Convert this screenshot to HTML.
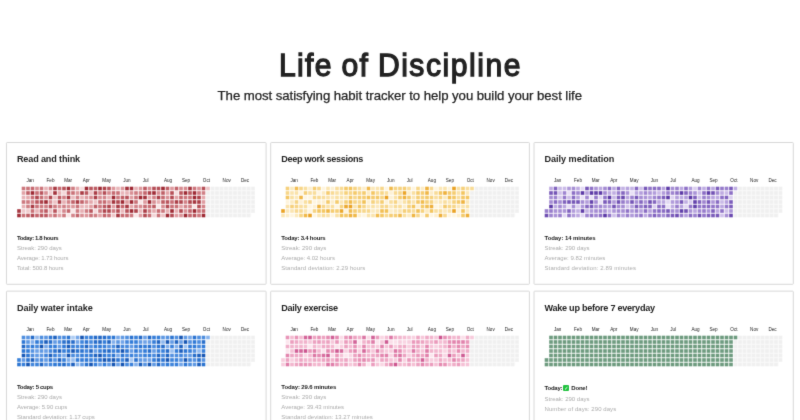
<!DOCTYPE html>
<html lang="en"><head><meta charset="utf-8"><title>Life of Discipline</title>
<style>
html,body{margin:0;padding:0;background:#fff;}
body{width:800px;height:420px;overflow:hidden;position:relative;font-family:"Liberation Sans",sans-serif;color:#222;}
h1{position:absolute;margin:0;left:278.9px;top:50.2px;transform:scaleX(0.94);transform-origin:0 0;font-weight:normal;font-size:32px;line-height:30px;color:#222;white-space:nowrap;-webkit-text-stroke:1.3px #222;}
.sub{position:absolute;margin:0;left:217.6px;top:89px;font-size:13.2px;line-height:14px;color:#222;white-space:nowrap;-webkit-text-stroke:0.25px #222;}
.card{position:absolute;}
.card svg{position:absolute;left:-4px;top:-4px;overflow:visible;}
.card h2{position:absolute;margin:0;font-size:9.1px;line-height:10px;font-weight:bold;white-space:nowrap;color:#222;}
.st{position:absolute;margin:0;font-size:6.0px;line-height:10px;white-space:nowrap;color:#acacac;}
.st.b{font-weight:bold;color:#222;}
.ck{display:inline-block;width:6px;height:6px;background:#22c240;border-radius:1px;vertical-align:0;color:#fff;font-size:5px;line-height:6px;text-align:center;font-family:"DejaVu Sans",sans-serif;letter-spacing:0;margin:0 2.1px 0 -0.5px;}
.m{font-size:4.6px;fill:#222;font-family:"Liberation Sans",sans-serif;text-anchor:middle;}
.fr{fill:#fff;stroke:#d8d8d8;stroke-width:1;}
#w{position:absolute;left:0;top:0;width:800px;height:420px;overflow:hidden;background:#fff;filter:url(#soft);}
</style></head><body>
<svg width="0" height="0" style="position:absolute"><defs><filter id="soft" x="0" y="0" width="100%" height="100%" color-interpolation-filters="sRGB"><feConvolveMatrix order="3" kernelMatrix="1 8 1 8 64 8 1 8 1" divisor="100" edgeMode="duplicate" preserveAlpha="true"/></filter></defs></svg>
<div id="w">
<h1 style="letter-spacing:1.417px;word-spacing:-1.1px">Life of <span style="letter-spacing:1.627px">Discipline</span></h1>
<p class="sub" style="letter-spacing:-0.054px">The most satisfying habit tracker to help you build your best life</p>
<div class="card" style="left:6px;top:142px;width:262px;height:144px">
<svg width="270" height="152"><g transform="translate(-2,-138)">
<rect class="fr" x="6.45" y="142.5" width="259.65" height="141.8" rx="0.7"/>
<g transform="translate(17.2,186.7)">
<text class="m" x="13" y="-4.53">Jan</text><text class="m" x="33.3" y="-4.53">Feb</text><text class="m" x="51" y="-4.53">Mar</text><text class="m" x="69.1" y="-4.53">Apr</text><text class="m" x="89.5" y="-4.53">May</text><text class="m" x="109.7" y="-4.53">Jun</text><text class="m" x="128.5" y="-4.53">Jul</text><text class="m" x="150.8" y="-4.53">Aug</text><text class="m" x="168.8" y="-4.53">Sep</text><text class="m" x="189.2" y="-4.53">Oct</text><text class="m" x="209.5" y="-4.53">Nov</text><text class="m" x="227.8" y="-4.53">Dec</text>
<rect x="4.5" y="0" width="183.6" height="30.6" fill="#fdfafa"/><rect x="0" y="22.5" width="4.5" height="8.1" fill="#fdfafa"/><rect x="188" y="0" width="4.6" height="3.6" fill="#fdfafa"/><rect x="193.5" y="0" width="40.5" height="30.6" fill="#fafafa"/><rect x="234" y="0" width="3.6" height="26.1" fill="#fafafa"/><rect x="189" y="4.5" width="4.5" height="26.1" fill="#fafafa"/>
<rect x="0" y="22.5" width="3.6" height="3.6" fill="#a73842"/><rect x="0" y="27" width="3.6" height="3.6" fill="#a2303a"/>
<rect x="4.5" y="0" width="3.6" height="3.6" fill="#cc777d"/><rect x="4.5" y="4.5" width="3.6" height="3.6" fill="#e2a3a7"/><rect x="4.5" y="9" width="3.6" height="3.6" fill="#e8b4b8"/><rect x="4.5" y="13.5" width="3.6" height="3.6" fill="#cd797f"/><rect x="4.5" y="18" width="3.6" height="3.6" fill="#e7b1b4"/><rect x="4.5" y="22.5" width="3.6" height="3.6" fill="#efc7ca"/><rect x="4.5" y="27" width="3.6" height="3.6" fill="#c97076"/>
<rect x="9" y="0" width="3.6" height="3.6" fill="#ca7379"/><rect x="9" y="4.5" width="3.6" height="3.6" fill="#bf5e65"/><rect x="9" y="9" width="3.6" height="3.6" fill="#e5abae"/><rect x="9" y="13.5" width="3.6" height="3.6" fill="#ce7a80"/><rect x="9" y="18" width="3.6" height="3.6" fill="#d07e83"/><rect x="9" y="22.5" width="3.6" height="3.6" fill="#f0cbcd"/><rect x="9" y="27" width="3.6" height="3.6" fill="#bf5e65"/>
<rect x="13.5" y="0" width="3.6" height="3.6" fill="#c66970"/><rect x="13.5" y="4.5" width="3.6" height="3.6" fill="#9e2a34"/><rect x="13.5" y="9" width="3.6" height="3.6" fill="#c96f76"/><rect x="13.5" y="13.5" width="3.6" height="3.6" fill="#d28287"/><rect x="13.5" y="18" width="3.6" height="3.6" fill="#a93b44"/><rect x="13.5" y="22.5" width="3.6" height="3.6" fill="#c97076"/><rect x="13.5" y="27" width="3.6" height="3.6" fill="#b34b54"/>
<rect x="18" y="0" width="3.6" height="3.6" fill="#d78e93"/><rect x="18" y="4.5" width="3.6" height="3.6" fill="#c86f75"/><rect x="18" y="9" width="3.6" height="3.6" fill="#af464e"/><rect x="18" y="13.5" width="3.6" height="3.6" fill="#ba565e"/><rect x="18" y="18" width="3.6" height="3.6" fill="#cb737a"/><rect x="18" y="22.5" width="3.6" height="3.6" fill="#e8b4b7"/><rect x="18" y="27" width="3.6" height="3.6" fill="#c2636a"/>
<rect x="22.5" y="0" width="3.6" height="3.6" fill="#cc767c"/><rect x="22.5" y="4.5" width="3.6" height="3.6" fill="#b9555d"/><rect x="22.5" y="9" width="3.6" height="3.6" fill="#c86f75"/><rect x="22.5" y="13.5" width="3.6" height="3.6" fill="#ad424b"/><rect x="22.5" y="18" width="3.6" height="3.6" fill="#cf7d83"/><rect x="22.5" y="22.5" width="3.6" height="3.6" fill="#c96f76"/><rect x="22.5" y="27" width="3.6" height="3.6" fill="#bb585f"/>
<rect x="27" y="0" width="3.6" height="3.6" fill="#e8b4b7"/><rect x="27" y="4.5" width="3.6" height="3.6" fill="#d88f94"/><rect x="27" y="9" width="3.6" height="3.6" fill="#db9599"/><rect x="27" y="13.5" width="3.6" height="3.6" fill="#9e2a34"/><rect x="27" y="18" width="3.6" height="3.6" fill="#d07f85"/><rect x="27" y="22.5" width="3.6" height="3.6" fill="#bb5860"/><rect x="27" y="27" width="3.6" height="3.6" fill="#bc5a62"/>
<rect x="31.5" y="0" width="3.6" height="3.6" fill="#d5898e"/><rect x="31.5" y="4.5" width="3.6" height="3.6" fill="#f1cdd0"/><rect x="31.5" y="9" width="3.6" height="3.6" fill="#b14951"/><rect x="31.5" y="13.5" width="3.6" height="3.6" fill="#d99095"/><rect x="31.5" y="18" width="3.6" height="3.6" fill="#b9555d"/><rect x="31.5" y="22.5" width="3.6" height="3.6" fill="#ecc0c3"/><rect x="31.5" y="27" width="3.6" height="3.6" fill="#d99196"/>
<rect x="36" y="0" width="3.6" height="3.6" fill="#a83a43"/><rect x="36" y="4.5" width="3.6" height="3.6" fill="#a2313b"/><rect x="36" y="9" width="3.6" height="3.6" fill="#ecc0c3"/><rect x="36" y="13.5" width="3.6" height="3.6" fill="#edc2c4"/><rect x="36" y="18" width="3.6" height="3.6" fill="#cf7d82"/><rect x="36" y="22.5" width="3.6" height="3.6" fill="#b9545c"/><rect x="36" y="27" width="3.6" height="3.6" fill="#ca7278"/>
<rect x="40.5" y="0" width="3.6" height="3.6" fill="#c66a71"/><rect x="40.5" y="4.5" width="3.6" height="3.6" fill="#e6afb2"/><rect x="40.5" y="9" width="3.6" height="3.6" fill="#bd5c63"/><rect x="40.5" y="13.5" width="3.6" height="3.6" fill="#ad414a"/><rect x="40.5" y="18" width="3.6" height="3.6" fill="#d99196"/><rect x="40.5" y="22.5" width="3.6" height="3.6" fill="#efc7c9"/><rect x="40.5" y="27" width="3.6" height="3.6" fill="#e2a2a6"/>
<rect x="45" y="0" width="3.6" height="3.6" fill="#b8535b"/><rect x="45" y="4.5" width="3.6" height="3.6" fill="#f4d7d9"/><rect x="45" y="9" width="3.6" height="3.6" fill="#d07f85"/><rect x="45" y="13.5" width="3.6" height="3.6" fill="#e6afb2"/><rect x="45" y="18" width="3.6" height="3.6" fill="#d18187"/><rect x="45" y="22.5" width="3.6" height="3.6" fill="#d4878d"/><rect x="45" y="27" width="3.6" height="3.6" fill="#ce797f"/>
<rect x="49.5" y="0" width="3.6" height="3.6" fill="#a02e37"/><rect x="49.5" y="4.5" width="3.6" height="3.6" fill="#c3646b"/><rect x="49.5" y="9" width="3.6" height="3.6" fill="#a6363f"/><rect x="49.5" y="13.5" width="3.6" height="3.6" fill="#d28287"/><rect x="49.5" y="18" width="3.6" height="3.6" fill="#da9498"/><rect x="49.5" y="22.5" width="3.6" height="3.6" fill="#c4666d"/><rect x="49.5" y="27" width="3.6" height="3.6" fill="#f9e6e7"/>
<rect x="54" y="0" width="3.6" height="3.6" fill="#cf7c82"/><rect x="54" y="4.5" width="3.6" height="3.6" fill="#ca7278"/><rect x="54" y="9" width="3.6" height="3.6" fill="#ebbcbf"/><rect x="54" y="13.5" width="3.6" height="3.6" fill="#c16269"/><rect x="54" y="18" width="3.6" height="3.6" fill="#dc989c"/><rect x="54" y="22.5" width="3.6" height="3.6" fill="#f9e6e7"/><rect x="54" y="27" width="3.6" height="3.6" fill="#d3858b"/>
<rect x="58.5" y="0" width="3.6" height="3.6" fill="#e6aeb2"/><rect x="58.5" y="4.5" width="3.6" height="3.6" fill="#db969a"/><rect x="58.5" y="9" width="3.6" height="3.6" fill="#d28288"/><rect x="58.5" y="13.5" width="3.6" height="3.6" fill="#a83a43"/><rect x="58.5" y="18" width="3.6" height="3.6" fill="#cb757b"/><rect x="58.5" y="22.5" width="3.6" height="3.6" fill="#cf7c82"/><rect x="58.5" y="27" width="3.6" height="3.6" fill="#c4666d"/>
<rect x="63" y="0" width="3.6" height="3.6" fill="#f6dcdd"/><rect x="63" y="4.5" width="3.6" height="3.6" fill="#a93b44"/><rect x="63" y="9" width="3.6" height="3.6" fill="#e8b4b7"/><rect x="63" y="13.5" width="3.6" height="3.6" fill="#c2636a"/><rect x="63" y="18" width="3.6" height="3.6" fill="#e9b6ba"/><rect x="63" y="22.5" width="3.6" height="3.6" fill="#e6aeb2"/><rect x="63" y="27" width="3.6" height="3.6" fill="#d88f94"/>
<rect x="67.5" y="0" width="3.6" height="3.6" fill="#9e2a34"/><rect x="67.5" y="4.5" width="3.6" height="3.6" fill="#ba565e"/><rect x="67.5" y="9" width="3.6" height="3.6" fill="#de9a9f"/><rect x="67.5" y="13.5" width="3.6" height="3.6" fill="#d5898f"/><rect x="67.5" y="18" width="3.6" height="3.6" fill="#e9b8bb"/><rect x="67.5" y="22.5" width="3.6" height="3.6" fill="#cf7c82"/><rect x="67.5" y="27" width="3.6" height="3.6" fill="#dd989d"/>
<rect x="72" y="0" width="3.6" height="3.6" fill="#b9555d"/><rect x="72" y="4.5" width="3.6" height="3.6" fill="#edc3c6"/><rect x="72" y="9" width="3.6" height="3.6" fill="#d78c91"/><rect x="72" y="13.5" width="3.6" height="3.6" fill="#e4a7ab"/><rect x="72" y="18" width="3.6" height="3.6" fill="#e1a0a4"/><rect x="72" y="22.5" width="3.6" height="3.6" fill="#b9555d"/><rect x="72" y="27" width="3.6" height="3.6" fill="#cb737a"/>
<rect x="76.5" y="0" width="3.6" height="3.6" fill="#bd5c63"/><rect x="76.5" y="4.5" width="3.6" height="3.6" fill="#aa3d46"/><rect x="76.5" y="9" width="3.6" height="3.6" fill="#ab3f48"/><rect x="76.5" y="13.5" width="3.6" height="3.6" fill="#edc4c6"/><rect x="76.5" y="18" width="3.6" height="3.6" fill="#bf5e66"/><rect x="76.5" y="22.5" width="3.6" height="3.6" fill="#f5d9db"/><rect x="76.5" y="27" width="3.6" height="3.6" fill="#d07e83"/>
<rect x="81" y="0" width="3.6" height="3.6" fill="#9e2a34"/><rect x="81" y="4.5" width="3.6" height="3.6" fill="#d3848a"/><rect x="81" y="9" width="3.6" height="3.6" fill="#d88e93"/><rect x="81" y="13.5" width="3.6" height="3.6" fill="#c97178"/><rect x="81" y="18" width="3.6" height="3.6" fill="#cd797f"/><rect x="81" y="22.5" width="3.6" height="3.6" fill="#cd797f"/><rect x="81" y="27" width="3.6" height="3.6" fill="#e2a2a6"/>
<rect x="85.5" y="0" width="3.6" height="3.6" fill="#ae434b"/><rect x="85.5" y="4.5" width="3.6" height="3.6" fill="#b44c55"/><rect x="85.5" y="9" width="3.6" height="3.6" fill="#d3858b"/><rect x="85.5" y="13.5" width="3.6" height="3.6" fill="#c66a70"/><rect x="85.5" y="18" width="3.6" height="3.6" fill="#bb5860"/><rect x="85.5" y="22.5" width="3.6" height="3.6" fill="#af454e"/><rect x="85.5" y="27" width="3.6" height="3.6" fill="#c4656c"/>
<rect x="90" y="0" width="3.6" height="3.6" fill="#ba565e"/><rect x="90" y="4.5" width="3.6" height="3.6" fill="#d5888d"/><rect x="90" y="9" width="3.6" height="3.6" fill="#e8b3b7"/><rect x="90" y="13.5" width="3.6" height="3.6" fill="#db9499"/><rect x="90" y="18" width="3.6" height="3.6" fill="#b0464e"/><rect x="90" y="22.5" width="3.6" height="3.6" fill="#b14850"/><rect x="90" y="27" width="3.6" height="3.6" fill="#ca7279"/>
<rect x="94.5" y="0" width="3.6" height="3.6" fill="#dd989d"/><rect x="94.5" y="4.5" width="3.6" height="3.6" fill="#c66a71"/><rect x="94.5" y="9" width="3.6" height="3.6" fill="#9e2a34"/><rect x="94.5" y="13.5" width="3.6" height="3.6" fill="#a5353e"/><rect x="94.5" y="18" width="3.6" height="3.6" fill="#e09ea3"/><rect x="94.5" y="22.5" width="3.6" height="3.6" fill="#cf7c82"/><rect x="94.5" y="27" width="3.6" height="3.6" fill="#efc8ca"/>
<rect x="99" y="0" width="3.6" height="3.6" fill="#e9b7ba"/><rect x="99" y="4.5" width="3.6" height="3.6" fill="#c97077"/><rect x="99" y="9" width="3.6" height="3.6" fill="#cd797f"/><rect x="99" y="13.5" width="3.6" height="3.6" fill="#b14951"/><rect x="99" y="18" width="3.6" height="3.6" fill="#a83943"/><rect x="99" y="22.5" width="3.6" height="3.6" fill="#b64f57"/><rect x="99" y="27" width="3.6" height="3.6" fill="#a63740"/>
<rect x="103.5" y="0" width="3.6" height="3.6" fill="#dc979c"/><rect x="103.5" y="4.5" width="3.6" height="3.6" fill="#e9b6ba"/><rect x="103.5" y="9" width="3.6" height="3.6" fill="#c06067"/><rect x="103.5" y="13.5" width="3.6" height="3.6" fill="#9e2a34"/><rect x="103.5" y="18" width="3.6" height="3.6" fill="#c5676e"/><rect x="103.5" y="22.5" width="3.6" height="3.6" fill="#e9b8bb"/><rect x="103.5" y="27" width="3.6" height="3.6" fill="#c86d74"/>
<rect x="108" y="0" width="3.6" height="3.6" fill="#a3313b"/><rect x="108" y="4.5" width="3.6" height="3.6" fill="#e7b1b5"/><rect x="108" y="9" width="3.6" height="3.6" fill="#b75159"/><rect x="108" y="13.5" width="3.6" height="3.6" fill="#de9b9f"/><rect x="108" y="18" width="3.6" height="3.6" fill="#a83942"/><rect x="108" y="22.5" width="3.6" height="3.6" fill="#b7525a"/><rect x="108" y="27" width="3.6" height="3.6" fill="#c66a71"/>
<rect x="112.5" y="0" width="3.6" height="3.6" fill="#9e2a34"/><rect x="112.5" y="4.5" width="3.6" height="3.6" fill="#d99095"/><rect x="112.5" y="9" width="3.6" height="3.6" fill="#e09ea3"/><rect x="112.5" y="13.5" width="3.6" height="3.6" fill="#9e2a34"/><rect x="112.5" y="18" width="3.6" height="3.6" fill="#e4a9ac"/><rect x="112.5" y="22.5" width="3.6" height="3.6" fill="#9e2a34"/><rect x="112.5" y="27" width="3.6" height="3.6" fill="#cf7c82"/>
<rect x="117" y="0" width="3.6" height="3.6" fill="#e7b1b5"/><rect x="117" y="4.5" width="3.6" height="3.6" fill="#ce7a80"/><rect x="117" y="9" width="3.6" height="3.6" fill="#cb737a"/><rect x="117" y="13.5" width="3.6" height="3.6" fill="#c97076"/><rect x="117" y="18" width="3.6" height="3.6" fill="#d3848a"/><rect x="117" y="22.5" width="3.6" height="3.6" fill="#ae434b"/><rect x="117" y="27" width="3.6" height="3.6" fill="#f9e6e7"/>
<rect x="121.5" y="0" width="3.6" height="3.6" fill="#dc989c"/><rect x="121.5" y="4.5" width="3.6" height="3.6" fill="#d5888d"/><rect x="121.5" y="9" width="3.6" height="3.6" fill="#9e2a34"/><rect x="121.5" y="13.5" width="3.6" height="3.6" fill="#f9e6e7"/><rect x="121.5" y="18" width="3.6" height="3.6" fill="#d78c91"/><rect x="121.5" y="22.5" width="3.6" height="3.6" fill="#e9b7ba"/><rect x="121.5" y="27" width="3.6" height="3.6" fill="#df9da2"/>
<rect x="126" y="0" width="3.6" height="3.6" fill="#bc5961"/><rect x="126" y="4.5" width="3.6" height="3.6" fill="#c3646c"/><rect x="126" y="9" width="3.6" height="3.6" fill="#a2313a"/><rect x="126" y="13.5" width="3.6" height="3.6" fill="#de9a9e"/><rect x="126" y="18" width="3.6" height="3.6" fill="#c76c73"/><rect x="126" y="22.5" width="3.6" height="3.6" fill="#ab3e47"/><rect x="126" y="27" width="3.6" height="3.6" fill="#b34c54"/>
<rect x="130.5" y="0" width="3.6" height="3.6" fill="#d78c91"/><rect x="130.5" y="4.5" width="3.6" height="3.6" fill="#ac4049"/><rect x="130.5" y="9" width="3.6" height="3.6" fill="#e5abaf"/><rect x="130.5" y="13.5" width="3.6" height="3.6" fill="#9e2a34"/><rect x="130.5" y="18" width="3.6" height="3.6" fill="#ca7278"/><rect x="130.5" y="22.5" width="3.6" height="3.6" fill="#d18086"/><rect x="130.5" y="27" width="3.6" height="3.6" fill="#c76c73"/>
<rect x="135" y="0" width="3.6" height="3.6" fill="#b54e57"/><rect x="135" y="4.5" width="3.6" height="3.6" fill="#9e2a34"/><rect x="135" y="9" width="3.6" height="3.6" fill="#d28287"/><rect x="135" y="13.5" width="3.6" height="3.6" fill="#d78e93"/><rect x="135" y="18" width="3.6" height="3.6" fill="#bd5c63"/><rect x="135" y="22.5" width="3.6" height="3.6" fill="#e4a8ac"/><rect x="135" y="27" width="3.6" height="3.6" fill="#f3d5d7"/>
<rect x="139.5" y="0" width="3.6" height="3.6" fill="#b54f57"/><rect x="139.5" y="4.5" width="3.6" height="3.6" fill="#d88e93"/><rect x="139.5" y="9" width="3.6" height="3.6" fill="#ac4049"/><rect x="139.5" y="13.5" width="3.6" height="3.6" fill="#e7b1b4"/><rect x="139.5" y="18" width="3.6" height="3.6" fill="#f9e6e7"/><rect x="139.5" y="22.5" width="3.6" height="3.6" fill="#c76b72"/><rect x="139.5" y="27" width="3.6" height="3.6" fill="#ca7278"/>
<rect x="144" y="0" width="3.6" height="3.6" fill="#9e2a34"/><rect x="144" y="4.5" width="3.6" height="3.6" fill="#bf5f66"/><rect x="144" y="9" width="3.6" height="3.6" fill="#c66a71"/><rect x="144" y="13.5" width="3.6" height="3.6" fill="#bd5c63"/><rect x="144" y="18" width="3.6" height="3.6" fill="#d78e93"/><rect x="144" y="22.5" width="3.6" height="3.6" fill="#cc767c"/><rect x="144" y="27" width="3.6" height="3.6" fill="#edc3c5"/>
<rect x="148.5" y="0" width="3.6" height="3.6" fill="#c05f66"/><rect x="148.5" y="4.5" width="3.6" height="3.6" fill="#e3a5a9"/><rect x="148.5" y="9" width="3.6" height="3.6" fill="#da9297"/><rect x="148.5" y="13.5" width="3.6" height="3.6" fill="#ba565e"/><rect x="148.5" y="18" width="3.6" height="3.6" fill="#b34b53"/><rect x="148.5" y="22.5" width="3.6" height="3.6" fill="#e7b0b3"/><rect x="148.5" y="27" width="3.6" height="3.6" fill="#9e2a34"/>
<rect x="153" y="0" width="3.6" height="3.6" fill="#dd999e"/><rect x="153" y="4.5" width="3.6" height="3.6" fill="#b64f57"/><rect x="153" y="9" width="3.6" height="3.6" fill="#b24952"/><rect x="153" y="13.5" width="3.6" height="3.6" fill="#c86e75"/><rect x="153" y="18" width="3.6" height="3.6" fill="#c97178"/><rect x="153" y="22.5" width="3.6" height="3.6" fill="#9e2a34"/><rect x="153" y="27" width="3.6" height="3.6" fill="#b44c55"/>
<rect x="157.5" y="0" width="3.6" height="3.6" fill="#c2636a"/><rect x="157.5" y="4.5" width="3.6" height="3.6" fill="#f6dcde"/><rect x="157.5" y="9" width="3.6" height="3.6" fill="#e1a2a6"/><rect x="157.5" y="13.5" width="3.6" height="3.6" fill="#ab3f48"/><rect x="157.5" y="18" width="3.6" height="3.6" fill="#c97076"/><rect x="157.5" y="22.5" width="3.6" height="3.6" fill="#e6adb1"/><rect x="157.5" y="27" width="3.6" height="3.6" fill="#df9ca1"/>
<rect x="162" y="0" width="3.6" height="3.6" fill="#d68a90"/><rect x="162" y="4.5" width="3.6" height="3.6" fill="#ba575e"/><rect x="162" y="9" width="3.6" height="3.6" fill="#c4666d"/><rect x="162" y="13.5" width="3.6" height="3.6" fill="#b0474f"/><rect x="162" y="18" width="3.6" height="3.6" fill="#e3a5a9"/><rect x="162" y="22.5" width="3.6" height="3.6" fill="#b14850"/><rect x="162" y="27" width="3.6" height="3.6" fill="#db9599"/>
<rect x="166.5" y="0" width="3.6" height="3.6" fill="#d68a8f"/><rect x="166.5" y="4.5" width="3.6" height="3.6" fill="#9e2a34"/><rect x="166.5" y="9" width="3.6" height="3.6" fill="#cc767c"/><rect x="166.5" y="13.5" width="3.6" height="3.6" fill="#d28287"/><rect x="166.5" y="18" width="3.6" height="3.6" fill="#d3858b"/><rect x="166.5" y="22.5" width="3.6" height="3.6" fill="#d88f94"/><rect x="166.5" y="27" width="3.6" height="3.6" fill="#9e2b35"/>
<rect x="171" y="0" width="3.6" height="3.6" fill="#a4343d"/><rect x="171" y="4.5" width="3.6" height="3.6" fill="#b9555d"/><rect x="171" y="9" width="3.6" height="3.6" fill="#c97077"/><rect x="171" y="13.5" width="3.6" height="3.6" fill="#af454d"/><rect x="171" y="18" width="3.6" height="3.6" fill="#d07e84"/><rect x="171" y="22.5" width="3.6" height="3.6" fill="#c2626a"/><rect x="171" y="27" width="3.6" height="3.6" fill="#c3656c"/>
<rect x="175.5" y="0" width="3.6" height="3.6" fill="#cc757c"/><rect x="175.5" y="4.5" width="3.6" height="3.6" fill="#9e2a34"/><rect x="175.5" y="9" width="3.6" height="3.6" fill="#9e2a34"/><rect x="175.5" y="13.5" width="3.6" height="3.6" fill="#a63640"/><rect x="175.5" y="18" width="3.6" height="3.6" fill="#f7e1e2"/><rect x="175.5" y="22.5" width="3.6" height="3.6" fill="#9e2a34"/><rect x="175.5" y="27" width="3.6" height="3.6" fill="#ba565e"/>
<rect x="180" y="0" width="3.6" height="3.6" fill="#da9297"/><rect x="180" y="4.5" width="3.6" height="3.6" fill="#cf7b81"/><rect x="180" y="9" width="3.6" height="3.6" fill="#ac4049"/><rect x="180" y="13.5" width="3.6" height="3.6" fill="#ab3e47"/><rect x="180" y="18" width="3.6" height="3.6" fill="#b54e56"/><rect x="180" y="22.5" width="3.6" height="3.6" fill="#ca7379"/><rect x="180" y="27" width="3.6" height="3.6" fill="#cd787e"/>
<rect x="184.5" y="0" width="3.6" height="3.6" fill="#b64f57"/><rect x="184.5" y="4.5" width="3.6" height="3.6" fill="#d07f85"/><rect x="184.5" y="9" width="3.6" height="3.6" fill="#e5aaae"/><rect x="184.5" y="13.5" width="3.6" height="3.6" fill="#de9ba0"/><rect x="184.5" y="18" width="3.6" height="3.6" fill="#d28287"/><rect x="184.5" y="22.5" width="3.6" height="3.6" fill="#c5696f"/><rect x="184.5" y="27" width="3.6" height="3.6" fill="#9e2a34"/>
<rect x="189" y="0" width="3.6" height="3.6" fill="#edc4c6"/><rect x="189" y="4.5" width="3.6" height="3.6" fill="#f0f0f0"/><rect x="189" y="9" width="3.6" height="3.6" fill="#f0f0f0"/><rect x="189" y="13.5" width="3.6" height="3.6" fill="#f0f0f0"/><rect x="189" y="18" width="3.6" height="3.6" fill="#f0f0f0"/><rect x="189" y="22.5" width="3.6" height="3.6" fill="#f0f0f0"/><rect x="189" y="27" width="3.6" height="3.6" fill="#f0f0f0"/>
<rect x="193.5" y="0" width="3.6" height="3.6" fill="#f0f0f0"/><rect x="193.5" y="4.5" width="3.6" height="3.6" fill="#f0f0f0"/><rect x="193.5" y="9" width="3.6" height="3.6" fill="#f0f0f0"/><rect x="193.5" y="13.5" width="3.6" height="3.6" fill="#f0f0f0"/><rect x="193.5" y="18" width="3.6" height="3.6" fill="#f0f0f0"/><rect x="193.5" y="22.5" width="3.6" height="3.6" fill="#f0f0f0"/><rect x="193.5" y="27" width="3.6" height="3.6" fill="#f0f0f0"/>
<rect x="198" y="0" width="3.6" height="3.6" fill="#f0f0f0"/><rect x="198" y="4.5" width="3.6" height="3.6" fill="#f0f0f0"/><rect x="198" y="9" width="3.6" height="3.6" fill="#f0f0f0"/><rect x="198" y="13.5" width="3.6" height="3.6" fill="#f0f0f0"/><rect x="198" y="18" width="3.6" height="3.6" fill="#f0f0f0"/><rect x="198" y="22.5" width="3.6" height="3.6" fill="#f0f0f0"/><rect x="198" y="27" width="3.6" height="3.6" fill="#f0f0f0"/>
<rect x="202.5" y="0" width="3.6" height="3.6" fill="#f0f0f0"/><rect x="202.5" y="4.5" width="3.6" height="3.6" fill="#f0f0f0"/><rect x="202.5" y="9" width="3.6" height="3.6" fill="#f0f0f0"/><rect x="202.5" y="13.5" width="3.6" height="3.6" fill="#f0f0f0"/><rect x="202.5" y="18" width="3.6" height="3.6" fill="#f0f0f0"/><rect x="202.5" y="22.5" width="3.6" height="3.6" fill="#f0f0f0"/><rect x="202.5" y="27" width="3.6" height="3.6" fill="#f0f0f0"/>
<rect x="207" y="0" width="3.6" height="3.6" fill="#f0f0f0"/><rect x="207" y="4.5" width="3.6" height="3.6" fill="#f0f0f0"/><rect x="207" y="9" width="3.6" height="3.6" fill="#f0f0f0"/><rect x="207" y="13.5" width="3.6" height="3.6" fill="#f0f0f0"/><rect x="207" y="18" width="3.6" height="3.6" fill="#f0f0f0"/><rect x="207" y="22.5" width="3.6" height="3.6" fill="#f0f0f0"/><rect x="207" y="27" width="3.6" height="3.6" fill="#f0f0f0"/>
<rect x="211.5" y="0" width="3.6" height="3.6" fill="#f0f0f0"/><rect x="211.5" y="4.5" width="3.6" height="3.6" fill="#f0f0f0"/><rect x="211.5" y="9" width="3.6" height="3.6" fill="#f0f0f0"/><rect x="211.5" y="13.5" width="3.6" height="3.6" fill="#f0f0f0"/><rect x="211.5" y="18" width="3.6" height="3.6" fill="#f0f0f0"/><rect x="211.5" y="22.5" width="3.6" height="3.6" fill="#f0f0f0"/><rect x="211.5" y="27" width="3.6" height="3.6" fill="#f0f0f0"/>
<rect x="216" y="0" width="3.6" height="3.6" fill="#f0f0f0"/><rect x="216" y="4.5" width="3.6" height="3.6" fill="#f0f0f0"/><rect x="216" y="9" width="3.6" height="3.6" fill="#f0f0f0"/><rect x="216" y="13.5" width="3.6" height="3.6" fill="#f0f0f0"/><rect x="216" y="18" width="3.6" height="3.6" fill="#f0f0f0"/><rect x="216" y="22.5" width="3.6" height="3.6" fill="#f0f0f0"/><rect x="216" y="27" width="3.6" height="3.6" fill="#f0f0f0"/>
<rect x="220.5" y="0" width="3.6" height="3.6" fill="#f0f0f0"/><rect x="220.5" y="4.5" width="3.6" height="3.6" fill="#f0f0f0"/><rect x="220.5" y="9" width="3.6" height="3.6" fill="#f0f0f0"/><rect x="220.5" y="13.5" width="3.6" height="3.6" fill="#f0f0f0"/><rect x="220.5" y="18" width="3.6" height="3.6" fill="#f0f0f0"/><rect x="220.5" y="22.5" width="3.6" height="3.6" fill="#f0f0f0"/><rect x="220.5" y="27" width="3.6" height="3.6" fill="#f0f0f0"/>
<rect x="225" y="0" width="3.6" height="3.6" fill="#f0f0f0"/><rect x="225" y="4.5" width="3.6" height="3.6" fill="#f0f0f0"/><rect x="225" y="9" width="3.6" height="3.6" fill="#f0f0f0"/><rect x="225" y="13.5" width="3.6" height="3.6" fill="#f0f0f0"/><rect x="225" y="18" width="3.6" height="3.6" fill="#f0f0f0"/><rect x="225" y="22.5" width="3.6" height="3.6" fill="#f0f0f0"/><rect x="225" y="27" width="3.6" height="3.6" fill="#f0f0f0"/>
<rect x="229.5" y="0" width="3.6" height="3.6" fill="#f0f0f0"/><rect x="229.5" y="4.5" width="3.6" height="3.6" fill="#f0f0f0"/><rect x="229.5" y="9" width="3.6" height="3.6" fill="#f0f0f0"/><rect x="229.5" y="13.5" width="3.6" height="3.6" fill="#f0f0f0"/><rect x="229.5" y="18" width="3.6" height="3.6" fill="#f0f0f0"/><rect x="229.5" y="22.5" width="3.6" height="3.6" fill="#f0f0f0"/><rect x="229.5" y="27" width="3.6" height="3.6" fill="#f0f0f0"/>
<rect x="234" y="0" width="3.6" height="3.6" fill="#f0f0f0"/><rect x="234" y="4.5" width="3.6" height="3.6" fill="#f0f0f0"/><rect x="234" y="9" width="3.6" height="3.6" fill="#f0f0f0"/><rect x="234" y="13.5" width="3.6" height="3.6" fill="#f0f0f0"/><rect x="234" y="18" width="3.6" height="3.6" fill="#f0f0f0"/><rect x="234" y="22.5" width="3.6" height="3.6" fill="#f0f0f0"/>
</g></g></svg>
<h2 style="left:10.90px;top:11.70px;letter-spacing:-0.149px">Read and think</h2>
<p class="st b" style="left:10.90px;top:91.32px;letter-spacing:-0.385px">Today: 1.8 hours</p>
<p class="st" style="left:10.90px;top:101.37px;letter-spacing:-0.008px">Streak: 290 days</p>
<p class="st" style="left:10.90px;top:111.42px;letter-spacing:-0.133px">Average: 1.73 hours</p>
<p class="st" style="left:10.90px;top:121.47px;letter-spacing:-0.061px">Total: 500.8 hours</p>
</div>
<div class="card" style="left:270px;top:142px;width:261px;height:144px">
<svg width="269" height="152"><g transform="translate(-266,-138)">
<rect class="fr" x="270.7" y="142.5" width="258.7" height="141.8" rx="0.7"/>
<g transform="translate(281.2,186.7)">
<text class="m" x="12.9" y="-4.53">Jan</text><text class="m" x="33.2" y="-4.53">Feb</text><text class="m" x="50.9" y="-4.53">Mar</text><text class="m" x="69" y="-4.53">Apr</text><text class="m" x="89.4" y="-4.53">May</text><text class="m" x="109.6" y="-4.53">Jun</text><text class="m" x="128.4" y="-4.53">Jul</text><text class="m" x="150.7" y="-4.53">Aug</text><text class="m" x="168.7" y="-4.53">Sep</text><text class="m" x="189.1" y="-4.53">Oct</text><text class="m" x="209.4" y="-4.53">Nov</text><text class="m" x="227.7" y="-4.53">Dec</text>
<rect x="4.5" y="0" width="183.6" height="30.6" fill="#fffefb"/><rect x="0" y="22.5" width="4.5" height="8.1" fill="#fffefb"/><rect x="188" y="0" width="4.6" height="3.6" fill="#fffefb"/><rect x="193.5" y="0" width="40.5" height="30.6" fill="#fafafa"/><rect x="234" y="0" width="3.6" height="26.1" fill="#fafafa"/><rect x="189" y="4.5" width="4.5" height="26.1" fill="#fafafa"/>
<rect x="0" y="22.5" width="3.6" height="3.6" fill="#eaa224"/><rect x="0" y="27" width="3.6" height="3.6" fill="#fbe6b6"/>
<rect x="4.5" y="0" width="3.6" height="3.6" fill="#f6d17d"/><rect x="4.5" y="4.5" width="3.6" height="3.6" fill="#f7d68a"/><rect x="4.5" y="9" width="3.6" height="3.6" fill="#f4c764"/><rect x="4.5" y="13.5" width="3.6" height="3.6" fill="#fef4dc"/><rect x="4.5" y="18" width="3.6" height="3.6" fill="#fae2a9"/><rect x="4.5" y="22.5" width="3.6" height="3.6" fill="#fbe8ba"/><rect x="4.5" y="27" width="3.6" height="3.6" fill="#fceecb"/>
<rect x="9" y="0" width="3.6" height="3.6" fill="#fbeabf"/><rect x="9" y="4.5" width="3.6" height="3.6" fill="#fae4ae"/><rect x="9" y="9" width="3.6" height="3.6" fill="#f9e0a2"/><rect x="9" y="13.5" width="3.6" height="3.6" fill="#fcebc2"/><rect x="9" y="18" width="3.6" height="3.6" fill="#f6d07b"/><rect x="9" y="22.5" width="3.6" height="3.6" fill="#fae4b0"/><rect x="9" y="27" width="3.6" height="3.6" fill="#fef5e0"/>
<rect x="13.5" y="0" width="3.6" height="3.6" fill="#f2be53"/><rect x="13.5" y="4.5" width="3.6" height="3.6" fill="#fae2a8"/><rect x="13.5" y="9" width="3.6" height="3.6" fill="#fbe8ba"/><rect x="13.5" y="13.5" width="3.6" height="3.6" fill="#f6d484"/><rect x="13.5" y="18" width="3.6" height="3.6" fill="#f7d586"/><rect x="13.5" y="22.5" width="3.6" height="3.6" fill="#f8d88f"/><rect x="13.5" y="27" width="3.6" height="3.6" fill="#fbeabf"/>
<rect x="18" y="0" width="3.6" height="3.6" fill="#f7d588"/><rect x="18" y="4.5" width="3.6" height="3.6" fill="#fef5e0"/><rect x="18" y="9" width="3.6" height="3.6" fill="#f0b747"/><rect x="18" y="13.5" width="3.6" height="3.6" fill="#fdf1d5"/><rect x="18" y="18" width="3.6" height="3.6" fill="#f9de9e"/><rect x="18" y="22.5" width="3.6" height="3.6" fill="#f8d991"/><rect x="18" y="27" width="3.6" height="3.6" fill="#f7d586"/>
<rect x="22.5" y="0" width="3.6" height="3.6" fill="#f9dfa0"/><rect x="22.5" y="4.5" width="3.6" height="3.6" fill="#f5cf78"/><rect x="22.5" y="9" width="3.6" height="3.6" fill="#fef5e0"/><rect x="22.5" y="13.5" width="3.6" height="3.6" fill="#f9df9f"/><rect x="22.5" y="18" width="3.6" height="3.6" fill="#f9e0a2"/><rect x="22.5" y="22.5" width="3.6" height="3.6" fill="#fae5b0"/><rect x="22.5" y="27" width="3.6" height="3.6" fill="#f0b949"/>
<rect x="27" y="0" width="3.6" height="3.6" fill="#fceecd"/><rect x="27" y="4.5" width="3.6" height="3.6" fill="#f9de9e"/><rect x="27" y="9" width="3.6" height="3.6" fill="#fef5e0"/><rect x="27" y="13.5" width="3.6" height="3.6" fill="#f7d68b"/><rect x="27" y="18" width="3.6" height="3.6" fill="#fef5e0"/><rect x="27" y="22.5" width="3.6" height="3.6" fill="#fef5e0"/><rect x="27" y="27" width="3.6" height="3.6" fill="#eaa224"/>
<rect x="31.5" y="0" width="3.6" height="3.6" fill="#f5cd73"/><rect x="31.5" y="4.5" width="3.6" height="3.6" fill="#f8dd9a"/><rect x="31.5" y="9" width="3.6" height="3.6" fill="#f8d990"/><rect x="31.5" y="13.5" width="3.6" height="3.6" fill="#fef5e0"/><rect x="31.5" y="18" width="3.6" height="3.6" fill="#fdf0d1"/><rect x="31.5" y="22.5" width="3.6" height="3.6" fill="#f6d382"/><rect x="31.5" y="27" width="3.6" height="3.6" fill="#fef5e0"/>
<rect x="36" y="0" width="3.6" height="3.6" fill="#f7d68b"/><rect x="36" y="4.5" width="3.6" height="3.6" fill="#fef5e0"/><rect x="36" y="9" width="3.6" height="3.6" fill="#f8da93"/><rect x="36" y="13.5" width="3.6" height="3.6" fill="#fdf1d4"/><rect x="36" y="18" width="3.6" height="3.6" fill="#eeb23e"/><rect x="36" y="22.5" width="3.6" height="3.6" fill="#f3c661"/><rect x="36" y="27" width="3.6" height="3.6" fill="#fbe6b5"/>
<rect x="40.5" y="0" width="3.6" height="3.6" fill="#fef5e0"/><rect x="40.5" y="4.5" width="3.6" height="3.6" fill="#fcebc3"/><rect x="40.5" y="9" width="3.6" height="3.6" fill="#f9de9d"/><rect x="40.5" y="13.5" width="3.6" height="3.6" fill="#fdefce"/><rect x="40.5" y="18" width="3.6" height="3.6" fill="#f7d68a"/><rect x="40.5" y="22.5" width="3.6" height="3.6" fill="#f4c762"/><rect x="40.5" y="27" width="3.6" height="3.6" fill="#f9de9d"/>
<rect x="45" y="0" width="3.6" height="3.6" fill="#fae5b1"/><rect x="45" y="4.5" width="3.6" height="3.6" fill="#f5cb6e"/><rect x="45" y="9" width="3.6" height="3.6" fill="#fae2aa"/><rect x="45" y="13.5" width="3.6" height="3.6" fill="#f4ca6a"/><rect x="45" y="18" width="3.6" height="3.6" fill="#fae3ab"/><rect x="45" y="22.5" width="3.6" height="3.6" fill="#efb644"/><rect x="45" y="27" width="3.6" height="3.6" fill="#fae2a9"/>
<rect x="49.5" y="0" width="3.6" height="3.6" fill="#fdf0d2"/><rect x="49.5" y="4.5" width="3.6" height="3.6" fill="#f8da94"/><rect x="49.5" y="9" width="3.6" height="3.6" fill="#fbe8bb"/><rect x="49.5" y="13.5" width="3.6" height="3.6" fill="#fceecb"/><rect x="49.5" y="18" width="3.6" height="3.6" fill="#f9dfa1"/><rect x="49.5" y="22.5" width="3.6" height="3.6" fill="#f5cc70"/><rect x="49.5" y="27" width="3.6" height="3.6" fill="#fef5e0"/>
<rect x="54" y="0" width="3.6" height="3.6" fill="#f9dd9c"/><rect x="54" y="4.5" width="3.6" height="3.6" fill="#f9e0a2"/><rect x="54" y="9" width="3.6" height="3.6" fill="#f9e0a2"/><rect x="54" y="13.5" width="3.6" height="3.6" fill="#f4cb6c"/><rect x="54" y="18" width="3.6" height="3.6" fill="#fef5df"/><rect x="54" y="22.5" width="3.6" height="3.6" fill="#f5ce74"/><rect x="54" y="27" width="3.6" height="3.6" fill="#f9e1a6"/>
<rect x="58.5" y="0" width="3.6" height="3.6" fill="#f8da93"/><rect x="58.5" y="4.5" width="3.6" height="3.6" fill="#f9e1a5"/><rect x="58.5" y="9" width="3.6" height="3.6" fill="#fae3ab"/><rect x="58.5" y="13.5" width="3.6" height="3.6" fill="#fbe6b5"/><rect x="58.5" y="18" width="3.6" height="3.6" fill="#f6d382"/><rect x="58.5" y="22.5" width="3.6" height="3.6" fill="#eba82d"/><rect x="58.5" y="27" width="3.6" height="3.6" fill="#f3c55e"/>
<rect x="63" y="0" width="3.6" height="3.6" fill="#f4c969"/><rect x="63" y="4.5" width="3.6" height="3.6" fill="#f6d079"/><rect x="63" y="9" width="3.6" height="3.6" fill="#fae5b2"/><rect x="63" y="13.5" width="3.6" height="3.6" fill="#f5cf76"/><rect x="63" y="18" width="3.6" height="3.6" fill="#eca82e"/><rect x="63" y="22.5" width="3.6" height="3.6" fill="#fef4dc"/><rect x="63" y="27" width="3.6" height="3.6" fill="#f4c96a"/>
<rect x="67.5" y="0" width="3.6" height="3.6" fill="#f3c55f"/><rect x="67.5" y="4.5" width="3.6" height="3.6" fill="#f7d588"/><rect x="67.5" y="9" width="3.6" height="3.6" fill="#f4ca6c"/><rect x="67.5" y="13.5" width="3.6" height="3.6" fill="#f1bb4d"/><rect x="67.5" y="18" width="3.6" height="3.6" fill="#eaa427"/><rect x="67.5" y="22.5" width="3.6" height="3.6" fill="#f1bd51"/><rect x="67.5" y="27" width="3.6" height="3.6" fill="#efb340"/>
<rect x="72" y="0" width="3.6" height="3.6" fill="#f7d484"/><rect x="72" y="4.5" width="3.6" height="3.6" fill="#f4c968"/><rect x="72" y="9" width="3.6" height="3.6" fill="#f7d78d"/><rect x="72" y="13.5" width="3.6" height="3.6" fill="#f7d586"/><rect x="72" y="18" width="3.6" height="3.6" fill="#fae4af"/><rect x="72" y="22.5" width="3.6" height="3.6" fill="#f5cc70"/><rect x="72" y="27" width="3.6" height="3.6" fill="#f0b949"/>
<rect x="76.5" y="0" width="3.6" height="3.6" fill="#f9de9f"/><rect x="76.5" y="4.5" width="3.6" height="3.6" fill="#f7d588"/><rect x="76.5" y="9" width="3.6" height="3.6" fill="#f5cd73"/><rect x="76.5" y="13.5" width="3.6" height="3.6" fill="#f8da94"/><rect x="76.5" y="18" width="3.6" height="3.6" fill="#f3c661"/><rect x="76.5" y="22.5" width="3.6" height="3.6" fill="#f7d587"/><rect x="76.5" y="27" width="3.6" height="3.6" fill="#fdf1d3"/>
<rect x="81" y="0" width="3.6" height="3.6" fill="#fceecc"/><rect x="81" y="4.5" width="3.6" height="3.6" fill="#f4cb6d"/><rect x="81" y="9" width="3.6" height="3.6" fill="#f5cd72"/><rect x="81" y="13.5" width="3.6" height="3.6" fill="#f2c258"/><rect x="81" y="18" width="3.6" height="3.6" fill="#f7d587"/><rect x="81" y="22.5" width="3.6" height="3.6" fill="#f7d689"/><rect x="81" y="27" width="3.6" height="3.6" fill="#fef5e0"/>
<rect x="85.5" y="0" width="3.6" height="3.6" fill="#f0b94b"/><rect x="85.5" y="4.5" width="3.6" height="3.6" fill="#fcecc5"/><rect x="85.5" y="9" width="3.6" height="3.6" fill="#f3c35b"/><rect x="85.5" y="13.5" width="3.6" height="3.6" fill="#fdf0d1"/><rect x="85.5" y="18" width="3.6" height="3.6" fill="#fbe7b8"/><rect x="85.5" y="22.5" width="3.6" height="3.6" fill="#f7d78c"/><rect x="85.5" y="27" width="3.6" height="3.6" fill="#fae3ab"/>
<rect x="90" y="0" width="3.6" height="3.6" fill="#fbe8b9"/><rect x="90" y="4.5" width="3.6" height="3.6" fill="#f4c662"/><rect x="90" y="9" width="3.6" height="3.6" fill="#f5cb6e"/><rect x="90" y="13.5" width="3.6" height="3.6" fill="#f6d27e"/><rect x="90" y="18" width="3.6" height="3.6" fill="#f9e1a6"/><rect x="90" y="22.5" width="3.6" height="3.6" fill="#fbeac0"/><rect x="90" y="27" width="3.6" height="3.6" fill="#fae4ae"/>
<rect x="94.5" y="0" width="3.6" height="3.6" fill="#fae4b0"/><rect x="94.5" y="4.5" width="3.6" height="3.6" fill="#f8db95"/><rect x="94.5" y="9" width="3.6" height="3.6" fill="#f4c969"/><rect x="94.5" y="13.5" width="3.6" height="3.6" fill="#f9de9d"/><rect x="94.5" y="18" width="3.6" height="3.6" fill="#fbe9be"/><rect x="94.5" y="22.5" width="3.6" height="3.6" fill="#fbe6b5"/><rect x="94.5" y="27" width="3.6" height="3.6" fill="#f1bc4f"/>
<rect x="99" y="0" width="3.6" height="3.6" fill="#f7d68a"/><rect x="99" y="4.5" width="3.6" height="3.6" fill="#f7d586"/><rect x="99" y="9" width="3.6" height="3.6" fill="#f7d484"/><rect x="99" y="13.5" width="3.6" height="3.6" fill="#f5cd72"/><rect x="99" y="18" width="3.6" height="3.6" fill="#f7d78c"/><rect x="99" y="22.5" width="3.6" height="3.6" fill="#f2bf54"/><rect x="99" y="27" width="3.6" height="3.6" fill="#f4c866"/>
<rect x="103.5" y="0" width="3.6" height="3.6" fill="#fef5e0"/><rect x="103.5" y="4.5" width="3.6" height="3.6" fill="#f9dd9b"/><rect x="103.5" y="9" width="3.6" height="3.6" fill="#eaa224"/><rect x="103.5" y="13.5" width="3.6" height="3.6" fill="#fdf2d6"/><rect x="103.5" y="18" width="3.6" height="3.6" fill="#f7d78c"/><rect x="103.5" y="22.5" width="3.6" height="3.6" fill="#f2c258"/><rect x="103.5" y="27" width="3.6" height="3.6" fill="#f8da93"/>
<rect x="108" y="0" width="3.6" height="3.6" fill="#f0ba4c"/><rect x="108" y="4.5" width="3.6" height="3.6" fill="#fdf1d5"/><rect x="108" y="9" width="3.6" height="3.6" fill="#fdf1d5"/><rect x="108" y="13.5" width="3.6" height="3.6" fill="#f9de9d"/><rect x="108" y="18" width="3.6" height="3.6" fill="#fbe8ba"/><rect x="108" y="22.5" width="3.6" height="3.6" fill="#fceecb"/><rect x="108" y="27" width="3.6" height="3.6" fill="#f5cd73"/>
<rect x="112.5" y="0" width="3.6" height="3.6" fill="#f6d484"/><rect x="112.5" y="4.5" width="3.6" height="3.6" fill="#f8d992"/><rect x="112.5" y="9" width="3.6" height="3.6" fill="#fae2a8"/><rect x="112.5" y="13.5" width="3.6" height="3.6" fill="#f7d484"/><rect x="112.5" y="18" width="3.6" height="3.6" fill="#f8dc99"/><rect x="112.5" y="22.5" width="3.6" height="3.6" fill="#fbe8b9"/><rect x="112.5" y="27" width="3.6" height="3.6" fill="#f5ce76"/>
<rect x="117" y="0" width="3.6" height="3.6" fill="#f6d17e"/><rect x="117" y="4.5" width="3.6" height="3.6" fill="#f7d88e"/><rect x="117" y="9" width="3.6" height="3.6" fill="#f4ca6c"/><rect x="117" y="13.5" width="3.6" height="3.6" fill="#fceecd"/><rect x="117" y="18" width="3.6" height="3.6" fill="#f9dd9a"/><rect x="117" y="22.5" width="3.6" height="3.6" fill="#fae4ae"/><rect x="117" y="27" width="3.6" height="3.6" fill="#f0ba4c"/>
<rect x="121.5" y="0" width="3.6" height="3.6" fill="#f5ce76"/><rect x="121.5" y="4.5" width="3.6" height="3.6" fill="#eba529"/><rect x="121.5" y="9" width="3.6" height="3.6" fill="#efb441"/><rect x="121.5" y="13.5" width="3.6" height="3.6" fill="#fae1a6"/><rect x="121.5" y="18" width="3.6" height="3.6" fill="#fceecc"/><rect x="121.5" y="22.5" width="3.6" height="3.6" fill="#f5cf78"/><rect x="121.5" y="27" width="3.6" height="3.6" fill="#f9e0a2"/>
<rect x="126" y="0" width="3.6" height="3.6" fill="#f9dd9b"/><rect x="126" y="4.5" width="3.6" height="3.6" fill="#fceeca"/><rect x="126" y="9" width="3.6" height="3.6" fill="#f5cc71"/><rect x="126" y="13.5" width="3.6" height="3.6" fill="#f7d688"/><rect x="126" y="18" width="3.6" height="3.6" fill="#f6d17c"/><rect x="126" y="22.5" width="3.6" height="3.6" fill="#f6d381"/><rect x="126" y="27" width="3.6" height="3.6" fill="#fcebc2"/>
<rect x="130.5" y="0" width="3.6" height="3.6" fill="#fef5e0"/><rect x="130.5" y="4.5" width="3.6" height="3.6" fill="#f9dfa1"/><rect x="130.5" y="9" width="3.6" height="3.6" fill="#fbe6b4"/><rect x="130.5" y="13.5" width="3.6" height="3.6" fill="#fae4af"/><rect x="130.5" y="18" width="3.6" height="3.6" fill="#f3c55e"/><rect x="130.5" y="22.5" width="3.6" height="3.6" fill="#f8dc98"/><rect x="130.5" y="27" width="3.6" height="3.6" fill="#efb644"/>
<rect x="135" y="0" width="3.6" height="3.6" fill="#f7d688"/><rect x="135" y="4.5" width="3.6" height="3.6" fill="#f4cb6d"/><rect x="135" y="9" width="3.6" height="3.6" fill="#f5cf76"/><rect x="135" y="13.5" width="3.6" height="3.6" fill="#f4c866"/><rect x="135" y="18" width="3.6" height="3.6" fill="#fdf1d4"/><rect x="135" y="22.5" width="3.6" height="3.6" fill="#f2c157"/><rect x="135" y="27" width="3.6" height="3.6" fill="#f7d78c"/>
<rect x="139.5" y="0" width="3.6" height="3.6" fill="#fcecc6"/><rect x="139.5" y="4.5" width="3.6" height="3.6" fill="#f5cc71"/><rect x="139.5" y="9" width="3.6" height="3.6" fill="#f6d27f"/><rect x="139.5" y="13.5" width="3.6" height="3.6" fill="#f1bc4e"/><rect x="139.5" y="18" width="3.6" height="3.6" fill="#f4ca6a"/><rect x="139.5" y="22.5" width="3.6" height="3.6" fill="#f6d27e"/><rect x="139.5" y="27" width="3.6" height="3.6" fill="#fef5e0"/>
<rect x="144" y="0" width="3.6" height="3.6" fill="#eeb13d"/><rect x="144" y="4.5" width="3.6" height="3.6" fill="#efb645"/><rect x="144" y="9" width="3.6" height="3.6" fill="#f4c968"/><rect x="144" y="13.5" width="3.6" height="3.6" fill="#f6d079"/><rect x="144" y="18" width="3.6" height="3.6" fill="#f1be52"/><rect x="144" y="22.5" width="3.6" height="3.6" fill="#fceac0"/><rect x="144" y="27" width="3.6" height="3.6" fill="#f4ca6c"/>
<rect x="148.5" y="0" width="3.6" height="3.6" fill="#f8d991"/><rect x="148.5" y="4.5" width="3.6" height="3.6" fill="#fcecc7"/><rect x="148.5" y="9" width="3.6" height="3.6" fill="#f6d27e"/><rect x="148.5" y="13.5" width="3.6" height="3.6" fill="#f6d27f"/><rect x="148.5" y="18" width="3.6" height="3.6" fill="#eeb03c"/><rect x="148.5" y="22.5" width="3.6" height="3.6" fill="#f3c55e"/><rect x="148.5" y="27" width="3.6" height="3.6" fill="#fef5e0"/>
<rect x="153" y="0" width="3.6" height="3.6" fill="#fef5e0"/><rect x="153" y="4.5" width="3.6" height="3.6" fill="#f8db97"/><rect x="153" y="9" width="3.6" height="3.6" fill="#f9de9e"/><rect x="153" y="13.5" width="3.6" height="3.6" fill="#fcebc4"/><rect x="153" y="18" width="3.6" height="3.6" fill="#fef5df"/><rect x="153" y="22.5" width="3.6" height="3.6" fill="#f9de9d"/><rect x="153" y="27" width="3.6" height="3.6" fill="#fdefcf"/>
<rect x="157.5" y="0" width="3.6" height="3.6" fill="#fbe7b7"/><rect x="157.5" y="4.5" width="3.6" height="3.6" fill="#f4c763"/><rect x="157.5" y="9" width="3.6" height="3.6" fill="#f7d485"/><rect x="157.5" y="13.5" width="3.6" height="3.6" fill="#fbe8ba"/><rect x="157.5" y="18" width="3.6" height="3.6" fill="#fdefcd"/><rect x="157.5" y="22.5" width="3.6" height="3.6" fill="#f9de9d"/><rect x="157.5" y="27" width="3.6" height="3.6" fill="#eeaf3a"/>
<rect x="162" y="0" width="3.6" height="3.6" fill="#fae4ad"/><rect x="162" y="4.5" width="3.6" height="3.6" fill="#eeb03a"/><rect x="162" y="9" width="3.6" height="3.6" fill="#fbe9bc"/><rect x="162" y="13.5" width="3.6" height="3.6" fill="#f9de9e"/><rect x="162" y="18" width="3.6" height="3.6" fill="#f4ca6c"/><rect x="162" y="22.5" width="3.6" height="3.6" fill="#fbe8bb"/><rect x="162" y="27" width="3.6" height="3.6" fill="#f8d88f"/>
<rect x="166.5" y="0" width="3.6" height="3.6" fill="#fdf3d9"/><rect x="166.5" y="4.5" width="3.6" height="3.6" fill="#f5cb6e"/><rect x="166.5" y="9" width="3.6" height="3.6" fill="#f2bf54"/><rect x="166.5" y="13.5" width="3.6" height="3.6" fill="#fbe6b5"/><rect x="166.5" y="18" width="3.6" height="3.6" fill="#f7d688"/><rect x="166.5" y="22.5" width="3.6" height="3.6" fill="#fae2a8"/><rect x="166.5" y="27" width="3.6" height="3.6" fill="#fef5e0"/>
<rect x="171" y="0" width="3.6" height="3.6" fill="#eaa224"/><rect x="171" y="4.5" width="3.6" height="3.6" fill="#f5cc70"/><rect x="171" y="9" width="3.6" height="3.6" fill="#f4c865"/><rect x="171" y="13.5" width="3.6" height="3.6" fill="#f6d17d"/><rect x="171" y="18" width="3.6" height="3.6" fill="#f7d689"/><rect x="171" y="22.5" width="3.6" height="3.6" fill="#eaa224"/><rect x="171" y="27" width="3.6" height="3.6" fill="#fef5e0"/>
<rect x="175.5" y="0" width="3.6" height="3.6" fill="#f9e0a3"/><rect x="175.5" y="4.5" width="3.6" height="3.6" fill="#fae2a9"/><rect x="175.5" y="9" width="3.6" height="3.6" fill="#f9de9e"/><rect x="175.5" y="13.5" width="3.6" height="3.6" fill="#f4ca6c"/><rect x="175.5" y="18" width="3.6" height="3.6" fill="#fbe7b9"/><rect x="175.5" y="22.5" width="3.6" height="3.6" fill="#fdf2d8"/><rect x="175.5" y="27" width="3.6" height="3.6" fill="#fdefce"/>
<rect x="180" y="0" width="3.6" height="3.6" fill="#f6d079"/><rect x="180" y="4.5" width="3.6" height="3.6" fill="#f3c55e"/><rect x="180" y="9" width="3.6" height="3.6" fill="#f4c866"/><rect x="180" y="13.5" width="3.6" height="3.6" fill="#efb340"/><rect x="180" y="18" width="3.6" height="3.6" fill="#fae4ae"/><rect x="180" y="22.5" width="3.6" height="3.6" fill="#f3c45c"/><rect x="180" y="27" width="3.6" height="3.6" fill="#f4cb6d"/>
<rect x="184.5" y="0" width="3.6" height="3.6" fill="#f9dd9c"/><rect x="184.5" y="4.5" width="3.6" height="3.6" fill="#fbe8ba"/><rect x="184.5" y="9" width="3.6" height="3.6" fill="#f4c662"/><rect x="184.5" y="13.5" width="3.6" height="3.6" fill="#fbe7b7"/><rect x="184.5" y="18" width="3.6" height="3.6" fill="#f9e0a2"/><rect x="184.5" y="22.5" width="3.6" height="3.6" fill="#fcecc6"/><rect x="184.5" y="27" width="3.6" height="3.6" fill="#edaf3a"/>
<rect x="189" y="0" width="3.6" height="3.6" fill="#f8db95"/><rect x="189" y="4.5" width="3.6" height="3.6" fill="#f0f0f0"/><rect x="189" y="9" width="3.6" height="3.6" fill="#f0f0f0"/><rect x="189" y="13.5" width="3.6" height="3.6" fill="#f0f0f0"/><rect x="189" y="18" width="3.6" height="3.6" fill="#f0f0f0"/><rect x="189" y="22.5" width="3.6" height="3.6" fill="#f0f0f0"/><rect x="189" y="27" width="3.6" height="3.6" fill="#f0f0f0"/>
<rect x="193.5" y="0" width="3.6" height="3.6" fill="#f0f0f0"/><rect x="193.5" y="4.5" width="3.6" height="3.6" fill="#f0f0f0"/><rect x="193.5" y="9" width="3.6" height="3.6" fill="#f0f0f0"/><rect x="193.5" y="13.5" width="3.6" height="3.6" fill="#f0f0f0"/><rect x="193.5" y="18" width="3.6" height="3.6" fill="#f0f0f0"/><rect x="193.5" y="22.5" width="3.6" height="3.6" fill="#f0f0f0"/><rect x="193.5" y="27" width="3.6" height="3.6" fill="#f0f0f0"/>
<rect x="198" y="0" width="3.6" height="3.6" fill="#f0f0f0"/><rect x="198" y="4.5" width="3.6" height="3.6" fill="#f0f0f0"/><rect x="198" y="9" width="3.6" height="3.6" fill="#f0f0f0"/><rect x="198" y="13.5" width="3.6" height="3.6" fill="#f0f0f0"/><rect x="198" y="18" width="3.6" height="3.6" fill="#f0f0f0"/><rect x="198" y="22.5" width="3.6" height="3.6" fill="#f0f0f0"/><rect x="198" y="27" width="3.6" height="3.6" fill="#f0f0f0"/>
<rect x="202.5" y="0" width="3.6" height="3.6" fill="#f0f0f0"/><rect x="202.5" y="4.5" width="3.6" height="3.6" fill="#f0f0f0"/><rect x="202.5" y="9" width="3.6" height="3.6" fill="#f0f0f0"/><rect x="202.5" y="13.5" width="3.6" height="3.6" fill="#f0f0f0"/><rect x="202.5" y="18" width="3.6" height="3.6" fill="#f0f0f0"/><rect x="202.5" y="22.5" width="3.6" height="3.6" fill="#f0f0f0"/><rect x="202.5" y="27" width="3.6" height="3.6" fill="#f0f0f0"/>
<rect x="207" y="0" width="3.6" height="3.6" fill="#f0f0f0"/><rect x="207" y="4.5" width="3.6" height="3.6" fill="#f0f0f0"/><rect x="207" y="9" width="3.6" height="3.6" fill="#f0f0f0"/><rect x="207" y="13.5" width="3.6" height="3.6" fill="#f0f0f0"/><rect x="207" y="18" width="3.6" height="3.6" fill="#f0f0f0"/><rect x="207" y="22.5" width="3.6" height="3.6" fill="#f0f0f0"/><rect x="207" y="27" width="3.6" height="3.6" fill="#f0f0f0"/>
<rect x="211.5" y="0" width="3.6" height="3.6" fill="#f0f0f0"/><rect x="211.5" y="4.5" width="3.6" height="3.6" fill="#f0f0f0"/><rect x="211.5" y="9" width="3.6" height="3.6" fill="#f0f0f0"/><rect x="211.5" y="13.5" width="3.6" height="3.6" fill="#f0f0f0"/><rect x="211.5" y="18" width="3.6" height="3.6" fill="#f0f0f0"/><rect x="211.5" y="22.5" width="3.6" height="3.6" fill="#f0f0f0"/><rect x="211.5" y="27" width="3.6" height="3.6" fill="#f0f0f0"/>
<rect x="216" y="0" width="3.6" height="3.6" fill="#f0f0f0"/><rect x="216" y="4.5" width="3.6" height="3.6" fill="#f0f0f0"/><rect x="216" y="9" width="3.6" height="3.6" fill="#f0f0f0"/><rect x="216" y="13.5" width="3.6" height="3.6" fill="#f0f0f0"/><rect x="216" y="18" width="3.6" height="3.6" fill="#f0f0f0"/><rect x="216" y="22.5" width="3.6" height="3.6" fill="#f0f0f0"/><rect x="216" y="27" width="3.6" height="3.6" fill="#f0f0f0"/>
<rect x="220.5" y="0" width="3.6" height="3.6" fill="#f0f0f0"/><rect x="220.5" y="4.5" width="3.6" height="3.6" fill="#f0f0f0"/><rect x="220.5" y="9" width="3.6" height="3.6" fill="#f0f0f0"/><rect x="220.5" y="13.5" width="3.6" height="3.6" fill="#f0f0f0"/><rect x="220.5" y="18" width="3.6" height="3.6" fill="#f0f0f0"/><rect x="220.5" y="22.5" width="3.6" height="3.6" fill="#f0f0f0"/><rect x="220.5" y="27" width="3.6" height="3.6" fill="#f0f0f0"/>
<rect x="225" y="0" width="3.6" height="3.6" fill="#f0f0f0"/><rect x="225" y="4.5" width="3.6" height="3.6" fill="#f0f0f0"/><rect x="225" y="9" width="3.6" height="3.6" fill="#f0f0f0"/><rect x="225" y="13.5" width="3.6" height="3.6" fill="#f0f0f0"/><rect x="225" y="18" width="3.6" height="3.6" fill="#f0f0f0"/><rect x="225" y="22.5" width="3.6" height="3.6" fill="#f0f0f0"/><rect x="225" y="27" width="3.6" height="3.6" fill="#f0f0f0"/>
<rect x="229.5" y="0" width="3.6" height="3.6" fill="#f0f0f0"/><rect x="229.5" y="4.5" width="3.6" height="3.6" fill="#f0f0f0"/><rect x="229.5" y="9" width="3.6" height="3.6" fill="#f0f0f0"/><rect x="229.5" y="13.5" width="3.6" height="3.6" fill="#f0f0f0"/><rect x="229.5" y="18" width="3.6" height="3.6" fill="#f0f0f0"/><rect x="229.5" y="22.5" width="3.6" height="3.6" fill="#f0f0f0"/><rect x="229.5" y="27" width="3.6" height="3.6" fill="#f0f0f0"/>
<rect x="234" y="0" width="3.6" height="3.6" fill="#f0f0f0"/><rect x="234" y="4.5" width="3.6" height="3.6" fill="#f0f0f0"/><rect x="234" y="9" width="3.6" height="3.6" fill="#f0f0f0"/><rect x="234" y="13.5" width="3.6" height="3.6" fill="#f0f0f0"/><rect x="234" y="18" width="3.6" height="3.6" fill="#f0f0f0"/><rect x="234" y="22.5" width="3.6" height="3.6" fill="#f0f0f0"/>
</g></g></svg>
<h2 style="left:11.30px;top:11.70px;letter-spacing:-0.319px">Deep work sessions</h2>
<p class="st b" style="left:11.30px;top:91.32px;letter-spacing:-0.216px">Today: 3.4 hours</p>
<p class="st" style="left:11.30px;top:101.37px;letter-spacing:-0.002px">Streak: 290 days</p>
<p class="st" style="left:11.30px;top:111.42px;letter-spacing:-0.012px">Average: 4.02 hours</p>
<p class="st" style="left:11.30px;top:121.47px;letter-spacing:0.076px">Standard deviation: 2.29 hours</p>
</div>
<div class="card" style="left:534px;top:142px;width:261px;height:144px">
<svg width="269" height="152"><g transform="translate(-530,-138)">
<rect class="fr" x="534" y="142.5" width="259.3" height="141.8" rx="0.7"/>
<g transform="translate(544.7,186.7)">
<text class="m" x="13" y="-4.53">Jan</text><text class="m" x="33.3" y="-4.53">Feb</text><text class="m" x="51" y="-4.53">Mar</text><text class="m" x="69.1" y="-4.53">Apr</text><text class="m" x="89.5" y="-4.53">May</text><text class="m" x="109.7" y="-4.53">Jun</text><text class="m" x="128.5" y="-4.53">Jul</text><text class="m" x="150.8" y="-4.53">Aug</text><text class="m" x="168.8" y="-4.53">Sep</text><text class="m" x="189.2" y="-4.53">Oct</text><text class="m" x="209.5" y="-4.53">Nov</text><text class="m" x="227.8" y="-4.53">Dec</text>
<rect x="4.5" y="0" width="183.6" height="30.6" fill="#fbfafd"/><rect x="0" y="22.5" width="4.5" height="8.1" fill="#fbfafd"/><rect x="188" y="0" width="4.6" height="3.6" fill="#fbfafd"/><rect x="193.5" y="0" width="40.5" height="30.6" fill="#fafafa"/><rect x="234" y="0" width="3.6" height="26.1" fill="#fafafa"/><rect x="189" y="4.5" width="4.5" height="26.1" fill="#fafafa"/>
<rect x="0" y="22.5" width="3.6" height="3.6" fill="#987ecc"/><rect x="0" y="27" width="3.6" height="3.6" fill="#6f4fb2"/>
<rect x="4.5" y="0" width="3.6" height="3.6" fill="#bca9e0"/><rect x="4.5" y="4.5" width="3.6" height="3.6" fill="#7859b8"/><rect x="4.5" y="9" width="3.6" height="3.6" fill="#a58dd3"/><rect x="4.5" y="13.5" width="3.6" height="3.6" fill="#a58dd3"/><rect x="4.5" y="18" width="3.6" height="3.6" fill="#5c3aa6"/><rect x="4.5" y="22.5" width="3.6" height="3.6" fill="#967bcb"/><rect x="4.5" y="27" width="3.6" height="3.6" fill="#9d84cf"/>
<rect x="9" y="0" width="3.6" height="3.6" fill="#8264bf"/><rect x="9" y="4.5" width="3.6" height="3.6" fill="#7354b5"/><rect x="9" y="9" width="3.6" height="3.6" fill="#9d83cf"/><rect x="9" y="13.5" width="3.6" height="3.6" fill="#8769c2"/><rect x="9" y="18" width="3.6" height="3.6" fill="#bdabe1"/><rect x="9" y="22.5" width="3.6" height="3.6" fill="#a891d5"/><rect x="9" y="27" width="3.6" height="3.6" fill="#ab94d7"/>
<rect x="13.5" y="0" width="3.6" height="3.6" fill="#c9bae7"/><rect x="13.5" y="4.5" width="3.6" height="3.6" fill="#cfc1ea"/><rect x="13.5" y="9" width="3.6" height="3.6" fill="#d3c6ec"/><rect x="13.5" y="13.5" width="3.6" height="3.6" fill="#a48cd3"/><rect x="13.5" y="18" width="3.6" height="3.6" fill="#a289d2"/><rect x="13.5" y="22.5" width="3.6" height="3.6" fill="#a78fd5"/><rect x="13.5" y="27" width="3.6" height="3.6" fill="#997fcd"/>
<rect x="18" y="0" width="3.6" height="3.6" fill="#c9bae7"/><rect x="18" y="4.5" width="3.6" height="3.6" fill="#9e85d0"/><rect x="18" y="9" width="3.6" height="3.6" fill="#9478ca"/><rect x="18" y="13.5" width="3.6" height="3.6" fill="#8163be"/><rect x="18" y="18" width="3.6" height="3.6" fill="#b9a5df"/><rect x="18" y="22.5" width="3.6" height="3.6" fill="#aa93d6"/><rect x="18" y="27" width="3.6" height="3.6" fill="#e0d7f2"/>
<rect x="22.5" y="0" width="3.6" height="3.6" fill="#ad97d8"/><rect x="22.5" y="4.5" width="3.6" height="3.6" fill="#e7def5"/><rect x="22.5" y="9" width="3.6" height="3.6" fill="#ccbee8"/><rect x="22.5" y="13.5" width="3.6" height="3.6" fill="#7455b6"/><rect x="22.5" y="18" width="3.6" height="3.6" fill="#e7def5"/><rect x="22.5" y="22.5" width="3.6" height="3.6" fill="#7f61bd"/><rect x="22.5" y="27" width="3.6" height="3.6" fill="#9074c8"/>
<rect x="27" y="0" width="3.6" height="3.6" fill="#a68fd4"/><rect x="27" y="4.5" width="3.6" height="3.6" fill="#8c6fc5"/><rect x="27" y="9" width="3.6" height="3.6" fill="#896cc4"/><rect x="27" y="13.5" width="3.6" height="3.6" fill="#7657b7"/><rect x="27" y="18" width="3.6" height="3.6" fill="#a48cd3"/><rect x="27" y="22.5" width="3.6" height="3.6" fill="#b09bda"/><rect x="27" y="27" width="3.6" height="3.6" fill="#b19bda"/>
<rect x="31.5" y="0" width="3.6" height="3.6" fill="#beabe1"/><rect x="31.5" y="4.5" width="3.6" height="3.6" fill="#9d84cf"/><rect x="31.5" y="9" width="3.6" height="3.6" fill="#b7a3de"/><rect x="31.5" y="13.5" width="3.6" height="3.6" fill="#7556b7"/><rect x="31.5" y="18" width="3.6" height="3.6" fill="#dbd0f0"/><rect x="31.5" y="22.5" width="3.6" height="3.6" fill="#c1b0e3"/><rect x="31.5" y="27" width="3.6" height="3.6" fill="#bdaae1"/>
<rect x="36" y="0" width="3.6" height="3.6" fill="#e3daf4"/><rect x="36" y="4.5" width="3.6" height="3.6" fill="#5c3aa6"/><rect x="36" y="9" width="3.6" height="3.6" fill="#e8e0f6"/><rect x="36" y="13.5" width="3.6" height="3.6" fill="#a58ed4"/><rect x="36" y="18" width="3.6" height="3.6" fill="#ae98d9"/><rect x="36" y="22.5" width="3.6" height="3.6" fill="#603ea8"/><rect x="36" y="27" width="3.6" height="3.6" fill="#dfd5f2"/>
<rect x="40.5" y="0" width="3.6" height="3.6" fill="#7556b7"/><rect x="40.5" y="4.5" width="3.6" height="3.6" fill="#b5a1dd"/><rect x="40.5" y="9" width="3.6" height="3.6" fill="#a188d1"/><rect x="40.5" y="13.5" width="3.6" height="3.6" fill="#b39edb"/><rect x="40.5" y="18" width="3.6" height="3.6" fill="#8567c1"/><rect x="40.5" y="22.5" width="3.6" height="3.6" fill="#c3b2e4"/><rect x="40.5" y="27" width="3.6" height="3.6" fill="#9e85d0"/>
<rect x="45" y="0" width="3.6" height="3.6" fill="#9073c7"/><rect x="45" y="4.5" width="3.6" height="3.6" fill="#5c3aa6"/><rect x="45" y="9" width="3.6" height="3.6" fill="#e8e0f6"/><rect x="45" y="13.5" width="3.6" height="3.6" fill="#6544ac"/><rect x="45" y="18" width="3.6" height="3.6" fill="#7a5bb9"/><rect x="45" y="22.5" width="3.6" height="3.6" fill="#ac96d8"/><rect x="45" y="27" width="3.6" height="3.6" fill="#9175c8"/>
<rect x="49.5" y="0" width="3.6" height="3.6" fill="#ac95d7"/><rect x="49.5" y="4.5" width="3.6" height="3.6" fill="#603fa9"/><rect x="49.5" y="9" width="3.6" height="3.6" fill="#9479ca"/><rect x="49.5" y="13.5" width="3.6" height="3.6" fill="#a38bd3"/><rect x="49.5" y="18" width="3.6" height="3.6" fill="#a48bd3"/><rect x="49.5" y="22.5" width="3.6" height="3.6" fill="#a38ad2"/><rect x="49.5" y="27" width="3.6" height="3.6" fill="#a289d2"/>
<rect x="54" y="0" width="3.6" height="3.6" fill="#baa7df"/><rect x="54" y="4.5" width="3.6" height="3.6" fill="#5c3aa6"/><rect x="54" y="9" width="3.6" height="3.6" fill="#ddd2f1"/><rect x="54" y="13.5" width="3.6" height="3.6" fill="#e8e0f6"/><rect x="54" y="18" width="3.6" height="3.6" fill="#a087d1"/><rect x="54" y="22.5" width="3.6" height="3.6" fill="#a188d1"/><rect x="54" y="27" width="3.6" height="3.6" fill="#8f72c7"/>
<rect x="58.5" y="0" width="3.6" height="3.6" fill="#a38bd2"/><rect x="58.5" y="4.5" width="3.6" height="3.6" fill="#a188d1"/><rect x="58.5" y="9" width="3.6" height="3.6" fill="#9074c8"/><rect x="58.5" y="13.5" width="3.6" height="3.6" fill="#795ab9"/><rect x="58.5" y="18" width="3.6" height="3.6" fill="#ab95d7"/><rect x="58.5" y="22.5" width="3.6" height="3.6" fill="#a992d6"/><rect x="58.5" y="27" width="3.6" height="3.6" fill="#5c3aa6"/>
<rect x="63" y="0" width="3.6" height="3.6" fill="#896cc4"/><rect x="63" y="4.5" width="3.6" height="3.6" fill="#beabe1"/><rect x="63" y="9" width="3.6" height="3.6" fill="#5c3aa6"/><rect x="63" y="13.5" width="3.6" height="3.6" fill="#8062be"/><rect x="63" y="18" width="3.6" height="3.6" fill="#b09bda"/><rect x="63" y="22.5" width="3.6" height="3.6" fill="#c4b3e4"/><rect x="63" y="27" width="3.6" height="3.6" fill="#9175c9"/>
<rect x="67.5" y="0" width="3.6" height="3.6" fill="#b8a5df"/><rect x="67.5" y="4.5" width="3.6" height="3.6" fill="#c0aee2"/><rect x="67.5" y="9" width="3.6" height="3.6" fill="#c8b8e6"/><rect x="67.5" y="13.5" width="3.6" height="3.6" fill="#ad97d8"/><rect x="67.5" y="18" width="3.6" height="3.6" fill="#7454b6"/><rect x="67.5" y="22.5" width="3.6" height="3.6" fill="#ab94d7"/><rect x="67.5" y="27" width="3.6" height="3.6" fill="#cdbfe9"/>
<rect x="72" y="0" width="3.6" height="3.6" fill="#8466c0"/><rect x="72" y="4.5" width="3.6" height="3.6" fill="#997fcd"/><rect x="72" y="9" width="3.6" height="3.6" fill="#7e5fbc"/><rect x="72" y="13.5" width="3.6" height="3.6" fill="#7151b3"/><rect x="72" y="18" width="3.6" height="3.6" fill="#a289d2"/><rect x="72" y="22.5" width="3.6" height="3.6" fill="#a188d1"/><rect x="72" y="27" width="3.6" height="3.6" fill="#9d84cf"/>
<rect x="76.5" y="0" width="3.6" height="3.6" fill="#c3b2e4"/><rect x="76.5" y="4.5" width="3.6" height="3.6" fill="#8466c0"/><rect x="76.5" y="9" width="3.6" height="3.6" fill="#6a4aaf"/><rect x="76.5" y="13.5" width="3.6" height="3.6" fill="#967bcb"/><rect x="76.5" y="18" width="3.6" height="3.6" fill="#a48cd3"/><rect x="76.5" y="22.5" width="3.6" height="3.6" fill="#a58dd3"/><rect x="76.5" y="27" width="3.6" height="3.6" fill="#b7a3de"/>
<rect x="81" y="0" width="3.6" height="3.6" fill="#b7a4de"/><rect x="81" y="4.5" width="3.6" height="3.6" fill="#aa93d6"/><rect x="81" y="9" width="3.6" height="3.6" fill="#b9a5df"/><rect x="81" y="13.5" width="3.6" height="3.6" fill="#ab94d7"/><rect x="81" y="18" width="3.6" height="3.6" fill="#d2c4eb"/><rect x="81" y="22.5" width="3.6" height="3.6" fill="#9073c7"/><rect x="81" y="27" width="3.6" height="3.6" fill="#9a80cd"/>
<rect x="85.5" y="0" width="3.6" height="3.6" fill="#c3b2e4"/><rect x="85.5" y="4.5" width="3.6" height="3.6" fill="#e8e0f6"/><rect x="85.5" y="9" width="3.6" height="3.6" fill="#9c82ce"/><rect x="85.5" y="13.5" width="3.6" height="3.6" fill="#7455b6"/><rect x="85.5" y="18" width="3.6" height="3.6" fill="#b5a1dd"/><rect x="85.5" y="22.5" width="3.6" height="3.6" fill="#ac96d8"/><rect x="85.5" y="27" width="3.6" height="3.6" fill="#af9ad9"/>
<rect x="90" y="0" width="3.6" height="3.6" fill="#8567c1"/><rect x="90" y="4.5" width="3.6" height="3.6" fill="#bba8e0"/><rect x="90" y="9" width="3.6" height="3.6" fill="#7859b9"/><rect x="90" y="13.5" width="3.6" height="3.6" fill="#a68fd4"/><rect x="90" y="18" width="3.6" height="3.6" fill="#7b5cba"/><rect x="90" y="22.5" width="3.6" height="3.6" fill="#9b81ce"/><rect x="90" y="27" width="3.6" height="3.6" fill="#a48cd3"/>
<rect x="94.5" y="0" width="3.6" height="3.6" fill="#cec0e9"/><rect x="94.5" y="4.5" width="3.6" height="3.6" fill="#b39fdc"/><rect x="94.5" y="9" width="3.6" height="3.6" fill="#a58dd3"/><rect x="94.5" y="13.5" width="3.6" height="3.6" fill="#8467c0"/><rect x="94.5" y="18" width="3.6" height="3.6" fill="#9378ca"/><rect x="94.5" y="22.5" width="3.6" height="3.6" fill="#b49fdc"/><rect x="94.5" y="27" width="3.6" height="3.6" fill="#8e71c6"/>
<rect x="99" y="0" width="3.6" height="3.6" fill="#7859b9"/><rect x="99" y="4.5" width="3.6" height="3.6" fill="#a188d1"/><rect x="99" y="9" width="3.6" height="3.6" fill="#ab94d7"/><rect x="99" y="13.5" width="3.6" height="3.6" fill="#a992d6"/><rect x="99" y="18" width="3.6" height="3.6" fill="#7f60bd"/><rect x="99" y="22.5" width="3.6" height="3.6" fill="#896bc3"/><rect x="99" y="27" width="3.6" height="3.6" fill="#bca9e0"/>
<rect x="103.5" y="0" width="3.6" height="3.6" fill="#8f72c7"/><rect x="103.5" y="4.5" width="3.6" height="3.6" fill="#ac96d8"/><rect x="103.5" y="9" width="3.6" height="3.6" fill="#b6a1dd"/><rect x="103.5" y="13.5" width="3.6" height="3.6" fill="#6f4fb2"/><rect x="103.5" y="18" width="3.6" height="3.6" fill="#7f60bd"/><rect x="103.5" y="22.5" width="3.6" height="3.6" fill="#b5a0dc"/><rect x="103.5" y="27" width="3.6" height="3.6" fill="#997fcd"/>
<rect x="108" y="0" width="3.6" height="3.6" fill="#8a6dc4"/><rect x="108" y="4.5" width="3.6" height="3.6" fill="#b29ddb"/><rect x="108" y="9" width="3.6" height="3.6" fill="#a087d1"/><rect x="108" y="13.5" width="3.6" height="3.6" fill="#8466c0"/><rect x="108" y="18" width="3.6" height="3.6" fill="#d9cdef"/><rect x="108" y="22.5" width="3.6" height="3.6" fill="#9074c8"/><rect x="108" y="27" width="3.6" height="3.6" fill="#8263bf"/>
<rect x="112.5" y="0" width="3.6" height="3.6" fill="#8a6dc4"/><rect x="112.5" y="4.5" width="3.6" height="3.6" fill="#cabae7"/><rect x="112.5" y="9" width="3.6" height="3.6" fill="#9175c8"/><rect x="112.5" y="13.5" width="3.6" height="3.6" fill="#baa6df"/><rect x="112.5" y="18" width="3.6" height="3.6" fill="#886ac3"/><rect x="112.5" y="22.5" width="3.6" height="3.6" fill="#8669c2"/><rect x="112.5" y="27" width="3.6" height="3.6" fill="#9479ca"/>
<rect x="117" y="0" width="3.6" height="3.6" fill="#b6a2dd"/><rect x="117" y="4.5" width="3.6" height="3.6" fill="#b09bda"/><rect x="117" y="9" width="3.6" height="3.6" fill="#7d5fbc"/><rect x="117" y="13.5" width="3.6" height="3.6" fill="#bba8e0"/><rect x="117" y="18" width="3.6" height="3.6" fill="#8a6dc4"/><rect x="117" y="22.5" width="3.6" height="3.6" fill="#8a6dc4"/><rect x="117" y="27" width="3.6" height="3.6" fill="#a58ed4"/>
<rect x="121.5" y="0" width="3.6" height="3.6" fill="#5c3aa6"/><rect x="121.5" y="4.5" width="3.6" height="3.6" fill="#997fcd"/><rect x="121.5" y="9" width="3.6" height="3.6" fill="#5c3aa6"/><rect x="121.5" y="13.5" width="3.6" height="3.6" fill="#e0d7f2"/><rect x="121.5" y="18" width="3.6" height="3.6" fill="#e8e0f6"/><rect x="121.5" y="22.5" width="3.6" height="3.6" fill="#795ab9"/><rect x="121.5" y="27" width="3.6" height="3.6" fill="#8568c1"/>
<rect x="126" y="0" width="3.6" height="3.6" fill="#a68fd4"/><rect x="126" y="4.5" width="3.6" height="3.6" fill="#9e84cf"/><rect x="126" y="9" width="3.6" height="3.6" fill="#ddd2f0"/><rect x="126" y="13.5" width="3.6" height="3.6" fill="#b19cdb"/><rect x="126" y="18" width="3.6" height="3.6" fill="#bfade2"/><rect x="126" y="22.5" width="3.6" height="3.6" fill="#a38bd3"/><rect x="126" y="27" width="3.6" height="3.6" fill="#7c5dbb"/>
<rect x="130.5" y="0" width="3.6" height="3.6" fill="#9a80cd"/><rect x="130.5" y="4.5" width="3.6" height="3.6" fill="#8f72c7"/><rect x="130.5" y="9" width="3.6" height="3.6" fill="#b49fdc"/><rect x="130.5" y="13.5" width="3.6" height="3.6" fill="#ab94d7"/><rect x="130.5" y="18" width="3.6" height="3.6" fill="#987dcc"/><rect x="130.5" y="22.5" width="3.6" height="3.6" fill="#a58ed4"/><rect x="130.5" y="27" width="3.6" height="3.6" fill="#6e4eb2"/>
<rect x="135" y="0" width="3.6" height="3.6" fill="#baa7df"/><rect x="135" y="4.5" width="3.6" height="3.6" fill="#5c3aa6"/><rect x="135" y="9" width="3.6" height="3.6" fill="#bdabe1"/><rect x="135" y="13.5" width="3.6" height="3.6" fill="#7656b7"/><rect x="135" y="18" width="3.6" height="3.6" fill="#b6a2dd"/><rect x="135" y="22.5" width="3.6" height="3.6" fill="#603fa9"/><rect x="135" y="27" width="3.6" height="3.6" fill="#977ccc"/>
<rect x="139.5" y="0" width="3.6" height="3.6" fill="#8e71c7"/><rect x="139.5" y="4.5" width="3.6" height="3.6" fill="#8163be"/><rect x="139.5" y="9" width="3.6" height="3.6" fill="#b29ddb"/><rect x="139.5" y="13.5" width="3.6" height="3.6" fill="#c0aee2"/><rect x="139.5" y="18" width="3.6" height="3.6" fill="#e1d7f2"/><rect x="139.5" y="22.5" width="3.6" height="3.6" fill="#7050b3"/><rect x="139.5" y="27" width="3.6" height="3.6" fill="#b49fdc"/>
<rect x="144" y="0" width="3.6" height="3.6" fill="#b09bda"/><rect x="144" y="4.5" width="3.6" height="3.6" fill="#9d83cf"/><rect x="144" y="9" width="3.6" height="3.6" fill="#5c3aa6"/><rect x="144" y="13.5" width="3.6" height="3.6" fill="#d7cbee"/><rect x="144" y="18" width="3.6" height="3.6" fill="#9377c9"/><rect x="144" y="22.5" width="3.6" height="3.6" fill="#a993d6"/><rect x="144" y="27" width="3.6" height="3.6" fill="#896cc3"/>
<rect x="148.5" y="0" width="3.6" height="3.6" fill="#d9cdef"/><rect x="148.5" y="4.5" width="3.6" height="3.6" fill="#a993d6"/><rect x="148.5" y="9" width="3.6" height="3.6" fill="#7e5fbc"/><rect x="148.5" y="13.5" width="3.6" height="3.6" fill="#6342ab"/><rect x="148.5" y="18" width="3.6" height="3.6" fill="#6241aa"/><rect x="148.5" y="22.5" width="3.6" height="3.6" fill="#b9a6df"/><rect x="148.5" y="27" width="3.6" height="3.6" fill="#9a80cd"/>
<rect x="153" y="0" width="3.6" height="3.6" fill="#a087d0"/><rect x="153" y="4.5" width="3.6" height="3.6" fill="#cbbce8"/><rect x="153" y="9" width="3.6" height="3.6" fill="#cdbee9"/><rect x="153" y="13.5" width="3.6" height="3.6" fill="#8163be"/><rect x="153" y="18" width="3.6" height="3.6" fill="#9378ca"/><rect x="153" y="22.5" width="3.6" height="3.6" fill="#a188d1"/><rect x="153" y="27" width="3.6" height="3.6" fill="#7050b3"/>
<rect x="157.5" y="0" width="3.6" height="3.6" fill="#beace2"/><rect x="157.5" y="4.5" width="3.6" height="3.6" fill="#896cc4"/><rect x="157.5" y="9" width="3.6" height="3.6" fill="#9b82ce"/><rect x="157.5" y="13.5" width="3.6" height="3.6" fill="#9e84cf"/><rect x="157.5" y="18" width="3.6" height="3.6" fill="#8b6dc4"/><rect x="157.5" y="22.5" width="3.6" height="3.6" fill="#967bcb"/><rect x="157.5" y="27" width="3.6" height="3.6" fill="#9377c9"/>
<rect x="162" y="0" width="3.6" height="3.6" fill="#9377c9"/><rect x="162" y="4.5" width="3.6" height="3.6" fill="#5c3aa6"/><rect x="162" y="9" width="3.6" height="3.6" fill="#a68fd4"/><rect x="162" y="13.5" width="3.6" height="3.6" fill="#7758b8"/><rect x="162" y="18" width="3.6" height="3.6" fill="#8669c2"/><rect x="162" y="22.5" width="3.6" height="3.6" fill="#a891d5"/><rect x="162" y="27" width="3.6" height="3.6" fill="#7f61bd"/>
<rect x="166.5" y="0" width="3.6" height="3.6" fill="#b9a6df"/><rect x="166.5" y="4.5" width="3.6" height="3.6" fill="#7252b4"/><rect x="166.5" y="9" width="3.6" height="3.6" fill="#b8a4de"/><rect x="166.5" y="13.5" width="3.6" height="3.6" fill="#ad96d8"/><rect x="166.5" y="18" width="3.6" height="3.6" fill="#9174c8"/><rect x="166.5" y="22.5" width="3.6" height="3.6" fill="#7e60bc"/><rect x="166.5" y="27" width="3.6" height="3.6" fill="#7b5dba"/>
<rect x="171" y="0" width="3.6" height="3.6" fill="#7c5dbb"/><rect x="171" y="4.5" width="3.6" height="3.6" fill="#a38bd2"/><rect x="171" y="9" width="3.6" height="3.6" fill="#bdaae1"/><rect x="171" y="13.5" width="3.6" height="3.6" fill="#886bc3"/><rect x="171" y="18" width="3.6" height="3.6" fill="#9175c8"/><rect x="171" y="22.5" width="3.6" height="3.6" fill="#bdaae1"/><rect x="171" y="27" width="3.6" height="3.6" fill="#795ab9"/>
<rect x="175.5" y="0" width="3.6" height="3.6" fill="#957aca"/><rect x="175.5" y="4.5" width="3.6" height="3.6" fill="#bdaae1"/><rect x="175.5" y="9" width="3.6" height="3.6" fill="#8c6fc6"/><rect x="175.5" y="13.5" width="3.6" height="3.6" fill="#c9bae7"/><rect x="175.5" y="18" width="3.6" height="3.6" fill="#baa7df"/><rect x="175.5" y="22.5" width="3.6" height="3.6" fill="#8e71c6"/><rect x="175.5" y="27" width="3.6" height="3.6" fill="#d1c3eb"/>
<rect x="180" y="0" width="3.6" height="3.6" fill="#9a80ce"/><rect x="180" y="4.5" width="3.6" height="3.6" fill="#cabbe7"/><rect x="180" y="9" width="3.6" height="3.6" fill="#8263bf"/><rect x="180" y="13.5" width="3.6" height="3.6" fill="#b5a0dd"/><rect x="180" y="18" width="3.6" height="3.6" fill="#957acb"/><rect x="180" y="22.5" width="3.6" height="3.6" fill="#cfc1ea"/><rect x="180" y="27" width="3.6" height="3.6" fill="#a890d5"/>
<rect x="184.5" y="0" width="3.6" height="3.6" fill="#7a5bba"/><rect x="184.5" y="4.5" width="3.6" height="3.6" fill="#8c6fc5"/><rect x="184.5" y="9" width="3.6" height="3.6" fill="#dacfef"/><rect x="184.5" y="13.5" width="3.6" height="3.6" fill="#7b5cba"/><rect x="184.5" y="18" width="3.6" height="3.6" fill="#7c5dbb"/><rect x="184.5" y="22.5" width="3.6" height="3.6" fill="#a992d6"/><rect x="184.5" y="27" width="3.6" height="3.6" fill="#6948ae"/>
<rect x="189" y="0" width="3.6" height="3.6" fill="#c0aee3"/><rect x="189" y="4.5" width="3.6" height="3.6" fill="#f0f0f0"/><rect x="189" y="9" width="3.6" height="3.6" fill="#f0f0f0"/><rect x="189" y="13.5" width="3.6" height="3.6" fill="#f0f0f0"/><rect x="189" y="18" width="3.6" height="3.6" fill="#f0f0f0"/><rect x="189" y="22.5" width="3.6" height="3.6" fill="#f0f0f0"/><rect x="189" y="27" width="3.6" height="3.6" fill="#f0f0f0"/>
<rect x="193.5" y="0" width="3.6" height="3.6" fill="#f0f0f0"/><rect x="193.5" y="4.5" width="3.6" height="3.6" fill="#f0f0f0"/><rect x="193.5" y="9" width="3.6" height="3.6" fill="#f0f0f0"/><rect x="193.5" y="13.5" width="3.6" height="3.6" fill="#f0f0f0"/><rect x="193.5" y="18" width="3.6" height="3.6" fill="#f0f0f0"/><rect x="193.5" y="22.5" width="3.6" height="3.6" fill="#f0f0f0"/><rect x="193.5" y="27" width="3.6" height="3.6" fill="#f0f0f0"/>
<rect x="198" y="0" width="3.6" height="3.6" fill="#f0f0f0"/><rect x="198" y="4.5" width="3.6" height="3.6" fill="#f0f0f0"/><rect x="198" y="9" width="3.6" height="3.6" fill="#f0f0f0"/><rect x="198" y="13.5" width="3.6" height="3.6" fill="#f0f0f0"/><rect x="198" y="18" width="3.6" height="3.6" fill="#f0f0f0"/><rect x="198" y="22.5" width="3.6" height="3.6" fill="#f0f0f0"/><rect x="198" y="27" width="3.6" height="3.6" fill="#f0f0f0"/>
<rect x="202.5" y="0" width="3.6" height="3.6" fill="#f0f0f0"/><rect x="202.5" y="4.5" width="3.6" height="3.6" fill="#f0f0f0"/><rect x="202.5" y="9" width="3.6" height="3.6" fill="#f0f0f0"/><rect x="202.5" y="13.5" width="3.6" height="3.6" fill="#f0f0f0"/><rect x="202.5" y="18" width="3.6" height="3.6" fill="#f0f0f0"/><rect x="202.5" y="22.5" width="3.6" height="3.6" fill="#f0f0f0"/><rect x="202.5" y="27" width="3.6" height="3.6" fill="#f0f0f0"/>
<rect x="207" y="0" width="3.6" height="3.6" fill="#f0f0f0"/><rect x="207" y="4.5" width="3.6" height="3.6" fill="#f0f0f0"/><rect x="207" y="9" width="3.6" height="3.6" fill="#f0f0f0"/><rect x="207" y="13.5" width="3.6" height="3.6" fill="#f0f0f0"/><rect x="207" y="18" width="3.6" height="3.6" fill="#f0f0f0"/><rect x="207" y="22.5" width="3.6" height="3.6" fill="#f0f0f0"/><rect x="207" y="27" width="3.6" height="3.6" fill="#f0f0f0"/>
<rect x="211.5" y="0" width="3.6" height="3.6" fill="#f0f0f0"/><rect x="211.5" y="4.5" width="3.6" height="3.6" fill="#f0f0f0"/><rect x="211.5" y="9" width="3.6" height="3.6" fill="#f0f0f0"/><rect x="211.5" y="13.5" width="3.6" height="3.6" fill="#f0f0f0"/><rect x="211.5" y="18" width="3.6" height="3.6" fill="#f0f0f0"/><rect x="211.5" y="22.5" width="3.6" height="3.6" fill="#f0f0f0"/><rect x="211.5" y="27" width="3.6" height="3.6" fill="#f0f0f0"/>
<rect x="216" y="0" width="3.6" height="3.6" fill="#f0f0f0"/><rect x="216" y="4.5" width="3.6" height="3.6" fill="#f0f0f0"/><rect x="216" y="9" width="3.6" height="3.6" fill="#f0f0f0"/><rect x="216" y="13.5" width="3.6" height="3.6" fill="#f0f0f0"/><rect x="216" y="18" width="3.6" height="3.6" fill="#f0f0f0"/><rect x="216" y="22.5" width="3.6" height="3.6" fill="#f0f0f0"/><rect x="216" y="27" width="3.6" height="3.6" fill="#f0f0f0"/>
<rect x="220.5" y="0" width="3.6" height="3.6" fill="#f0f0f0"/><rect x="220.5" y="4.5" width="3.6" height="3.6" fill="#f0f0f0"/><rect x="220.5" y="9" width="3.6" height="3.6" fill="#f0f0f0"/><rect x="220.5" y="13.5" width="3.6" height="3.6" fill="#f0f0f0"/><rect x="220.5" y="18" width="3.6" height="3.6" fill="#f0f0f0"/><rect x="220.5" y="22.5" width="3.6" height="3.6" fill="#f0f0f0"/><rect x="220.5" y="27" width="3.6" height="3.6" fill="#f0f0f0"/>
<rect x="225" y="0" width="3.6" height="3.6" fill="#f0f0f0"/><rect x="225" y="4.5" width="3.6" height="3.6" fill="#f0f0f0"/><rect x="225" y="9" width="3.6" height="3.6" fill="#f0f0f0"/><rect x="225" y="13.5" width="3.6" height="3.6" fill="#f0f0f0"/><rect x="225" y="18" width="3.6" height="3.6" fill="#f0f0f0"/><rect x="225" y="22.5" width="3.6" height="3.6" fill="#f0f0f0"/><rect x="225" y="27" width="3.6" height="3.6" fill="#f0f0f0"/>
<rect x="229.5" y="0" width="3.6" height="3.6" fill="#f0f0f0"/><rect x="229.5" y="4.5" width="3.6" height="3.6" fill="#f0f0f0"/><rect x="229.5" y="9" width="3.6" height="3.6" fill="#f0f0f0"/><rect x="229.5" y="13.5" width="3.6" height="3.6" fill="#f0f0f0"/><rect x="229.5" y="18" width="3.6" height="3.6" fill="#f0f0f0"/><rect x="229.5" y="22.5" width="3.6" height="3.6" fill="#f0f0f0"/><rect x="229.5" y="27" width="3.6" height="3.6" fill="#f0f0f0"/>
<rect x="234" y="0" width="3.6" height="3.6" fill="#f0f0f0"/><rect x="234" y="4.5" width="3.6" height="3.6" fill="#f0f0f0"/><rect x="234" y="9" width="3.6" height="3.6" fill="#f0f0f0"/><rect x="234" y="13.5" width="3.6" height="3.6" fill="#f0f0f0"/><rect x="234" y="18" width="3.6" height="3.6" fill="#f0f0f0"/><rect x="234" y="22.5" width="3.6" height="3.6" fill="#f0f0f0"/>
</g></g></svg>
<h2 style="left:10.50px;top:11.70px;letter-spacing:-0.027px">Daily meditation</h2>
<p class="st b" style="left:10.50px;top:91.32px;letter-spacing:-0.067px">Today: 14 minutes</p>
<p class="st" style="left:10.50px;top:101.37px;letter-spacing:-0.002px">Streak: 290 days</p>
<p class="st" style="left:10.50px;top:111.42px;letter-spacing:0.046px">Average: 9.82 minutes</p>
<p class="st" style="left:10.50px;top:121.47px;letter-spacing:0.118px">Standard deviation: 2.89 minutes</p>
</div>
<div class="card" style="left:6px;top:291px;width:262px;height:143px">
<svg width="270" height="151"><g transform="translate(-2,-287)">
<rect class="fr" x="6.45" y="291.15" width="259.65" height="141.8" rx="0.7"/>
<g transform="translate(17.2,335.7)">
<text class="m" x="13" y="-4.52">Jan</text><text class="m" x="33.3" y="-4.52">Feb</text><text class="m" x="51" y="-4.52">Mar</text><text class="m" x="69.1" y="-4.52">Apr</text><text class="m" x="89.5" y="-4.52">May</text><text class="m" x="109.7" y="-4.52">Jun</text><text class="m" x="128.5" y="-4.52">Jul</text><text class="m" x="150.8" y="-4.52">Aug</text><text class="m" x="168.8" y="-4.52">Sep</text><text class="m" x="189.2" y="-4.52">Oct</text><text class="m" x="209.5" y="-4.52">Nov</text><text class="m" x="227.8" y="-4.52">Dec</text>
<rect x="4.5" y="0" width="183.6" height="30.6" fill="#f7fafe"/><rect x="0" y="22.5" width="4.5" height="8.1" fill="#f7fafe"/><rect x="188" y="0" width="4.6" height="3.6" fill="#f7fafe"/><rect x="193.5" y="0" width="40.5" height="30.6" fill="#fafafa"/><rect x="234" y="0" width="3.6" height="26.1" fill="#fafafa"/><rect x="189" y="4.5" width="4.5" height="26.1" fill="#fafafa"/>
<rect x="0" y="22.5" width="3.6" height="3.6" fill="#3981da"/><rect x="0" y="27" width="3.6" height="3.6" fill="#2d76d2"/>
<rect x="4.5" y="0" width="3.6" height="3.6" fill="#4f8fdf"/><rect x="4.5" y="4.5" width="3.6" height="3.6" fill="#2f78d5"/><rect x="4.5" y="9" width="3.6" height="3.6" fill="#256ac7"/><rect x="4.5" y="13.5" width="3.6" height="3.6" fill="#2e77d3"/><rect x="4.5" y="18" width="3.6" height="3.6" fill="#195ab8"/><rect x="4.5" y="22.5" width="3.6" height="3.6" fill="#629ae4"/><rect x="4.5" y="27" width="3.6" height="3.6" fill="#3880da"/>
<rect x="9" y="0" width="3.6" height="3.6" fill="#5a95e2"/><rect x="9" y="4.5" width="3.6" height="3.6" fill="#5d98e3"/><rect x="9" y="9" width="3.6" height="3.6" fill="#4387dc"/><rect x="9" y="13.5" width="3.6" height="3.6" fill="#327cd8"/><rect x="9" y="18" width="3.6" height="3.6" fill="#2e77d3"/><rect x="9" y="22.5" width="3.6" height="3.6" fill="#2d75d1"/><rect x="9" y="27" width="3.6" height="3.6" fill="#1656b4"/>
<rect x="13.5" y="0" width="3.6" height="3.6" fill="#266cc9"/><rect x="13.5" y="4.5" width="3.6" height="3.6" fill="#82afeb"/><rect x="13.5" y="9" width="3.6" height="3.6" fill="#327cd8"/><rect x="13.5" y="13.5" width="3.6" height="3.6" fill="#5693e1"/><rect x="13.5" y="18" width="3.6" height="3.6" fill="#5290e0"/><rect x="13.5" y="22.5" width="3.6" height="3.6" fill="#1e61be"/><rect x="13.5" y="27" width="3.6" height="3.6" fill="#4588dd"/>
<rect x="18" y="0" width="3.6" height="3.6" fill="#93bbee"/><rect x="18" y="4.5" width="3.6" height="3.6" fill="#307ad6"/><rect x="18" y="9" width="3.6" height="3.6" fill="#488add"/><rect x="18" y="13.5" width="3.6" height="3.6" fill="#6ea2e7"/><rect x="18" y="18" width="3.6" height="3.6" fill="#639be4"/><rect x="18" y="22.5" width="3.6" height="3.6" fill="#5693e1"/><rect x="18" y="27" width="3.6" height="3.6" fill="#3c83da"/>
<rect x="22.5" y="0" width="3.6" height="3.6" fill="#4e8edf"/><rect x="22.5" y="4.5" width="3.6" height="3.6" fill="#3880d9"/><rect x="22.5" y="9" width="3.6" height="3.6" fill="#1656b4"/><rect x="22.5" y="13.5" width="3.6" height="3.6" fill="#5e98e3"/><rect x="22.5" y="18" width="3.6" height="3.6" fill="#5e98e3"/><rect x="22.5" y="22.5" width="3.6" height="3.6" fill="#4689dd"/><rect x="22.5" y="27" width="3.6" height="3.6" fill="#2266c3"/>
<rect x="27" y="0" width="3.6" height="3.6" fill="#5a95e2"/><rect x="27" y="4.5" width="3.6" height="3.6" fill="#1b5dbb"/><rect x="27" y="9" width="3.6" height="3.6" fill="#74a6e8"/><rect x="27" y="13.5" width="3.6" height="3.6" fill="#689ee5"/><rect x="27" y="18" width="3.6" height="3.6" fill="#3e83db"/><rect x="27" y="22.5" width="3.6" height="3.6" fill="#619ae3"/><rect x="27" y="27" width="3.6" height="3.6" fill="#5693e1"/>
<rect x="31.5" y="0" width="3.6" height="3.6" fill="#2e76d2"/><rect x="31.5" y="4.5" width="3.6" height="3.6" fill="#296fcc"/><rect x="31.5" y="9" width="3.6" height="3.6" fill="#367fd9"/><rect x="31.5" y="13.5" width="3.6" height="3.6" fill="#4789dd"/><rect x="31.5" y="18" width="3.6" height="3.6" fill="#1d60bd"/><rect x="31.5" y="22.5" width="3.6" height="3.6" fill="#2e77d3"/><rect x="31.5" y="27" width="3.6" height="3.6" fill="#4588dd"/>
<rect x="36" y="0" width="3.6" height="3.6" fill="#1f63c0"/><rect x="36" y="4.5" width="3.6" height="3.6" fill="#639be4"/><rect x="36" y="9" width="3.6" height="3.6" fill="#347dd9"/><rect x="36" y="13.5" width="3.6" height="3.6" fill="#2a71cd"/><rect x="36" y="18" width="3.6" height="3.6" fill="#3c82da"/><rect x="36" y="22.5" width="3.6" height="3.6" fill="#5492e0"/><rect x="36" y="27" width="3.6" height="3.6" fill="#2f79d5"/>
<rect x="40.5" y="0" width="3.6" height="3.6" fill="#5391e0"/><rect x="40.5" y="4.5" width="3.6" height="3.6" fill="#5592e1"/><rect x="40.5" y="9" width="3.6" height="3.6" fill="#689ee5"/><rect x="40.5" y="13.5" width="3.6" height="3.6" fill="#1e61be"/><rect x="40.5" y="18" width="3.6" height="3.6" fill="#5391e0"/><rect x="40.5" y="22.5" width="3.6" height="3.6" fill="#2164c2"/><rect x="40.5" y="27" width="3.6" height="3.6" fill="#2f78d4"/>
<rect x="45" y="0" width="3.6" height="3.6" fill="#4789dd"/><rect x="45" y="4.5" width="3.6" height="3.6" fill="#2a71cd"/><rect x="45" y="9" width="3.6" height="3.6" fill="#317ad7"/><rect x="45" y="13.5" width="3.6" height="3.6" fill="#367ed9"/><rect x="45" y="18" width="3.6" height="3.6" fill="#77a8e9"/><rect x="45" y="22.5" width="3.6" height="3.6" fill="#3880d9"/><rect x="45" y="27" width="3.6" height="3.6" fill="#256bc8"/>
<rect x="49.5" y="0" width="3.6" height="3.6" fill="#2d75d1"/><rect x="49.5" y="4.5" width="3.6" height="3.6" fill="#2468c5"/><rect x="49.5" y="9" width="3.6" height="3.6" fill="#1a5cba"/><rect x="49.5" y="13.5" width="3.6" height="3.6" fill="#2e77d3"/><rect x="49.5" y="18" width="3.6" height="3.6" fill="#1656b4"/><rect x="49.5" y="22.5" width="3.6" height="3.6" fill="#7eadea"/><rect x="49.5" y="27" width="3.6" height="3.6" fill="#4689dd"/>
<rect x="54" y="0" width="3.6" height="3.6" fill="#aecdf3"/><rect x="54" y="4.5" width="3.6" height="3.6" fill="#276dca"/><rect x="54" y="9" width="3.6" height="3.6" fill="#377fd9"/><rect x="54" y="13.5" width="3.6" height="3.6" fill="#1757b5"/><rect x="54" y="18" width="3.6" height="3.6" fill="#4b8cde"/><rect x="54" y="22.5" width="3.6" height="3.6" fill="#96bdef"/><rect x="54" y="27" width="3.6" height="3.6" fill="#1e61bf"/>
<rect x="58.5" y="0" width="3.6" height="3.6" fill="#76a7e8"/><rect x="58.5" y="4.5" width="3.6" height="3.6" fill="#72a5e8"/><rect x="58.5" y="9" width="3.6" height="3.6" fill="#4387dc"/><rect x="58.5" y="13.5" width="3.6" height="3.6" fill="#2a72ce"/><rect x="58.5" y="18" width="3.6" height="3.6" fill="#5190e0"/><rect x="58.5" y="22.5" width="3.6" height="3.6" fill="#337dd8"/><rect x="58.5" y="27" width="3.6" height="3.6" fill="#8fb8ed"/>
<rect x="63" y="0" width="3.6" height="3.6" fill="#1656b4"/><rect x="63" y="4.5" width="3.6" height="3.6" fill="#3e84db"/><rect x="63" y="9" width="3.6" height="3.6" fill="#367fd9"/><rect x="63" y="13.5" width="3.6" height="3.6" fill="#2b73cf"/><rect x="63" y="18" width="3.6" height="3.6" fill="#347dd8"/><rect x="63" y="22.5" width="3.6" height="3.6" fill="#337cd8"/><rect x="63" y="27" width="3.6" height="3.6" fill="#649ce4"/>
<rect x="67.5" y="0" width="3.6" height="3.6" fill="#4085db"/><rect x="67.5" y="4.5" width="3.6" height="3.6" fill="#2e76d3"/><rect x="67.5" y="9" width="3.6" height="3.6" fill="#2367c4"/><rect x="67.5" y="13.5" width="3.6" height="3.6" fill="#4085dc"/><rect x="67.5" y="18" width="3.6" height="3.6" fill="#377fd9"/><rect x="67.5" y="22.5" width="3.6" height="3.6" fill="#3079d5"/><rect x="67.5" y="27" width="3.6" height="3.6" fill="#2b73cf"/>
<rect x="72" y="0" width="3.6" height="3.6" fill="#327cd8"/><rect x="72" y="4.5" width="3.6" height="3.6" fill="#4689dd"/><rect x="72" y="9" width="3.6" height="3.6" fill="#5190e0"/><rect x="72" y="13.5" width="3.6" height="3.6" fill="#2165c2"/><rect x="72" y="18" width="3.6" height="3.6" fill="#307ad6"/><rect x="72" y="22.5" width="3.6" height="3.6" fill="#3a81da"/><rect x="72" y="27" width="3.6" height="3.6" fill="#1656b4"/>
<rect x="76.5" y="0" width="3.6" height="3.6" fill="#266bc8"/><rect x="76.5" y="4.5" width="3.6" height="3.6" fill="#266cc9"/><rect x="76.5" y="9" width="3.6" height="3.6" fill="#357ed9"/><rect x="76.5" y="13.5" width="3.6" height="3.6" fill="#679ee5"/><rect x="76.5" y="18" width="3.6" height="3.6" fill="#2165c2"/><rect x="76.5" y="22.5" width="3.6" height="3.6" fill="#3f84db"/><rect x="76.5" y="27" width="3.6" height="3.6" fill="#3980da"/>
<rect x="81" y="0" width="3.6" height="3.6" fill="#2368c5"/><rect x="81" y="4.5" width="3.6" height="3.6" fill="#2368c5"/><rect x="81" y="9" width="3.6" height="3.6" fill="#317bd7"/><rect x="81" y="13.5" width="3.6" height="3.6" fill="#3a81da"/><rect x="81" y="18" width="3.6" height="3.6" fill="#1656b4"/><rect x="81" y="22.5" width="3.6" height="3.6" fill="#2b73cf"/><rect x="81" y="27" width="3.6" height="3.6" fill="#689ee5"/>
<rect x="85.5" y="0" width="3.6" height="3.6" fill="#286ecb"/><rect x="85.5" y="4.5" width="3.6" height="3.6" fill="#357ed9"/><rect x="85.5" y="9" width="3.6" height="3.6" fill="#3a81da"/><rect x="85.5" y="13.5" width="3.6" height="3.6" fill="#2970cd"/><rect x="85.5" y="18" width="3.6" height="3.6" fill="#327bd7"/><rect x="85.5" y="22.5" width="3.6" height="3.6" fill="#1656b4"/><rect x="85.5" y="27" width="3.6" height="3.6" fill="#327cd8"/>
<rect x="90" y="0" width="3.6" height="3.6" fill="#317bd7"/><rect x="90" y="4.5" width="3.6" height="3.6" fill="#2064c1"/><rect x="90" y="9" width="3.6" height="3.6" fill="#5492e0"/><rect x="90" y="13.5" width="3.6" height="3.6" fill="#2368c5"/><rect x="90" y="18" width="3.6" height="3.6" fill="#3e84db"/><rect x="90" y="22.5" width="3.6" height="3.6" fill="#2064c1"/><rect x="90" y="27" width="3.6" height="3.6" fill="#6099e3"/>
<rect x="94.5" y="0" width="3.6" height="3.6" fill="#2e77d3"/><rect x="94.5" y="4.5" width="3.6" height="3.6" fill="#82afeb"/><rect x="94.5" y="9" width="3.6" height="3.6" fill="#4e8edf"/><rect x="94.5" y="13.5" width="3.6" height="3.6" fill="#3b81da"/><rect x="94.5" y="18" width="3.6" height="3.6" fill="#2d75d1"/><rect x="94.5" y="22.5" width="3.6" height="3.6" fill="#1656b4"/><rect x="94.5" y="27" width="3.6" height="3.6" fill="#1656b4"/>
<rect x="99" y="0" width="3.6" height="3.6" fill="#76a7e8"/><rect x="99" y="4.5" width="3.6" height="3.6" fill="#5c97e2"/><rect x="99" y="9" width="3.6" height="3.6" fill="#1f62bf"/><rect x="99" y="13.5" width="3.6" height="3.6" fill="#2e76d3"/><rect x="99" y="18" width="3.6" height="3.6" fill="#77a8e9"/><rect x="99" y="22.5" width="3.6" height="3.6" fill="#2d75d2"/><rect x="99" y="27" width="3.6" height="3.6" fill="#6ca1e6"/>
<rect x="103.5" y="0" width="3.6" height="3.6" fill="#619ae3"/><rect x="103.5" y="4.5" width="3.6" height="3.6" fill="#72a5e8"/><rect x="103.5" y="9" width="3.6" height="3.6" fill="#4789dd"/><rect x="103.5" y="13.5" width="3.6" height="3.6" fill="#1656b4"/><rect x="103.5" y="18" width="3.6" height="3.6" fill="#2f78d4"/><rect x="103.5" y="22.5" width="3.6" height="3.6" fill="#4085db"/><rect x="103.5" y="27" width="3.6" height="3.6" fill="#1656b4"/>
<rect x="108" y="0" width="3.6" height="3.6" fill="#4f8fdf"/><rect x="108" y="4.5" width="3.6" height="3.6" fill="#4286dc"/><rect x="108" y="9" width="3.6" height="3.6" fill="#4789dd"/><rect x="108" y="13.5" width="3.6" height="3.6" fill="#2e77d3"/><rect x="108" y="18" width="3.6" height="3.6" fill="#498ade"/><rect x="108" y="22.5" width="3.6" height="3.6" fill="#1b5dba"/><rect x="108" y="27" width="3.6" height="3.6" fill="#488add"/>
<rect x="112.5" y="0" width="3.6" height="3.6" fill="#2c73d0"/><rect x="112.5" y="4.5" width="3.6" height="3.6" fill="#327cd8"/><rect x="112.5" y="9" width="3.6" height="3.6" fill="#619ae3"/><rect x="112.5" y="13.5" width="3.6" height="3.6" fill="#669de5"/><rect x="112.5" y="18" width="3.6" height="3.6" fill="#3d83db"/><rect x="112.5" y="22.5" width="3.6" height="3.6" fill="#a3c5f1"/><rect x="112.5" y="27" width="3.6" height="3.6" fill="#3b81da"/>
<rect x="117" y="0" width="3.6" height="3.6" fill="#3880d9"/><rect x="117" y="4.5" width="3.6" height="3.6" fill="#357ed9"/><rect x="117" y="9" width="3.6" height="3.6" fill="#3f84db"/><rect x="117" y="13.5" width="3.6" height="3.6" fill="#2f78d5"/><rect x="117" y="18" width="3.6" height="3.6" fill="#4a8cde"/><rect x="117" y="22.5" width="3.6" height="3.6" fill="#2a71ce"/><rect x="117" y="27" width="3.6" height="3.6" fill="#83b0eb"/>
<rect x="121.5" y="0" width="3.6" height="3.6" fill="#256ac7"/><rect x="121.5" y="4.5" width="3.6" height="3.6" fill="#619ae4"/><rect x="121.5" y="9" width="3.6" height="3.6" fill="#2d75d2"/><rect x="121.5" y="13.5" width="3.6" height="3.6" fill="#4f8fdf"/><rect x="121.5" y="18" width="3.6" height="3.6" fill="#4e8edf"/><rect x="121.5" y="22.5" width="3.6" height="3.6" fill="#5e98e3"/><rect x="121.5" y="27" width="3.6" height="3.6" fill="#1d60bd"/>
<rect x="126" y="0" width="3.6" height="3.6" fill="#6aa0e6"/><rect x="126" y="4.5" width="3.6" height="3.6" fill="#70a3e7"/><rect x="126" y="9" width="3.6" height="3.6" fill="#327cd8"/><rect x="126" y="13.5" width="3.6" height="3.6" fill="#317bd7"/><rect x="126" y="18" width="3.6" height="3.6" fill="#3981da"/><rect x="126" y="22.5" width="3.6" height="3.6" fill="#659ce4"/><rect x="126" y="27" width="3.6" height="3.6" fill="#5794e1"/>
<rect x="130.5" y="0" width="3.6" height="3.6" fill="#256bc8"/><rect x="130.5" y="4.5" width="3.6" height="3.6" fill="#689ee5"/><rect x="130.5" y="9" width="3.6" height="3.6" fill="#2b72cf"/><rect x="130.5" y="13.5" width="3.6" height="3.6" fill="#286fcc"/><rect x="130.5" y="18" width="3.6" height="3.6" fill="#357ed9"/><rect x="130.5" y="22.5" width="3.6" height="3.6" fill="#70a3e7"/><rect x="130.5" y="27" width="3.6" height="3.6" fill="#1656b4"/>
<rect x="135" y="0" width="3.6" height="3.6" fill="#367ed9"/><rect x="135" y="4.5" width="3.6" height="3.6" fill="#337cd8"/><rect x="135" y="9" width="3.6" height="3.6" fill="#4b8cde"/><rect x="135" y="13.5" width="3.6" height="3.6" fill="#649ce4"/><rect x="135" y="18" width="3.6" height="3.6" fill="#4789dd"/><rect x="135" y="22.5" width="3.6" height="3.6" fill="#327cd8"/><rect x="135" y="27" width="3.6" height="3.6" fill="#6099e3"/>
<rect x="139.5" y="0" width="3.6" height="3.6" fill="#367fd9"/><rect x="139.5" y="4.5" width="3.6" height="3.6" fill="#2165c2"/><rect x="139.5" y="9" width="3.6" height="3.6" fill="#2e76d3"/><rect x="139.5" y="13.5" width="3.6" height="3.6" fill="#3f84db"/><rect x="139.5" y="18" width="3.6" height="3.6" fill="#2367c4"/><rect x="139.5" y="22.5" width="3.6" height="3.6" fill="#256ac7"/><rect x="139.5" y="27" width="3.6" height="3.6" fill="#256bc8"/>
<rect x="144" y="0" width="3.6" height="3.6" fill="#5e98e3"/><rect x="144" y="4.5" width="3.6" height="3.6" fill="#8cb6ed"/><rect x="144" y="9" width="3.6" height="3.6" fill="#276dca"/><rect x="144" y="13.5" width="3.6" height="3.6" fill="#3980da"/><rect x="144" y="18" width="3.6" height="3.6" fill="#4b8cde"/><rect x="144" y="22.5" width="3.6" height="3.6" fill="#2d75d2"/><rect x="144" y="27" width="3.6" height="3.6" fill="#4f8edf"/>
<rect x="148.5" y="0" width="3.6" height="3.6" fill="#5693e1"/><rect x="148.5" y="4.5" width="3.6" height="3.6" fill="#1656b4"/><rect x="148.5" y="9" width="3.6" height="3.6" fill="#81afeb"/><rect x="148.5" y="13.5" width="3.6" height="3.6" fill="#266cc9"/><rect x="148.5" y="18" width="3.6" height="3.6" fill="#2368c5"/><rect x="148.5" y="22.5" width="3.6" height="3.6" fill="#1656b4"/><rect x="148.5" y="27" width="3.6" height="3.6" fill="#317bd7"/>
<rect x="153" y="0" width="3.6" height="3.6" fill="#2d75d1"/><rect x="153" y="4.5" width="3.6" height="3.6" fill="#639be4"/><rect x="153" y="9" width="3.6" height="3.6" fill="#3a81da"/><rect x="153" y="13.5" width="3.6" height="3.6" fill="#99bfef"/><rect x="153" y="18" width="3.6" height="3.6" fill="#5491e0"/><rect x="153" y="22.5" width="3.6" height="3.6" fill="#3c83db"/><rect x="153" y="27" width="3.6" height="3.6" fill="#4085db"/>
<rect x="157.5" y="0" width="3.6" height="3.6" fill="#508fdf"/><rect x="157.5" y="4.5" width="3.6" height="3.6" fill="#2064c1"/><rect x="157.5" y="9" width="3.6" height="3.6" fill="#81afeb"/><rect x="157.5" y="13.5" width="3.6" height="3.6" fill="#357ed9"/><rect x="157.5" y="18" width="3.6" height="3.6" fill="#4c8dde"/><rect x="157.5" y="22.5" width="3.6" height="3.6" fill="#3a81da"/><rect x="157.5" y="27" width="3.6" height="3.6" fill="#3980da"/>
<rect x="162" y="0" width="3.6" height="3.6" fill="#1656b4"/><rect x="162" y="4.5" width="3.6" height="3.6" fill="#699fe5"/><rect x="162" y="9" width="3.6" height="3.6" fill="#1d60bd"/><rect x="162" y="13.5" width="3.6" height="3.6" fill="#1c5ebc"/><rect x="162" y="18" width="3.6" height="3.6" fill="#4185dc"/><rect x="162" y="22.5" width="3.6" height="3.6" fill="#5693e1"/><rect x="162" y="27" width="3.6" height="3.6" fill="#71a4e7"/>
<rect x="166.5" y="0" width="3.6" height="3.6" fill="#609ae3"/><rect x="166.5" y="4.5" width="3.6" height="3.6" fill="#1656b4"/><rect x="166.5" y="9" width="3.6" height="3.6" fill="#9cc1f0"/><rect x="166.5" y="13.5" width="3.6" height="3.6" fill="#2e76d2"/><rect x="166.5" y="18" width="3.6" height="3.6" fill="#5995e2"/><rect x="166.5" y="22.5" width="3.6" height="3.6" fill="#1656b4"/><rect x="166.5" y="27" width="3.6" height="3.6" fill="#3079d6"/>
<rect x="171" y="0" width="3.6" height="3.6" fill="#76a7e8"/><rect x="171" y="4.5" width="3.6" height="3.6" fill="#5290e0"/><rect x="171" y="9" width="3.6" height="3.6" fill="#337cd8"/><rect x="171" y="13.5" width="3.6" height="3.6" fill="#367ed9"/><rect x="171" y="18" width="3.6" height="3.6" fill="#649ce4"/><rect x="171" y="22.5" width="3.6" height="3.6" fill="#478add"/><rect x="171" y="27" width="3.6" height="3.6" fill="#4f8fdf"/>
<rect x="175.5" y="0" width="3.6" height="3.6" fill="#2d75d2"/><rect x="175.5" y="4.5" width="3.6" height="3.6" fill="#317ad6"/><rect x="175.5" y="9" width="3.6" height="3.6" fill="#327cd8"/><rect x="175.5" y="13.5" width="3.6" height="3.6" fill="#5592e0"/><rect x="175.5" y="18" width="3.6" height="3.6" fill="#276eca"/><rect x="175.5" y="22.5" width="3.6" height="3.6" fill="#5491e0"/><rect x="175.5" y="27" width="3.6" height="3.6" fill="#5f99e3"/>
<rect x="180" y="0" width="3.6" height="3.6" fill="#4e8edf"/><rect x="180" y="4.5" width="3.6" height="3.6" fill="#498bde"/><rect x="180" y="9" width="3.6" height="3.6" fill="#498add"/><rect x="180" y="13.5" width="3.6" height="3.6" fill="#91baee"/><rect x="180" y="18" width="3.6" height="3.6" fill="#1d60bd"/><rect x="180" y="22.5" width="3.6" height="3.6" fill="#2a72ce"/><rect x="180" y="27" width="3.6" height="3.6" fill="#1e60be"/>
<rect x="184.5" y="0" width="3.6" height="3.6" fill="#4c8dde"/><rect x="184.5" y="4.5" width="3.6" height="3.6" fill="#286fcb"/><rect x="184.5" y="9" width="3.6" height="3.6" fill="#337cd8"/><rect x="184.5" y="13.5" width="3.6" height="3.6" fill="#3a81da"/><rect x="184.5" y="18" width="3.6" height="3.6" fill="#1656b4"/><rect x="184.5" y="22.5" width="3.6" height="3.6" fill="#5592e0"/><rect x="184.5" y="27" width="3.6" height="3.6" fill="#2b73cf"/>
<rect x="189" y="0" width="3.6" height="3.6" fill="#88b3ec"/><rect x="189" y="4.5" width="3.6" height="3.6" fill="#f0f0f0"/><rect x="189" y="9" width="3.6" height="3.6" fill="#f0f0f0"/><rect x="189" y="13.5" width="3.6" height="3.6" fill="#f0f0f0"/><rect x="189" y="18" width="3.6" height="3.6" fill="#f0f0f0"/><rect x="189" y="22.5" width="3.6" height="3.6" fill="#f0f0f0"/><rect x="189" y="27" width="3.6" height="3.6" fill="#f0f0f0"/>
<rect x="193.5" y="0" width="3.6" height="3.6" fill="#f0f0f0"/><rect x="193.5" y="4.5" width="3.6" height="3.6" fill="#f0f0f0"/><rect x="193.5" y="9" width="3.6" height="3.6" fill="#f0f0f0"/><rect x="193.5" y="13.5" width="3.6" height="3.6" fill="#f0f0f0"/><rect x="193.5" y="18" width="3.6" height="3.6" fill="#f0f0f0"/><rect x="193.5" y="22.5" width="3.6" height="3.6" fill="#f0f0f0"/><rect x="193.5" y="27" width="3.6" height="3.6" fill="#f0f0f0"/>
<rect x="198" y="0" width="3.6" height="3.6" fill="#f0f0f0"/><rect x="198" y="4.5" width="3.6" height="3.6" fill="#f0f0f0"/><rect x="198" y="9" width="3.6" height="3.6" fill="#f0f0f0"/><rect x="198" y="13.5" width="3.6" height="3.6" fill="#f0f0f0"/><rect x="198" y="18" width="3.6" height="3.6" fill="#f0f0f0"/><rect x="198" y="22.5" width="3.6" height="3.6" fill="#f0f0f0"/><rect x="198" y="27" width="3.6" height="3.6" fill="#f0f0f0"/>
<rect x="202.5" y="0" width="3.6" height="3.6" fill="#f0f0f0"/><rect x="202.5" y="4.5" width="3.6" height="3.6" fill="#f0f0f0"/><rect x="202.5" y="9" width="3.6" height="3.6" fill="#f0f0f0"/><rect x="202.5" y="13.5" width="3.6" height="3.6" fill="#f0f0f0"/><rect x="202.5" y="18" width="3.6" height="3.6" fill="#f0f0f0"/><rect x="202.5" y="22.5" width="3.6" height="3.6" fill="#f0f0f0"/><rect x="202.5" y="27" width="3.6" height="3.6" fill="#f0f0f0"/>
<rect x="207" y="0" width="3.6" height="3.6" fill="#f0f0f0"/><rect x="207" y="4.5" width="3.6" height="3.6" fill="#f0f0f0"/><rect x="207" y="9" width="3.6" height="3.6" fill="#f0f0f0"/><rect x="207" y="13.5" width="3.6" height="3.6" fill="#f0f0f0"/><rect x="207" y="18" width="3.6" height="3.6" fill="#f0f0f0"/><rect x="207" y="22.5" width="3.6" height="3.6" fill="#f0f0f0"/><rect x="207" y="27" width="3.6" height="3.6" fill="#f0f0f0"/>
<rect x="211.5" y="0" width="3.6" height="3.6" fill="#f0f0f0"/><rect x="211.5" y="4.5" width="3.6" height="3.6" fill="#f0f0f0"/><rect x="211.5" y="9" width="3.6" height="3.6" fill="#f0f0f0"/><rect x="211.5" y="13.5" width="3.6" height="3.6" fill="#f0f0f0"/><rect x="211.5" y="18" width="3.6" height="3.6" fill="#f0f0f0"/><rect x="211.5" y="22.5" width="3.6" height="3.6" fill="#f0f0f0"/><rect x="211.5" y="27" width="3.6" height="3.6" fill="#f0f0f0"/>
<rect x="216" y="0" width="3.6" height="3.6" fill="#f0f0f0"/><rect x="216" y="4.5" width="3.6" height="3.6" fill="#f0f0f0"/><rect x="216" y="9" width="3.6" height="3.6" fill="#f0f0f0"/><rect x="216" y="13.5" width="3.6" height="3.6" fill="#f0f0f0"/><rect x="216" y="18" width="3.6" height="3.6" fill="#f0f0f0"/><rect x="216" y="22.5" width="3.6" height="3.6" fill="#f0f0f0"/><rect x="216" y="27" width="3.6" height="3.6" fill="#f0f0f0"/>
<rect x="220.5" y="0" width="3.6" height="3.6" fill="#f0f0f0"/><rect x="220.5" y="4.5" width="3.6" height="3.6" fill="#f0f0f0"/><rect x="220.5" y="9" width="3.6" height="3.6" fill="#f0f0f0"/><rect x="220.5" y="13.5" width="3.6" height="3.6" fill="#f0f0f0"/><rect x="220.5" y="18" width="3.6" height="3.6" fill="#f0f0f0"/><rect x="220.5" y="22.5" width="3.6" height="3.6" fill="#f0f0f0"/><rect x="220.5" y="27" width="3.6" height="3.6" fill="#f0f0f0"/>
<rect x="225" y="0" width="3.6" height="3.6" fill="#f0f0f0"/><rect x="225" y="4.5" width="3.6" height="3.6" fill="#f0f0f0"/><rect x="225" y="9" width="3.6" height="3.6" fill="#f0f0f0"/><rect x="225" y="13.5" width="3.6" height="3.6" fill="#f0f0f0"/><rect x="225" y="18" width="3.6" height="3.6" fill="#f0f0f0"/><rect x="225" y="22.5" width="3.6" height="3.6" fill="#f0f0f0"/><rect x="225" y="27" width="3.6" height="3.6" fill="#f0f0f0"/>
<rect x="229.5" y="0" width="3.6" height="3.6" fill="#f0f0f0"/><rect x="229.5" y="4.5" width="3.6" height="3.6" fill="#f0f0f0"/><rect x="229.5" y="9" width="3.6" height="3.6" fill="#f0f0f0"/><rect x="229.5" y="13.5" width="3.6" height="3.6" fill="#f0f0f0"/><rect x="229.5" y="18" width="3.6" height="3.6" fill="#f0f0f0"/><rect x="229.5" y="22.5" width="3.6" height="3.6" fill="#f0f0f0"/><rect x="229.5" y="27" width="3.6" height="3.6" fill="#f0f0f0"/>
<rect x="234" y="0" width="3.6" height="3.6" fill="#f0f0f0"/><rect x="234" y="4.5" width="3.6" height="3.6" fill="#f0f0f0"/><rect x="234" y="9" width="3.6" height="3.6" fill="#f0f0f0"/><rect x="234" y="13.5" width="3.6" height="3.6" fill="#f0f0f0"/><rect x="234" y="18" width="3.6" height="3.6" fill="#f0f0f0"/><rect x="234" y="22.5" width="3.6" height="3.6" fill="#f0f0f0"/>
</g></g></svg>
<h2 style="left:10.90px;top:11.55px;letter-spacing:-0.057px">Daily water intake</h2>
<p class="st b" style="left:10.90px;top:91.02px;letter-spacing:-0.307px">Today: 5 cups</p>
<p class="st" style="left:10.90px;top:101.07px;letter-spacing:-0.002px">Streak: 290 days</p>
<p class="st" style="left:10.90px;top:111.12px;letter-spacing:-0.077px">Average: 5.90 cups</p>
<p class="st" style="left:10.90px;top:121.17px;letter-spacing:-0.051px">Standard deviation: 1.17 cups</p>
</div>
<div class="card" style="left:270px;top:291px;width:261px;height:143px">
<svg width="269" height="151"><g transform="translate(-266,-287)">
<rect class="fr" x="270.7" y="291.15" width="258.7" height="141.8" rx="0.7"/>
<g transform="translate(281.2,335.7)">
<text class="m" x="12.9" y="-4.52">Jan</text><text class="m" x="33.2" y="-4.52">Feb</text><text class="m" x="50.9" y="-4.52">Mar</text><text class="m" x="69" y="-4.52">Apr</text><text class="m" x="89.4" y="-4.52">May</text><text class="m" x="109.6" y="-4.52">Jun</text><text class="m" x="128.4" y="-4.52">Jul</text><text class="m" x="150.7" y="-4.52">Aug</text><text class="m" x="168.7" y="-4.52">Sep</text><text class="m" x="189.1" y="-4.52">Oct</text><text class="m" x="209.4" y="-4.52">Nov</text><text class="m" x="227.7" y="-4.52">Dec</text>
<rect x="4.5" y="0" width="183.6" height="30.6" fill="#fefcfd"/><rect x="0" y="22.5" width="4.5" height="8.1" fill="#fefcfd"/><rect x="188" y="0" width="4.6" height="3.6" fill="#fefcfd"/><rect x="193.5" y="0" width="40.5" height="30.6" fill="#fafafa"/><rect x="234" y="0" width="3.6" height="26.1" fill="#fafafa"/><rect x="189" y="4.5" width="4.5" height="26.1" fill="#fafafa"/>
<rect x="0" y="22.5" width="3.6" height="3.6" fill="#f7cddd"/><rect x="0" y="27" width="3.6" height="3.6" fill="#f7ccdd"/>
<rect x="4.5" y="0" width="3.6" height="3.6" fill="#e895b8"/><rect x="4.5" y="4.5" width="3.6" height="3.6" fill="#fce6ee"/><rect x="4.5" y="9" width="3.6" height="3.6" fill="#f0aec9"/><rect x="4.5" y="13.5" width="3.6" height="3.6" fill="#fce6ee"/><rect x="4.5" y="18" width="3.6" height="3.6" fill="#e386ae"/><rect x="4.5" y="22.5" width="3.6" height="3.6" fill="#eda3c2"/><rect x="4.5" y="27" width="3.6" height="3.6" fill="#df7da9"/>
<rect x="9" y="0" width="3.6" height="3.6" fill="#f3bad0"/><rect x="9" y="4.5" width="3.6" height="3.6" fill="#eb9dbd"/><rect x="9" y="9" width="3.6" height="3.6" fill="#f1b3cc"/><rect x="9" y="13.5" width="3.6" height="3.6" fill="#f5c1d5"/><rect x="9" y="18" width="3.6" height="3.6" fill="#eda5c3"/><rect x="9" y="22.5" width="3.6" height="3.6" fill="#f8cfdf"/><rect x="9" y="27" width="3.6" height="3.6" fill="#f2b5cd"/>
<rect x="13.5" y="0" width="3.6" height="3.6" fill="#e894b7"/><rect x="13.5" y="4.5" width="3.6" height="3.6" fill="#eea8c5"/><rect x="13.5" y="9" width="3.6" height="3.6" fill="#f2b7cf"/><rect x="13.5" y="13.5" width="3.6" height="3.6" fill="#d15f96"/><rect x="13.5" y="18" width="3.6" height="3.6" fill="#eea8c5"/><rect x="13.5" y="22.5" width="3.6" height="3.6" fill="#f4bcd2"/><rect x="13.5" y="27" width="3.6" height="3.6" fill="#eda5c2"/>
<rect x="18" y="0" width="3.6" height="3.6" fill="#f4bad1"/><rect x="18" y="4.5" width="3.6" height="3.6" fill="#f2b6ce"/><rect x="18" y="9" width="3.6" height="3.6" fill="#f2b5cd"/><rect x="18" y="13.5" width="3.6" height="3.6" fill="#d3659a"/><rect x="18" y="18" width="3.6" height="3.6" fill="#eea9c5"/><rect x="18" y="22.5" width="3.6" height="3.6" fill="#eda4c2"/><rect x="18" y="27" width="3.6" height="3.6" fill="#e894b8"/>
<rect x="22.5" y="0" width="3.6" height="3.6" fill="#d4669a"/><rect x="22.5" y="4.5" width="3.6" height="3.6" fill="#f1b1cb"/><rect x="22.5" y="9" width="3.6" height="3.6" fill="#f4bdd3"/><rect x="22.5" y="13.5" width="3.6" height="3.6" fill="#cc5690"/><rect x="22.5" y="18" width="3.6" height="3.6" fill="#f9d5e2"/><rect x="22.5" y="22.5" width="3.6" height="3.6" fill="#f2b5ce"/><rect x="22.5" y="27" width="3.6" height="3.6" fill="#e995b8"/>
<rect x="27" y="0" width="3.6" height="3.6" fill="#cf5c94"/><rect x="27" y="4.5" width="3.6" height="3.6" fill="#f6c6d9"/><rect x="27" y="9" width="3.6" height="3.6" fill="#fce6ee"/><rect x="27" y="13.5" width="3.6" height="3.6" fill="#e995b8"/><rect x="27" y="18" width="3.6" height="3.6" fill="#f4bad1"/><rect x="27" y="22.5" width="3.6" height="3.6" fill="#f2b6ce"/><rect x="27" y="27" width="3.6" height="3.6" fill="#ea9bbc"/>
<rect x="31.5" y="0" width="3.6" height="3.6" fill="#eda3c1"/><rect x="31.5" y="4.5" width="3.6" height="3.6" fill="#eca1c0"/><rect x="31.5" y="9" width="3.6" height="3.6" fill="#f3b7cf"/><rect x="31.5" y="13.5" width="3.6" height="3.6" fill="#e080aa"/><rect x="31.5" y="18" width="3.6" height="3.6" fill="#dc78a5"/><rect x="31.5" y="22.5" width="3.6" height="3.6" fill="#eea9c5"/><rect x="31.5" y="27" width="3.6" height="3.6" fill="#f3b8cf"/>
<rect x="36" y="0" width="3.6" height="3.6" fill="#e893b6"/><rect x="36" y="4.5" width="3.6" height="3.6" fill="#ea9bbc"/><rect x="36" y="9" width="3.6" height="3.6" fill="#f6c9db"/><rect x="36" y="13.5" width="3.6" height="3.6" fill="#f3b8d0"/><rect x="36" y="18" width="3.6" height="3.6" fill="#e488b0"/><rect x="36" y="22.5" width="3.6" height="3.6" fill="#f0adc8"/><rect x="36" y="27" width="3.6" height="3.6" fill="#f2b4cd"/>
<rect x="40.5" y="0" width="3.6" height="3.6" fill="#eda3c1"/><rect x="40.5" y="4.5" width="3.6" height="3.6" fill="#efabc7"/><rect x="40.5" y="9" width="3.6" height="3.6" fill="#efaac6"/><rect x="40.5" y="13.5" width="3.6" height="3.6" fill="#fbe2eb"/><rect x="40.5" y="18" width="3.6" height="3.6" fill="#d86fa0"/><rect x="40.5" y="22.5" width="3.6" height="3.6" fill="#eda3c2"/><rect x="40.5" y="27" width="3.6" height="3.6" fill="#f6c4d8"/>
<rect x="45" y="0" width="3.6" height="3.6" fill="#e58bb1"/><rect x="45" y="4.5" width="3.6" height="3.6" fill="#eca0bf"/><rect x="45" y="9" width="3.6" height="3.6" fill="#efa9c5"/><rect x="45" y="13.5" width="3.6" height="3.6" fill="#e488b0"/><rect x="45" y="18" width="3.6" height="3.6" fill="#cf5d94"/><rect x="45" y="22.5" width="3.6" height="3.6" fill="#ea98ba"/><rect x="45" y="27" width="3.6" height="3.6" fill="#db75a4"/>
<rect x="49.5" y="0" width="3.6" height="3.6" fill="#d16197"/><rect x="49.5" y="4.5" width="3.6" height="3.6" fill="#f6c8da"/><rect x="49.5" y="9" width="3.6" height="3.6" fill="#f4bad1"/><rect x="49.5" y="13.5" width="3.6" height="3.6" fill="#e891b5"/><rect x="49.5" y="18" width="3.6" height="3.6" fill="#fadbe7"/><rect x="49.5" y="22.5" width="3.6" height="3.6" fill="#f1b2cb"/><rect x="49.5" y="27" width="3.6" height="3.6" fill="#e07faa"/>
<rect x="54" y="0" width="3.6" height="3.6" fill="#e488b0"/><rect x="54" y="4.5" width="3.6" height="3.6" fill="#e997ba"/><rect x="54" y="9" width="3.6" height="3.6" fill="#fbe1ea"/><rect x="54" y="13.5" width="3.6" height="3.6" fill="#ce5a92"/><rect x="54" y="18" width="3.6" height="3.6" fill="#ea98ba"/><rect x="54" y="22.5" width="3.6" height="3.6" fill="#e891b6"/><rect x="54" y="27" width="3.6" height="3.6" fill="#ea9abb"/>
<rect x="58.5" y="0" width="3.6" height="3.6" fill="#fadce7"/><rect x="58.5" y="4.5" width="3.6" height="3.6" fill="#f9d4e2"/><rect x="58.5" y="9" width="3.6" height="3.6" fill="#f7cede"/><rect x="58.5" y="13.5" width="3.6" height="3.6" fill="#d5699c"/><rect x="58.5" y="18" width="3.6" height="3.6" fill="#f5c3d7"/><rect x="58.5" y="22.5" width="3.6" height="3.6" fill="#f1b1cb"/><rect x="58.5" y="27" width="3.6" height="3.6" fill="#f1b2cb"/>
<rect x="63" y="0" width="3.6" height="3.6" fill="#e998ba"/><rect x="63" y="4.5" width="3.6" height="3.6" fill="#ea9abb"/><rect x="63" y="9" width="3.6" height="3.6" fill="#eca1c0"/><rect x="63" y="13.5" width="3.6" height="3.6" fill="#f8cfdf"/><rect x="63" y="18" width="3.6" height="3.6" fill="#fce6ee"/><rect x="63" y="22.5" width="3.6" height="3.6" fill="#eda4c2"/><rect x="63" y="27" width="3.6" height="3.6" fill="#eca1c0"/>
<rect x="67.5" y="0" width="3.6" height="3.6" fill="#e182ab"/><rect x="67.5" y="4.5" width="3.6" height="3.6" fill="#f0adc8"/><rect x="67.5" y="9" width="3.6" height="3.6" fill="#f4bdd3"/><rect x="67.5" y="13.5" width="3.6" height="3.6" fill="#eb9dbd"/><rect x="67.5" y="18" width="3.6" height="3.6" fill="#f9d7e4"/><rect x="67.5" y="22.5" width="3.6" height="3.6" fill="#f6c9db"/><rect x="67.5" y="27" width="3.6" height="3.6" fill="#f6c8da"/>
<rect x="72" y="0" width="3.6" height="3.6" fill="#eca1c0"/><rect x="72" y="4.5" width="3.6" height="3.6" fill="#d26398"/><rect x="72" y="9" width="3.6" height="3.6" fill="#e892b6"/><rect x="72" y="13.5" width="3.6" height="3.6" fill="#e385ad"/><rect x="72" y="18" width="3.6" height="3.6" fill="#eca2c1"/><rect x="72" y="22.5" width="3.6" height="3.6" fill="#eca1c0"/><rect x="72" y="27" width="3.6" height="3.6" fill="#f3b8cf"/>
<rect x="76.5" y="0" width="3.6" height="3.6" fill="#f1b3cc"/><rect x="76.5" y="4.5" width="3.6" height="3.6" fill="#fce6ee"/><rect x="76.5" y="9" width="3.6" height="3.6" fill="#f7cdde"/><rect x="76.5" y="13.5" width="3.6" height="3.6" fill="#f8d0df"/><rect x="76.5" y="18" width="3.6" height="3.6" fill="#e78fb4"/><rect x="76.5" y="22.5" width="3.6" height="3.6" fill="#e995b8"/><rect x="76.5" y="27" width="3.6" height="3.6" fill="#e385ad"/>
<rect x="81" y="0" width="3.6" height="3.6" fill="#db76a4"/><rect x="81" y="4.5" width="3.6" height="3.6" fill="#f2b3cc"/><rect x="81" y="9" width="3.6" height="3.6" fill="#e488af"/><rect x="81" y="13.5" width="3.6" height="3.6" fill="#d5689b"/><rect x="81" y="18" width="3.6" height="3.6" fill="#efaac6"/><rect x="81" y="22.5" width="3.6" height="3.6" fill="#e387af"/><rect x="81" y="27" width="3.6" height="3.6" fill="#f0afc9"/>
<rect x="85.5" y="0" width="3.6" height="3.6" fill="#f9d9e5"/><rect x="85.5" y="4.5" width="3.6" height="3.6" fill="#eea6c3"/><rect x="85.5" y="9" width="3.6" height="3.6" fill="#f5c3d7"/><rect x="85.5" y="13.5" width="3.6" height="3.6" fill="#eea6c4"/><rect x="85.5" y="18" width="3.6" height="3.6" fill="#f3b8d0"/><rect x="85.5" y="22.5" width="3.6" height="3.6" fill="#eca0bf"/><rect x="85.5" y="27" width="3.6" height="3.6" fill="#fce6ee"/>
<rect x="90" y="0" width="3.6" height="3.6" fill="#d26398"/><rect x="90" y="4.5" width="3.6" height="3.6" fill="#df7da9"/><rect x="90" y="9" width="3.6" height="3.6" fill="#f2b5cd"/><rect x="90" y="13.5" width="3.6" height="3.6" fill="#f6c5d8"/><rect x="90" y="18" width="3.6" height="3.6" fill="#efaac6"/><rect x="90" y="22.5" width="3.6" height="3.6" fill="#e894b8"/><rect x="90" y="27" width="3.6" height="3.6" fill="#eb9cbd"/>
<rect x="94.5" y="0" width="3.6" height="3.6" fill="#eb9dbd"/><rect x="94.5" y="4.5" width="3.6" height="3.6" fill="#fbe3ec"/><rect x="94.5" y="9" width="3.6" height="3.6" fill="#f7cbdc"/><rect x="94.5" y="13.5" width="3.6" height="3.6" fill="#df7ea9"/><rect x="94.5" y="18" width="3.6" height="3.6" fill="#eca2c1"/><rect x="94.5" y="22.5" width="3.6" height="3.6" fill="#f9d6e3"/><rect x="94.5" y="27" width="3.6" height="3.6" fill="#f6c4d7"/>
<rect x="99" y="0" width="3.6" height="3.6" fill="#f9d4e2"/><rect x="99" y="4.5" width="3.6" height="3.6" fill="#f6c8da"/><rect x="99" y="9" width="3.6" height="3.6" fill="#e283ad"/><rect x="99" y="13.5" width="3.6" height="3.6" fill="#f1b1cb"/><rect x="99" y="18" width="3.6" height="3.6" fill="#e385ae"/><rect x="99" y="22.5" width="3.6" height="3.6" fill="#eda4c2"/><rect x="99" y="27" width="3.6" height="3.6" fill="#f9d6e3"/>
<rect x="103.5" y="0" width="3.6" height="3.6" fill="#f4bed3"/><rect x="103.5" y="4.5" width="3.6" height="3.6" fill="#ce5b93"/><rect x="103.5" y="9" width="3.6" height="3.6" fill="#f5c2d6"/><rect x="103.5" y="13.5" width="3.6" height="3.6" fill="#f7cadb"/><rect x="103.5" y="18" width="3.6" height="3.6" fill="#e181ab"/><rect x="103.5" y="22.5" width="3.6" height="3.6" fill="#eea7c4"/><rect x="103.5" y="27" width="3.6" height="3.6" fill="#efaac6"/>
<rect x="108" y="0" width="3.6" height="3.6" fill="#dd78a6"/><rect x="108" y="4.5" width="3.6" height="3.6" fill="#fadee8"/><rect x="108" y="9" width="3.6" height="3.6" fill="#eb9cbd"/><rect x="108" y="13.5" width="3.6" height="3.6" fill="#f7cadb"/><rect x="108" y="18" width="3.6" height="3.6" fill="#f9d4e2"/><rect x="108" y="22.5" width="3.6" height="3.6" fill="#f5c3d7"/><rect x="108" y="27" width="3.6" height="3.6" fill="#e284ad"/>
<rect x="112.5" y="0" width="3.6" height="3.6" fill="#f0aec9"/><rect x="112.5" y="4.5" width="3.6" height="3.6" fill="#fbe0ea"/><rect x="112.5" y="9" width="3.6" height="3.6" fill="#f7cbdc"/><rect x="112.5" y="13.5" width="3.6" height="3.6" fill="#db76a4"/><rect x="112.5" y="18" width="3.6" height="3.6" fill="#e488b0"/><rect x="112.5" y="22.5" width="3.6" height="3.6" fill="#f7cbdc"/><rect x="112.5" y="27" width="3.6" height="3.6" fill="#cc5690"/>
<rect x="117" y="0" width="3.6" height="3.6" fill="#f2b6ce"/><rect x="117" y="4.5" width="3.6" height="3.6" fill="#f7cede"/><rect x="117" y="9" width="3.6" height="3.6" fill="#f0aec9"/><rect x="117" y="13.5" width="3.6" height="3.6" fill="#e68bb2"/><rect x="117" y="18" width="3.6" height="3.6" fill="#da73a2"/><rect x="117" y="22.5" width="3.6" height="3.6" fill="#e488af"/><rect x="117" y="27" width="3.6" height="3.6" fill="#f3b8cf"/>
<rect x="121.5" y="0" width="3.6" height="3.6" fill="#f4bcd2"/><rect x="121.5" y="4.5" width="3.6" height="3.6" fill="#f9d5e3"/><rect x="121.5" y="9" width="3.6" height="3.6" fill="#efacc7"/><rect x="121.5" y="13.5" width="3.6" height="3.6" fill="#f4bdd3"/><rect x="121.5" y="18" width="3.6" height="3.6" fill="#eca2c1"/><rect x="121.5" y="22.5" width="3.6" height="3.6" fill="#f8d0df"/><rect x="121.5" y="27" width="3.6" height="3.6" fill="#f4bbd1"/>
<rect x="126" y="0" width="3.6" height="3.6" fill="#f6c5d8"/><rect x="126" y="4.5" width="3.6" height="3.6" fill="#f7cede"/><rect x="126" y="9" width="3.6" height="3.6" fill="#f7cede"/><rect x="126" y="13.5" width="3.6" height="3.6" fill="#f6c9db"/><rect x="126" y="18" width="3.6" height="3.6" fill="#f7cede"/><rect x="126" y="22.5" width="3.6" height="3.6" fill="#e997ba"/><rect x="126" y="27" width="3.6" height="3.6" fill="#eea7c4"/>
<rect x="130.5" y="0" width="3.6" height="3.6" fill="#f8d1e0"/><rect x="130.5" y="4.5" width="3.6" height="3.6" fill="#ea99bb"/><rect x="130.5" y="9" width="3.6" height="3.6" fill="#eca0c0"/><rect x="130.5" y="13.5" width="3.6" height="3.6" fill="#dc78a6"/><rect x="130.5" y="18" width="3.6" height="3.6" fill="#f1b0ca"/><rect x="130.5" y="22.5" width="3.6" height="3.6" fill="#f1b1ca"/><rect x="130.5" y="27" width="3.6" height="3.6" fill="#f5c0d4"/>
<rect x="135" y="0" width="3.6" height="3.6" fill="#eea6c3"/><rect x="135" y="4.5" width="3.6" height="3.6" fill="#ea9abb"/><rect x="135" y="9" width="3.6" height="3.6" fill="#eda4c2"/><rect x="135" y="13.5" width="3.6" height="3.6" fill="#f1b2cb"/><rect x="135" y="18" width="3.6" height="3.6" fill="#e997ba"/><rect x="135" y="22.5" width="3.6" height="3.6" fill="#eea7c4"/><rect x="135" y="27" width="3.6" height="3.6" fill="#eca2c1"/>
<rect x="139.5" y="0" width="3.6" height="3.6" fill="#f6c7d9"/><rect x="139.5" y="4.5" width="3.6" height="3.6" fill="#eda3c1"/><rect x="139.5" y="9" width="3.6" height="3.6" fill="#f6c8da"/><rect x="139.5" y="13.5" width="3.6" height="3.6" fill="#f6c4d7"/><rect x="139.5" y="18" width="3.6" height="3.6" fill="#eda5c2"/><rect x="139.5" y="22.5" width="3.6" height="3.6" fill="#d16197"/><rect x="139.5" y="27" width="3.6" height="3.6" fill="#e589b0"/>
<rect x="144" y="0" width="3.6" height="3.6" fill="#efaac6"/><rect x="144" y="4.5" width="3.6" height="3.6" fill="#f0b0ca"/><rect x="144" y="9" width="3.6" height="3.6" fill="#e589b0"/><rect x="144" y="13.5" width="3.6" height="3.6" fill="#de7ba7"/><rect x="144" y="18" width="3.6" height="3.6" fill="#e181ab"/><rect x="144" y="22.5" width="3.6" height="3.6" fill="#f0b0ca"/><rect x="144" y="27" width="3.6" height="3.6" fill="#eda4c2"/>
<rect x="148.5" y="0" width="3.6" height="3.6" fill="#f2b4cd"/><rect x="148.5" y="4.5" width="3.6" height="3.6" fill="#f1b3cc"/><rect x="148.5" y="9" width="3.6" height="3.6" fill="#f6c4d8"/><rect x="148.5" y="13.5" width="3.6" height="3.6" fill="#f1b2cb"/><rect x="148.5" y="18" width="3.6" height="3.6" fill="#fce6ee"/><rect x="148.5" y="22.5" width="3.6" height="3.6" fill="#f7cede"/><rect x="148.5" y="27" width="3.6" height="3.6" fill="#eb9cbd"/>
<rect x="153" y="0" width="3.6" height="3.6" fill="#f6c6d9"/><rect x="153" y="4.5" width="3.6" height="3.6" fill="#ea98ba"/><rect x="153" y="9" width="3.6" height="3.6" fill="#f8d1e0"/><rect x="153" y="13.5" width="3.6" height="3.6" fill="#f2b6ce"/><rect x="153" y="18" width="3.6" height="3.6" fill="#eb9dbd"/><rect x="153" y="22.5" width="3.6" height="3.6" fill="#f7c9db"/><rect x="153" y="27" width="3.6" height="3.6" fill="#f5c0d5"/>
<rect x="157.5" y="0" width="3.6" height="3.6" fill="#cc5690"/><rect x="157.5" y="4.5" width="3.6" height="3.6" fill="#f5bfd4"/><rect x="157.5" y="9" width="3.6" height="3.6" fill="#f5c0d5"/><rect x="157.5" y="13.5" width="3.6" height="3.6" fill="#f4bcd2"/><rect x="157.5" y="18" width="3.6" height="3.6" fill="#eea9c5"/><rect x="157.5" y="22.5" width="3.6" height="3.6" fill="#efabc6"/><rect x="157.5" y="27" width="3.6" height="3.6" fill="#e58ab1"/>
<rect x="162" y="0" width="3.6" height="3.6" fill="#e790b5"/><rect x="162" y="4.5" width="3.6" height="3.6" fill="#f2b7cf"/><rect x="162" y="9" width="3.6" height="3.6" fill="#f2b5ce"/><rect x="162" y="13.5" width="3.6" height="3.6" fill="#f9d4e2"/><rect x="162" y="18" width="3.6" height="3.6" fill="#f9d6e4"/><rect x="162" y="22.5" width="3.6" height="3.6" fill="#f5c1d5"/><rect x="162" y="27" width="3.6" height="3.6" fill="#e892b6"/>
<rect x="166.5" y="0" width="3.6" height="3.6" fill="#eea6c3"/><rect x="166.5" y="4.5" width="3.6" height="3.6" fill="#e790b5"/><rect x="166.5" y="9" width="3.6" height="3.6" fill="#e68bb1"/><rect x="166.5" y="13.5" width="3.6" height="3.6" fill="#f0afc9"/><rect x="166.5" y="18" width="3.6" height="3.6" fill="#d16197"/><rect x="166.5" y="22.5" width="3.6" height="3.6" fill="#f4bbd1"/><rect x="166.5" y="27" width="3.6" height="3.6" fill="#f4bed3"/>
<rect x="171" y="0" width="3.6" height="3.6" fill="#f3b8cf"/><rect x="171" y="4.5" width="3.6" height="3.6" fill="#e284ad"/><rect x="171" y="9" width="3.6" height="3.6" fill="#f0aec9"/><rect x="171" y="13.5" width="3.6" height="3.6" fill="#f5c1d5"/><rect x="171" y="18" width="3.6" height="3.6" fill="#eb9cbc"/><rect x="171" y="22.5" width="3.6" height="3.6" fill="#e284ad"/><rect x="171" y="27" width="3.6" height="3.6" fill="#f0adc8"/>
<rect x="175.5" y="0" width="3.6" height="3.6" fill="#f1b2cb"/><rect x="175.5" y="4.5" width="3.6" height="3.6" fill="#e386ae"/><rect x="175.5" y="9" width="3.6" height="3.6" fill="#e58ab1"/><rect x="175.5" y="13.5" width="3.6" height="3.6" fill="#e68bb1"/><rect x="175.5" y="18" width="3.6" height="3.6" fill="#f5c2d6"/><rect x="175.5" y="22.5" width="3.6" height="3.6" fill="#eca1c0"/><rect x="175.5" y="27" width="3.6" height="3.6" fill="#eb9ebe"/>
<rect x="180" y="0" width="3.6" height="3.6" fill="#fbdfe9"/><rect x="180" y="4.5" width="3.6" height="3.6" fill="#e182ac"/><rect x="180" y="9" width="3.6" height="3.6" fill="#eea7c4"/><rect x="180" y="13.5" width="3.6" height="3.6" fill="#f2b5cd"/><rect x="180" y="18" width="3.6" height="3.6" fill="#ce5b93"/><rect x="180" y="22.5" width="3.6" height="3.6" fill="#eda5c3"/><rect x="180" y="27" width="3.6" height="3.6" fill="#f5c0d5"/>
<rect x="184.5" y="0" width="3.6" height="3.6" fill="#efacc7"/><rect x="184.5" y="4.5" width="3.6" height="3.6" fill="#e998ba"/><rect x="184.5" y="9" width="3.6" height="3.6" fill="#e78fb4"/><rect x="184.5" y="13.5" width="3.6" height="3.6" fill="#efacc7"/><rect x="184.5" y="18" width="3.6" height="3.6" fill="#f6c5d8"/><rect x="184.5" y="22.5" width="3.6" height="3.6" fill="#f5c0d5"/><rect x="184.5" y="27" width="3.6" height="3.6" fill="#f5c3d7"/>
<rect x="189" y="0" width="3.6" height="3.6" fill="#f7cadb"/><rect x="189" y="4.5" width="3.6" height="3.6" fill="#f0f0f0"/><rect x="189" y="9" width="3.6" height="3.6" fill="#f0f0f0"/><rect x="189" y="13.5" width="3.6" height="3.6" fill="#f0f0f0"/><rect x="189" y="18" width="3.6" height="3.6" fill="#f0f0f0"/><rect x="189" y="22.5" width="3.6" height="3.6" fill="#f0f0f0"/><rect x="189" y="27" width="3.6" height="3.6" fill="#f0f0f0"/>
<rect x="193.5" y="0" width="3.6" height="3.6" fill="#f0f0f0"/><rect x="193.5" y="4.5" width="3.6" height="3.6" fill="#f0f0f0"/><rect x="193.5" y="9" width="3.6" height="3.6" fill="#f0f0f0"/><rect x="193.5" y="13.5" width="3.6" height="3.6" fill="#f0f0f0"/><rect x="193.5" y="18" width="3.6" height="3.6" fill="#f0f0f0"/><rect x="193.5" y="22.5" width="3.6" height="3.6" fill="#f0f0f0"/><rect x="193.5" y="27" width="3.6" height="3.6" fill="#f0f0f0"/>
<rect x="198" y="0" width="3.6" height="3.6" fill="#f0f0f0"/><rect x="198" y="4.5" width="3.6" height="3.6" fill="#f0f0f0"/><rect x="198" y="9" width="3.6" height="3.6" fill="#f0f0f0"/><rect x="198" y="13.5" width="3.6" height="3.6" fill="#f0f0f0"/><rect x="198" y="18" width="3.6" height="3.6" fill="#f0f0f0"/><rect x="198" y="22.5" width="3.6" height="3.6" fill="#f0f0f0"/><rect x="198" y="27" width="3.6" height="3.6" fill="#f0f0f0"/>
<rect x="202.5" y="0" width="3.6" height="3.6" fill="#f0f0f0"/><rect x="202.5" y="4.5" width="3.6" height="3.6" fill="#f0f0f0"/><rect x="202.5" y="9" width="3.6" height="3.6" fill="#f0f0f0"/><rect x="202.5" y="13.5" width="3.6" height="3.6" fill="#f0f0f0"/><rect x="202.5" y="18" width="3.6" height="3.6" fill="#f0f0f0"/><rect x="202.5" y="22.5" width="3.6" height="3.6" fill="#f0f0f0"/><rect x="202.5" y="27" width="3.6" height="3.6" fill="#f0f0f0"/>
<rect x="207" y="0" width="3.6" height="3.6" fill="#f0f0f0"/><rect x="207" y="4.5" width="3.6" height="3.6" fill="#f0f0f0"/><rect x="207" y="9" width="3.6" height="3.6" fill="#f0f0f0"/><rect x="207" y="13.5" width="3.6" height="3.6" fill="#f0f0f0"/><rect x="207" y="18" width="3.6" height="3.6" fill="#f0f0f0"/><rect x="207" y="22.5" width="3.6" height="3.6" fill="#f0f0f0"/><rect x="207" y="27" width="3.6" height="3.6" fill="#f0f0f0"/>
<rect x="211.5" y="0" width="3.6" height="3.6" fill="#f0f0f0"/><rect x="211.5" y="4.5" width="3.6" height="3.6" fill="#f0f0f0"/><rect x="211.5" y="9" width="3.6" height="3.6" fill="#f0f0f0"/><rect x="211.5" y="13.5" width="3.6" height="3.6" fill="#f0f0f0"/><rect x="211.5" y="18" width="3.6" height="3.6" fill="#f0f0f0"/><rect x="211.5" y="22.5" width="3.6" height="3.6" fill="#f0f0f0"/><rect x="211.5" y="27" width="3.6" height="3.6" fill="#f0f0f0"/>
<rect x="216" y="0" width="3.6" height="3.6" fill="#f0f0f0"/><rect x="216" y="4.5" width="3.6" height="3.6" fill="#f0f0f0"/><rect x="216" y="9" width="3.6" height="3.6" fill="#f0f0f0"/><rect x="216" y="13.5" width="3.6" height="3.6" fill="#f0f0f0"/><rect x="216" y="18" width="3.6" height="3.6" fill="#f0f0f0"/><rect x="216" y="22.5" width="3.6" height="3.6" fill="#f0f0f0"/><rect x="216" y="27" width="3.6" height="3.6" fill="#f0f0f0"/>
<rect x="220.5" y="0" width="3.6" height="3.6" fill="#f0f0f0"/><rect x="220.5" y="4.5" width="3.6" height="3.6" fill="#f0f0f0"/><rect x="220.5" y="9" width="3.6" height="3.6" fill="#f0f0f0"/><rect x="220.5" y="13.5" width="3.6" height="3.6" fill="#f0f0f0"/><rect x="220.5" y="18" width="3.6" height="3.6" fill="#f0f0f0"/><rect x="220.5" y="22.5" width="3.6" height="3.6" fill="#f0f0f0"/><rect x="220.5" y="27" width="3.6" height="3.6" fill="#f0f0f0"/>
<rect x="225" y="0" width="3.6" height="3.6" fill="#f0f0f0"/><rect x="225" y="4.5" width="3.6" height="3.6" fill="#f0f0f0"/><rect x="225" y="9" width="3.6" height="3.6" fill="#f0f0f0"/><rect x="225" y="13.5" width="3.6" height="3.6" fill="#f0f0f0"/><rect x="225" y="18" width="3.6" height="3.6" fill="#f0f0f0"/><rect x="225" y="22.5" width="3.6" height="3.6" fill="#f0f0f0"/><rect x="225" y="27" width="3.6" height="3.6" fill="#f0f0f0"/>
<rect x="229.5" y="0" width="3.6" height="3.6" fill="#f0f0f0"/><rect x="229.5" y="4.5" width="3.6" height="3.6" fill="#f0f0f0"/><rect x="229.5" y="9" width="3.6" height="3.6" fill="#f0f0f0"/><rect x="229.5" y="13.5" width="3.6" height="3.6" fill="#f0f0f0"/><rect x="229.5" y="18" width="3.6" height="3.6" fill="#f0f0f0"/><rect x="229.5" y="22.5" width="3.6" height="3.6" fill="#f0f0f0"/><rect x="229.5" y="27" width="3.6" height="3.6" fill="#f0f0f0"/>
<rect x="234" y="0" width="3.6" height="3.6" fill="#f0f0f0"/><rect x="234" y="4.5" width="3.6" height="3.6" fill="#f0f0f0"/><rect x="234" y="9" width="3.6" height="3.6" fill="#f0f0f0"/><rect x="234" y="13.5" width="3.6" height="3.6" fill="#f0f0f0"/><rect x="234" y="18" width="3.6" height="3.6" fill="#f0f0f0"/><rect x="234" y="22.5" width="3.6" height="3.6" fill="#f0f0f0"/>
</g></g></svg>
<h2 style="left:11.30px;top:11.55px;letter-spacing:-0.305px">Daily exercise</h2>
<p class="st b" style="left:11.30px;top:91.02px;letter-spacing:-0.128px">Today: 29.6 minutes</p>
<p class="st" style="left:11.30px;top:101.07px;letter-spacing:-0.002px">Streak: 290 days</p>
<p class="st" style="left:11.30px;top:111.12px;letter-spacing:-0.026px">Average: 39.43 minutes</p>
<p class="st" style="left:11.30px;top:121.17px;letter-spacing:0.013px">Standard deviation: 13.27 minutes</p>
</div>
<div class="card" style="left:534px;top:291px;width:261px;height:143px">
<svg width="269" height="151"><g transform="translate(-530,-287)">
<rect class="fr" x="534" y="291.15" width="259.3" height="141.8" rx="0.7"/>
<g transform="translate(544.7,335.7)">
<text class="m" x="13" y="-4.52">Jan</text><text class="m" x="33.3" y="-4.52">Feb</text><text class="m" x="51" y="-4.52">Mar</text><text class="m" x="69.1" y="-4.52">Apr</text><text class="m" x="89.5" y="-4.52">May</text><text class="m" x="109.7" y="-4.52">Jun</text><text class="m" x="128.5" y="-4.52">Jul</text><text class="m" x="150.8" y="-4.52">Aug</text><text class="m" x="168.8" y="-4.52">Sep</text><text class="m" x="189.2" y="-4.52">Oct</text><text class="m" x="209.5" y="-4.52">Nov</text><text class="m" x="227.8" y="-4.52">Dec</text>
<rect x="4.5" y="0" width="183.6" height="30.6" fill="#f9fbfa"/><rect x="0" y="22.5" width="4.5" height="8.1" fill="#f9fbfa"/><rect x="188" y="0" width="4.6" height="3.6" fill="#f9fbfa"/><rect x="193.5" y="0" width="40.5" height="30.6" fill="#fafafa"/><rect x="234" y="0" width="3.6" height="26.1" fill="#fafafa"/><rect x="189" y="4.5" width="4.5" height="26.1" fill="#fafafa"/>
<rect x="0" y="22.5" width="3.6" height="3.6" fill="#6e9b7f"/><rect x="0" y="27" width="3.6" height="3.6" fill="#6e9b7f"/>
<rect x="4.5" y="0" width="3.6" height="3.6" fill="#6e9b7f"/><rect x="4.5" y="4.5" width="3.6" height="3.6" fill="#6e9b7f"/><rect x="4.5" y="9" width="3.6" height="3.6" fill="#6e9b7f"/><rect x="4.5" y="13.5" width="3.6" height="3.6" fill="#6e9b7f"/><rect x="4.5" y="18" width="3.6" height="3.6" fill="#6e9b7f"/><rect x="4.5" y="22.5" width="3.6" height="3.6" fill="#6e9b7f"/><rect x="4.5" y="27" width="3.6" height="3.6" fill="#6e9b7f"/>
<rect x="9" y="0" width="3.6" height="3.6" fill="#6e9b7f"/><rect x="9" y="4.5" width="3.6" height="3.6" fill="#6e9b7f"/><rect x="9" y="9" width="3.6" height="3.6" fill="#6e9b7f"/><rect x="9" y="13.5" width="3.6" height="3.6" fill="#6e9b7f"/><rect x="9" y="18" width="3.6" height="3.6" fill="#6e9b7f"/><rect x="9" y="22.5" width="3.6" height="3.6" fill="#6e9b7f"/><rect x="9" y="27" width="3.6" height="3.6" fill="#6e9b7f"/>
<rect x="13.5" y="0" width="3.6" height="3.6" fill="#6e9b7f"/><rect x="13.5" y="4.5" width="3.6" height="3.6" fill="#6e9b7f"/><rect x="13.5" y="9" width="3.6" height="3.6" fill="#6e9b7f"/><rect x="13.5" y="13.5" width="3.6" height="3.6" fill="#6e9b7f"/><rect x="13.5" y="18" width="3.6" height="3.6" fill="#6e9b7f"/><rect x="13.5" y="22.5" width="3.6" height="3.6" fill="#6e9b7f"/><rect x="13.5" y="27" width="3.6" height="3.6" fill="#6e9b7f"/>
<rect x="18" y="0" width="3.6" height="3.6" fill="#6e9b7f"/><rect x="18" y="4.5" width="3.6" height="3.6" fill="#6e9b7f"/><rect x="18" y="9" width="3.6" height="3.6" fill="#6e9b7f"/><rect x="18" y="13.5" width="3.6" height="3.6" fill="#6e9b7f"/><rect x="18" y="18" width="3.6" height="3.6" fill="#6e9b7f"/><rect x="18" y="22.5" width="3.6" height="3.6" fill="#6e9b7f"/><rect x="18" y="27" width="3.6" height="3.6" fill="#6e9b7f"/>
<rect x="22.5" y="0" width="3.6" height="3.6" fill="#6e9b7f"/><rect x="22.5" y="4.5" width="3.6" height="3.6" fill="#6e9b7f"/><rect x="22.5" y="9" width="3.6" height="3.6" fill="#6e9b7f"/><rect x="22.5" y="13.5" width="3.6" height="3.6" fill="#6e9b7f"/><rect x="22.5" y="18" width="3.6" height="3.6" fill="#6e9b7f"/><rect x="22.5" y="22.5" width="3.6" height="3.6" fill="#6e9b7f"/><rect x="22.5" y="27" width="3.6" height="3.6" fill="#6e9b7f"/>
<rect x="27" y="0" width="3.6" height="3.6" fill="#6e9b7f"/><rect x="27" y="4.5" width="3.6" height="3.6" fill="#6e9b7f"/><rect x="27" y="9" width="3.6" height="3.6" fill="#6e9b7f"/><rect x="27" y="13.5" width="3.6" height="3.6" fill="#6e9b7f"/><rect x="27" y="18" width="3.6" height="3.6" fill="#6e9b7f"/><rect x="27" y="22.5" width="3.6" height="3.6" fill="#6e9b7f"/><rect x="27" y="27" width="3.6" height="3.6" fill="#6e9b7f"/>
<rect x="31.5" y="0" width="3.6" height="3.6" fill="#6e9b7f"/><rect x="31.5" y="4.5" width="3.6" height="3.6" fill="#6e9b7f"/><rect x="31.5" y="9" width="3.6" height="3.6" fill="#6e9b7f"/><rect x="31.5" y="13.5" width="3.6" height="3.6" fill="#6e9b7f"/><rect x="31.5" y="18" width="3.6" height="3.6" fill="#6e9b7f"/><rect x="31.5" y="22.5" width="3.6" height="3.6" fill="#6e9b7f"/><rect x="31.5" y="27" width="3.6" height="3.6" fill="#6e9b7f"/>
<rect x="36" y="0" width="3.6" height="3.6" fill="#6e9b7f"/><rect x="36" y="4.5" width="3.6" height="3.6" fill="#6e9b7f"/><rect x="36" y="9" width="3.6" height="3.6" fill="#6e9b7f"/><rect x="36" y="13.5" width="3.6" height="3.6" fill="#6e9b7f"/><rect x="36" y="18" width="3.6" height="3.6" fill="#6e9b7f"/><rect x="36" y="22.5" width="3.6" height="3.6" fill="#6e9b7f"/><rect x="36" y="27" width="3.6" height="3.6" fill="#6e9b7f"/>
<rect x="40.5" y="0" width="3.6" height="3.6" fill="#6e9b7f"/><rect x="40.5" y="4.5" width="3.6" height="3.6" fill="#6e9b7f"/><rect x="40.5" y="9" width="3.6" height="3.6" fill="#6e9b7f"/><rect x="40.5" y="13.5" width="3.6" height="3.6" fill="#6e9b7f"/><rect x="40.5" y="18" width="3.6" height="3.6" fill="#6e9b7f"/><rect x="40.5" y="22.5" width="3.6" height="3.6" fill="#6e9b7f"/><rect x="40.5" y="27" width="3.6" height="3.6" fill="#6e9b7f"/>
<rect x="45" y="0" width="3.6" height="3.6" fill="#6e9b7f"/><rect x="45" y="4.5" width="3.6" height="3.6" fill="#6e9b7f"/><rect x="45" y="9" width="3.6" height="3.6" fill="#6e9b7f"/><rect x="45" y="13.5" width="3.6" height="3.6" fill="#6e9b7f"/><rect x="45" y="18" width="3.6" height="3.6" fill="#6e9b7f"/><rect x="45" y="22.5" width="3.6" height="3.6" fill="#6e9b7f"/><rect x="45" y="27" width="3.6" height="3.6" fill="#6e9b7f"/>
<rect x="49.5" y="0" width="3.6" height="3.6" fill="#6e9b7f"/><rect x="49.5" y="4.5" width="3.6" height="3.6" fill="#6e9b7f"/><rect x="49.5" y="9" width="3.6" height="3.6" fill="#6e9b7f"/><rect x="49.5" y="13.5" width="3.6" height="3.6" fill="#6e9b7f"/><rect x="49.5" y="18" width="3.6" height="3.6" fill="#6e9b7f"/><rect x="49.5" y="22.5" width="3.6" height="3.6" fill="#6e9b7f"/><rect x="49.5" y="27" width="3.6" height="3.6" fill="#6e9b7f"/>
<rect x="54" y="0" width="3.6" height="3.6" fill="#6e9b7f"/><rect x="54" y="4.5" width="3.6" height="3.6" fill="#6e9b7f"/><rect x="54" y="9" width="3.6" height="3.6" fill="#6e9b7f"/><rect x="54" y="13.5" width="3.6" height="3.6" fill="#6e9b7f"/><rect x="54" y="18" width="3.6" height="3.6" fill="#6e9b7f"/><rect x="54" y="22.5" width="3.6" height="3.6" fill="#6e9b7f"/><rect x="54" y="27" width="3.6" height="3.6" fill="#6e9b7f"/>
<rect x="58.5" y="0" width="3.6" height="3.6" fill="#6e9b7f"/><rect x="58.5" y="4.5" width="3.6" height="3.6" fill="#6e9b7f"/><rect x="58.5" y="9" width="3.6" height="3.6" fill="#6e9b7f"/><rect x="58.5" y="13.5" width="3.6" height="3.6" fill="#6e9b7f"/><rect x="58.5" y="18" width="3.6" height="3.6" fill="#6e9b7f"/><rect x="58.5" y="22.5" width="3.6" height="3.6" fill="#6e9b7f"/><rect x="58.5" y="27" width="3.6" height="3.6" fill="#6e9b7f"/>
<rect x="63" y="0" width="3.6" height="3.6" fill="#6e9b7f"/><rect x="63" y="4.5" width="3.6" height="3.6" fill="#6e9b7f"/><rect x="63" y="9" width="3.6" height="3.6" fill="#6e9b7f"/><rect x="63" y="13.5" width="3.6" height="3.6" fill="#6e9b7f"/><rect x="63" y="18" width="3.6" height="3.6" fill="#6e9b7f"/><rect x="63" y="22.5" width="3.6" height="3.6" fill="#6e9b7f"/><rect x="63" y="27" width="3.6" height="3.6" fill="#6e9b7f"/>
<rect x="67.5" y="0" width="3.6" height="3.6" fill="#6e9b7f"/><rect x="67.5" y="4.5" width="3.6" height="3.6" fill="#6e9b7f"/><rect x="67.5" y="9" width="3.6" height="3.6" fill="#6e9b7f"/><rect x="67.5" y="13.5" width="3.6" height="3.6" fill="#6e9b7f"/><rect x="67.5" y="18" width="3.6" height="3.6" fill="#6e9b7f"/><rect x="67.5" y="22.5" width="3.6" height="3.6" fill="#6e9b7f"/><rect x="67.5" y="27" width="3.6" height="3.6" fill="#6e9b7f"/>
<rect x="72" y="0" width="3.6" height="3.6" fill="#6e9b7f"/><rect x="72" y="4.5" width="3.6" height="3.6" fill="#6e9b7f"/><rect x="72" y="9" width="3.6" height="3.6" fill="#6e9b7f"/><rect x="72" y="13.5" width="3.6" height="3.6" fill="#6e9b7f"/><rect x="72" y="18" width="3.6" height="3.6" fill="#6e9b7f"/><rect x="72" y="22.5" width="3.6" height="3.6" fill="#6e9b7f"/><rect x="72" y="27" width="3.6" height="3.6" fill="#6e9b7f"/>
<rect x="76.5" y="0" width="3.6" height="3.6" fill="#6e9b7f"/><rect x="76.5" y="4.5" width="3.6" height="3.6" fill="#6e9b7f"/><rect x="76.5" y="9" width="3.6" height="3.6" fill="#6e9b7f"/><rect x="76.5" y="13.5" width="3.6" height="3.6" fill="#6e9b7f"/><rect x="76.5" y="18" width="3.6" height="3.6" fill="#6e9b7f"/><rect x="76.5" y="22.5" width="3.6" height="3.6" fill="#6e9b7f"/><rect x="76.5" y="27" width="3.6" height="3.6" fill="#6e9b7f"/>
<rect x="81" y="0" width="3.6" height="3.6" fill="#6e9b7f"/><rect x="81" y="4.5" width="3.6" height="3.6" fill="#6e9b7f"/><rect x="81" y="9" width="3.6" height="3.6" fill="#6e9b7f"/><rect x="81" y="13.5" width="3.6" height="3.6" fill="#6e9b7f"/><rect x="81" y="18" width="3.6" height="3.6" fill="#6e9b7f"/><rect x="81" y="22.5" width="3.6" height="3.6" fill="#6e9b7f"/><rect x="81" y="27" width="3.6" height="3.6" fill="#6e9b7f"/>
<rect x="85.5" y="0" width="3.6" height="3.6" fill="#6e9b7f"/><rect x="85.5" y="4.5" width="3.6" height="3.6" fill="#6e9b7f"/><rect x="85.5" y="9" width="3.6" height="3.6" fill="#6e9b7f"/><rect x="85.5" y="13.5" width="3.6" height="3.6" fill="#6e9b7f"/><rect x="85.5" y="18" width="3.6" height="3.6" fill="#6e9b7f"/><rect x="85.5" y="22.5" width="3.6" height="3.6" fill="#6e9b7f"/><rect x="85.5" y="27" width="3.6" height="3.6" fill="#6e9b7f"/>
<rect x="90" y="0" width="3.6" height="3.6" fill="#6e9b7f"/><rect x="90" y="4.5" width="3.6" height="3.6" fill="#6e9b7f"/><rect x="90" y="9" width="3.6" height="3.6" fill="#6e9b7f"/><rect x="90" y="13.5" width="3.6" height="3.6" fill="#6e9b7f"/><rect x="90" y="18" width="3.6" height="3.6" fill="#6e9b7f"/><rect x="90" y="22.5" width="3.6" height="3.6" fill="#6e9b7f"/><rect x="90" y="27" width="3.6" height="3.6" fill="#6e9b7f"/>
<rect x="94.5" y="0" width="3.6" height="3.6" fill="#6e9b7f"/><rect x="94.5" y="4.5" width="3.6" height="3.6" fill="#6e9b7f"/><rect x="94.5" y="9" width="3.6" height="3.6" fill="#6e9b7f"/><rect x="94.5" y="13.5" width="3.6" height="3.6" fill="#6e9b7f"/><rect x="94.5" y="18" width="3.6" height="3.6" fill="#6e9b7f"/><rect x="94.5" y="22.5" width="3.6" height="3.6" fill="#6e9b7f"/><rect x="94.5" y="27" width="3.6" height="3.6" fill="#6e9b7f"/>
<rect x="99" y="0" width="3.6" height="3.6" fill="#6e9b7f"/><rect x="99" y="4.5" width="3.6" height="3.6" fill="#6e9b7f"/><rect x="99" y="9" width="3.6" height="3.6" fill="#6e9b7f"/><rect x="99" y="13.5" width="3.6" height="3.6" fill="#6e9b7f"/><rect x="99" y="18" width="3.6" height="3.6" fill="#6e9b7f"/><rect x="99" y="22.5" width="3.6" height="3.6" fill="#6e9b7f"/><rect x="99" y="27" width="3.6" height="3.6" fill="#6e9b7f"/>
<rect x="103.5" y="0" width="3.6" height="3.6" fill="#6e9b7f"/><rect x="103.5" y="4.5" width="3.6" height="3.6" fill="#6e9b7f"/><rect x="103.5" y="9" width="3.6" height="3.6" fill="#6e9b7f"/><rect x="103.5" y="13.5" width="3.6" height="3.6" fill="#6e9b7f"/><rect x="103.5" y="18" width="3.6" height="3.6" fill="#6e9b7f"/><rect x="103.5" y="22.5" width="3.6" height="3.6" fill="#6e9b7f"/><rect x="103.5" y="27" width="3.6" height="3.6" fill="#6e9b7f"/>
<rect x="108" y="0" width="3.6" height="3.6" fill="#6e9b7f"/><rect x="108" y="4.5" width="3.6" height="3.6" fill="#6e9b7f"/><rect x="108" y="9" width="3.6" height="3.6" fill="#6e9b7f"/><rect x="108" y="13.5" width="3.6" height="3.6" fill="#6e9b7f"/><rect x="108" y="18" width="3.6" height="3.6" fill="#6e9b7f"/><rect x="108" y="22.5" width="3.6" height="3.6" fill="#6e9b7f"/><rect x="108" y="27" width="3.6" height="3.6" fill="#6e9b7f"/>
<rect x="112.5" y="0" width="3.6" height="3.6" fill="#6e9b7f"/><rect x="112.5" y="4.5" width="3.6" height="3.6" fill="#6e9b7f"/><rect x="112.5" y="9" width="3.6" height="3.6" fill="#6e9b7f"/><rect x="112.5" y="13.5" width="3.6" height="3.6" fill="#6e9b7f"/><rect x="112.5" y="18" width="3.6" height="3.6" fill="#6e9b7f"/><rect x="112.5" y="22.5" width="3.6" height="3.6" fill="#6e9b7f"/><rect x="112.5" y="27" width="3.6" height="3.6" fill="#6e9b7f"/>
<rect x="117" y="0" width="3.6" height="3.6" fill="#6e9b7f"/><rect x="117" y="4.5" width="3.6" height="3.6" fill="#6e9b7f"/><rect x="117" y="9" width="3.6" height="3.6" fill="#6e9b7f"/><rect x="117" y="13.5" width="3.6" height="3.6" fill="#6e9b7f"/><rect x="117" y="18" width="3.6" height="3.6" fill="#6e9b7f"/><rect x="117" y="22.5" width="3.6" height="3.6" fill="#6e9b7f"/><rect x="117" y="27" width="3.6" height="3.6" fill="#6e9b7f"/>
<rect x="121.5" y="0" width="3.6" height="3.6" fill="#6e9b7f"/><rect x="121.5" y="4.5" width="3.6" height="3.6" fill="#6e9b7f"/><rect x="121.5" y="9" width="3.6" height="3.6" fill="#6e9b7f"/><rect x="121.5" y="13.5" width="3.6" height="3.6" fill="#6e9b7f"/><rect x="121.5" y="18" width="3.6" height="3.6" fill="#6e9b7f"/><rect x="121.5" y="22.5" width="3.6" height="3.6" fill="#6e9b7f"/><rect x="121.5" y="27" width="3.6" height="3.6" fill="#6e9b7f"/>
<rect x="126" y="0" width="3.6" height="3.6" fill="#6e9b7f"/><rect x="126" y="4.5" width="3.6" height="3.6" fill="#6e9b7f"/><rect x="126" y="9" width="3.6" height="3.6" fill="#6e9b7f"/><rect x="126" y="13.5" width="3.6" height="3.6" fill="#6e9b7f"/><rect x="126" y="18" width="3.6" height="3.6" fill="#6e9b7f"/><rect x="126" y="22.5" width="3.6" height="3.6" fill="#6e9b7f"/><rect x="126" y="27" width="3.6" height="3.6" fill="#6e9b7f"/>
<rect x="130.5" y="0" width="3.6" height="3.6" fill="#6e9b7f"/><rect x="130.5" y="4.5" width="3.6" height="3.6" fill="#6e9b7f"/><rect x="130.5" y="9" width="3.6" height="3.6" fill="#6e9b7f"/><rect x="130.5" y="13.5" width="3.6" height="3.6" fill="#6e9b7f"/><rect x="130.5" y="18" width="3.6" height="3.6" fill="#6e9b7f"/><rect x="130.5" y="22.5" width="3.6" height="3.6" fill="#6e9b7f"/><rect x="130.5" y="27" width="3.6" height="3.6" fill="#6e9b7f"/>
<rect x="135" y="0" width="3.6" height="3.6" fill="#6e9b7f"/><rect x="135" y="4.5" width="3.6" height="3.6" fill="#6e9b7f"/><rect x="135" y="9" width="3.6" height="3.6" fill="#6e9b7f"/><rect x="135" y="13.5" width="3.6" height="3.6" fill="#6e9b7f"/><rect x="135" y="18" width="3.6" height="3.6" fill="#6e9b7f"/><rect x="135" y="22.5" width="3.6" height="3.6" fill="#6e9b7f"/><rect x="135" y="27" width="3.6" height="3.6" fill="#6e9b7f"/>
<rect x="139.5" y="0" width="3.6" height="3.6" fill="#6e9b7f"/><rect x="139.5" y="4.5" width="3.6" height="3.6" fill="#6e9b7f"/><rect x="139.5" y="9" width="3.6" height="3.6" fill="#6e9b7f"/><rect x="139.5" y="13.5" width="3.6" height="3.6" fill="#6e9b7f"/><rect x="139.5" y="18" width="3.6" height="3.6" fill="#6e9b7f"/><rect x="139.5" y="22.5" width="3.6" height="3.6" fill="#6e9b7f"/><rect x="139.5" y="27" width="3.6" height="3.6" fill="#6e9b7f"/>
<rect x="144" y="0" width="3.6" height="3.6" fill="#6e9b7f"/><rect x="144" y="4.5" width="3.6" height="3.6" fill="#6e9b7f"/><rect x="144" y="9" width="3.6" height="3.6" fill="#6e9b7f"/><rect x="144" y="13.5" width="3.6" height="3.6" fill="#6e9b7f"/><rect x="144" y="18" width="3.6" height="3.6" fill="#6e9b7f"/><rect x="144" y="22.5" width="3.6" height="3.6" fill="#6e9b7f"/><rect x="144" y="27" width="3.6" height="3.6" fill="#6e9b7f"/>
<rect x="148.5" y="0" width="3.6" height="3.6" fill="#6e9b7f"/><rect x="148.5" y="4.5" width="3.6" height="3.6" fill="#6e9b7f"/><rect x="148.5" y="9" width="3.6" height="3.6" fill="#6e9b7f"/><rect x="148.5" y="13.5" width="3.6" height="3.6" fill="#6e9b7f"/><rect x="148.5" y="18" width="3.6" height="3.6" fill="#6e9b7f"/><rect x="148.5" y="22.5" width="3.6" height="3.6" fill="#6e9b7f"/><rect x="148.5" y="27" width="3.6" height="3.6" fill="#6e9b7f"/>
<rect x="153" y="0" width="3.6" height="3.6" fill="#6e9b7f"/><rect x="153" y="4.5" width="3.6" height="3.6" fill="#6e9b7f"/><rect x="153" y="9" width="3.6" height="3.6" fill="#6e9b7f"/><rect x="153" y="13.5" width="3.6" height="3.6" fill="#6e9b7f"/><rect x="153" y="18" width="3.6" height="3.6" fill="#6e9b7f"/><rect x="153" y="22.5" width="3.6" height="3.6" fill="#6e9b7f"/><rect x="153" y="27" width="3.6" height="3.6" fill="#6e9b7f"/>
<rect x="157.5" y="0" width="3.6" height="3.6" fill="#6e9b7f"/><rect x="157.5" y="4.5" width="3.6" height="3.6" fill="#6e9b7f"/><rect x="157.5" y="9" width="3.6" height="3.6" fill="#6e9b7f"/><rect x="157.5" y="13.5" width="3.6" height="3.6" fill="#6e9b7f"/><rect x="157.5" y="18" width="3.6" height="3.6" fill="#6e9b7f"/><rect x="157.5" y="22.5" width="3.6" height="3.6" fill="#6e9b7f"/><rect x="157.5" y="27" width="3.6" height="3.6" fill="#6e9b7f"/>
<rect x="162" y="0" width="3.6" height="3.6" fill="#6e9b7f"/><rect x="162" y="4.5" width="3.6" height="3.6" fill="#6e9b7f"/><rect x="162" y="9" width="3.6" height="3.6" fill="#6e9b7f"/><rect x="162" y="13.5" width="3.6" height="3.6" fill="#6e9b7f"/><rect x="162" y="18" width="3.6" height="3.6" fill="#6e9b7f"/><rect x="162" y="22.5" width="3.6" height="3.6" fill="#6e9b7f"/><rect x="162" y="27" width="3.6" height="3.6" fill="#6e9b7f"/>
<rect x="166.5" y="0" width="3.6" height="3.6" fill="#6e9b7f"/><rect x="166.5" y="4.5" width="3.6" height="3.6" fill="#6e9b7f"/><rect x="166.5" y="9" width="3.6" height="3.6" fill="#6e9b7f"/><rect x="166.5" y="13.5" width="3.6" height="3.6" fill="#6e9b7f"/><rect x="166.5" y="18" width="3.6" height="3.6" fill="#6e9b7f"/><rect x="166.5" y="22.5" width="3.6" height="3.6" fill="#6e9b7f"/><rect x="166.5" y="27" width="3.6" height="3.6" fill="#6e9b7f"/>
<rect x="171" y="0" width="3.6" height="3.6" fill="#6e9b7f"/><rect x="171" y="4.5" width="3.6" height="3.6" fill="#6e9b7f"/><rect x="171" y="9" width="3.6" height="3.6" fill="#6e9b7f"/><rect x="171" y="13.5" width="3.6" height="3.6" fill="#6e9b7f"/><rect x="171" y="18" width="3.6" height="3.6" fill="#6e9b7f"/><rect x="171" y="22.5" width="3.6" height="3.6" fill="#6e9b7f"/><rect x="171" y="27" width="3.6" height="3.6" fill="#6e9b7f"/>
<rect x="175.5" y="0" width="3.6" height="3.6" fill="#6e9b7f"/><rect x="175.5" y="4.5" width="3.6" height="3.6" fill="#6e9b7f"/><rect x="175.5" y="9" width="3.6" height="3.6" fill="#6e9b7f"/><rect x="175.5" y="13.5" width="3.6" height="3.6" fill="#6e9b7f"/><rect x="175.5" y="18" width="3.6" height="3.6" fill="#6e9b7f"/><rect x="175.5" y="22.5" width="3.6" height="3.6" fill="#6e9b7f"/><rect x="175.5" y="27" width="3.6" height="3.6" fill="#6e9b7f"/>
<rect x="180" y="0" width="3.6" height="3.6" fill="#6e9b7f"/><rect x="180" y="4.5" width="3.6" height="3.6" fill="#6e9b7f"/><rect x="180" y="9" width="3.6" height="3.6" fill="#6e9b7f"/><rect x="180" y="13.5" width="3.6" height="3.6" fill="#6e9b7f"/><rect x="180" y="18" width="3.6" height="3.6" fill="#6e9b7f"/><rect x="180" y="22.5" width="3.6" height="3.6" fill="#6e9b7f"/><rect x="180" y="27" width="3.6" height="3.6" fill="#6e9b7f"/>
<rect x="184.5" y="0" width="3.6" height="3.6" fill="#6e9b7f"/><rect x="184.5" y="4.5" width="3.6" height="3.6" fill="#6e9b7f"/><rect x="184.5" y="9" width="3.6" height="3.6" fill="#6e9b7f"/><rect x="184.5" y="13.5" width="3.6" height="3.6" fill="#6e9b7f"/><rect x="184.5" y="18" width="3.6" height="3.6" fill="#6e9b7f"/><rect x="184.5" y="22.5" width="3.6" height="3.6" fill="#6e9b7f"/><rect x="184.5" y="27" width="3.6" height="3.6" fill="#6e9b7f"/>
<rect x="189" y="0" width="3.6" height="3.6" fill="#6e9b7f"/><rect x="189" y="4.5" width="3.6" height="3.6" fill="#f0f0f0"/><rect x="189" y="9" width="3.6" height="3.6" fill="#f0f0f0"/><rect x="189" y="13.5" width="3.6" height="3.6" fill="#f0f0f0"/><rect x="189" y="18" width="3.6" height="3.6" fill="#f0f0f0"/><rect x="189" y="22.5" width="3.6" height="3.6" fill="#f0f0f0"/><rect x="189" y="27" width="3.6" height="3.6" fill="#f0f0f0"/>
<rect x="193.5" y="0" width="3.6" height="3.6" fill="#f0f0f0"/><rect x="193.5" y="4.5" width="3.6" height="3.6" fill="#f0f0f0"/><rect x="193.5" y="9" width="3.6" height="3.6" fill="#f0f0f0"/><rect x="193.5" y="13.5" width="3.6" height="3.6" fill="#f0f0f0"/><rect x="193.5" y="18" width="3.6" height="3.6" fill="#f0f0f0"/><rect x="193.5" y="22.5" width="3.6" height="3.6" fill="#f0f0f0"/><rect x="193.5" y="27" width="3.6" height="3.6" fill="#f0f0f0"/>
<rect x="198" y="0" width="3.6" height="3.6" fill="#f0f0f0"/><rect x="198" y="4.5" width="3.6" height="3.6" fill="#f0f0f0"/><rect x="198" y="9" width="3.6" height="3.6" fill="#f0f0f0"/><rect x="198" y="13.5" width="3.6" height="3.6" fill="#f0f0f0"/><rect x="198" y="18" width="3.6" height="3.6" fill="#f0f0f0"/><rect x="198" y="22.5" width="3.6" height="3.6" fill="#f0f0f0"/><rect x="198" y="27" width="3.6" height="3.6" fill="#f0f0f0"/>
<rect x="202.5" y="0" width="3.6" height="3.6" fill="#f0f0f0"/><rect x="202.5" y="4.5" width="3.6" height="3.6" fill="#f0f0f0"/><rect x="202.5" y="9" width="3.6" height="3.6" fill="#f0f0f0"/><rect x="202.5" y="13.5" width="3.6" height="3.6" fill="#f0f0f0"/><rect x="202.5" y="18" width="3.6" height="3.6" fill="#f0f0f0"/><rect x="202.5" y="22.5" width="3.6" height="3.6" fill="#f0f0f0"/><rect x="202.5" y="27" width="3.6" height="3.6" fill="#f0f0f0"/>
<rect x="207" y="0" width="3.6" height="3.6" fill="#f0f0f0"/><rect x="207" y="4.5" width="3.6" height="3.6" fill="#f0f0f0"/><rect x="207" y="9" width="3.6" height="3.6" fill="#f0f0f0"/><rect x="207" y="13.5" width="3.6" height="3.6" fill="#f0f0f0"/><rect x="207" y="18" width="3.6" height="3.6" fill="#f0f0f0"/><rect x="207" y="22.5" width="3.6" height="3.6" fill="#f0f0f0"/><rect x="207" y="27" width="3.6" height="3.6" fill="#f0f0f0"/>
<rect x="211.5" y="0" width="3.6" height="3.6" fill="#f0f0f0"/><rect x="211.5" y="4.5" width="3.6" height="3.6" fill="#f0f0f0"/><rect x="211.5" y="9" width="3.6" height="3.6" fill="#f0f0f0"/><rect x="211.5" y="13.5" width="3.6" height="3.6" fill="#f0f0f0"/><rect x="211.5" y="18" width="3.6" height="3.6" fill="#f0f0f0"/><rect x="211.5" y="22.5" width="3.6" height="3.6" fill="#f0f0f0"/><rect x="211.5" y="27" width="3.6" height="3.6" fill="#f0f0f0"/>
<rect x="216" y="0" width="3.6" height="3.6" fill="#f0f0f0"/><rect x="216" y="4.5" width="3.6" height="3.6" fill="#f0f0f0"/><rect x="216" y="9" width="3.6" height="3.6" fill="#f0f0f0"/><rect x="216" y="13.5" width="3.6" height="3.6" fill="#f0f0f0"/><rect x="216" y="18" width="3.6" height="3.6" fill="#f0f0f0"/><rect x="216" y="22.5" width="3.6" height="3.6" fill="#f0f0f0"/><rect x="216" y="27" width="3.6" height="3.6" fill="#f0f0f0"/>
<rect x="220.5" y="0" width="3.6" height="3.6" fill="#f0f0f0"/><rect x="220.5" y="4.5" width="3.6" height="3.6" fill="#f0f0f0"/><rect x="220.5" y="9" width="3.6" height="3.6" fill="#f0f0f0"/><rect x="220.5" y="13.5" width="3.6" height="3.6" fill="#f0f0f0"/><rect x="220.5" y="18" width="3.6" height="3.6" fill="#f0f0f0"/><rect x="220.5" y="22.5" width="3.6" height="3.6" fill="#f0f0f0"/><rect x="220.5" y="27" width="3.6" height="3.6" fill="#f0f0f0"/>
<rect x="225" y="0" width="3.6" height="3.6" fill="#f0f0f0"/><rect x="225" y="4.5" width="3.6" height="3.6" fill="#f0f0f0"/><rect x="225" y="9" width="3.6" height="3.6" fill="#f0f0f0"/><rect x="225" y="13.5" width="3.6" height="3.6" fill="#f0f0f0"/><rect x="225" y="18" width="3.6" height="3.6" fill="#f0f0f0"/><rect x="225" y="22.5" width="3.6" height="3.6" fill="#f0f0f0"/><rect x="225" y="27" width="3.6" height="3.6" fill="#f0f0f0"/>
<rect x="229.5" y="0" width="3.6" height="3.6" fill="#f0f0f0"/><rect x="229.5" y="4.5" width="3.6" height="3.6" fill="#f0f0f0"/><rect x="229.5" y="9" width="3.6" height="3.6" fill="#f0f0f0"/><rect x="229.5" y="13.5" width="3.6" height="3.6" fill="#f0f0f0"/><rect x="229.5" y="18" width="3.6" height="3.6" fill="#f0f0f0"/><rect x="229.5" y="22.5" width="3.6" height="3.6" fill="#f0f0f0"/><rect x="229.5" y="27" width="3.6" height="3.6" fill="#f0f0f0"/>
<rect x="234" y="0" width="3.6" height="3.6" fill="#f0f0f0"/><rect x="234" y="4.5" width="3.6" height="3.6" fill="#f0f0f0"/><rect x="234" y="9" width="3.6" height="3.6" fill="#f0f0f0"/><rect x="234" y="13.5" width="3.6" height="3.6" fill="#f0f0f0"/><rect x="234" y="18" width="3.6" height="3.6" fill="#f0f0f0"/><rect x="234" y="22.5" width="3.6" height="3.6" fill="#f0f0f0"/>
</g></g></svg>
<h2 style="left:10.50px;top:11.55px;letter-spacing:-0.267px">Wake up before 7 everyday</h2>
<p class="st b" style="left:10.50px;top:92.02px;letter-spacing:-0.232px">Today: <span class="ck">✓</span>Done!</p>
<p class="st" style="left:10.50px;top:102.57px;letter-spacing:-0.002px">Streak: 290 days</p>
<p class="st" style="left:10.50px;top:112.62px;letter-spacing:0.071px">Number of days: 290 days</p>
</div>
</div>
</body></html>
